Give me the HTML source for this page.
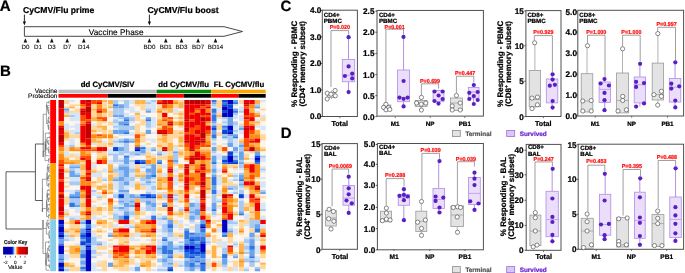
<!DOCTYPE html>
<html><head><meta charset="utf-8"><title>Figure</title>
<style>
html,body{margin:0;padding:0;background:#fff;}
svg{display:block;font-family:"Liberation Sans", sans-serif;text-rendering:geometricPrecision;will-change:transform;}
</style></head>
<body>
<svg width="685" height="273" viewBox="0 0 685 273">
<rect x="0" y="0" width="685" height="273" fill="#fff"/>
<text x="-0.3" y="11.0" font-size="15.1" font-weight="bold" text-anchor="start" fill="#000" stroke="#000" stroke-width="0.22" >A</text>
<text x="23.1" y="13.2" font-size="8.6" font-weight="bold" text-anchor="start" fill="#000" stroke="#000" stroke-width="0.22" >CyCMV/Flu prime</text>
<text x="147.4" y="13.2" font-size="8.6" font-weight="bold" text-anchor="start" fill="#000" stroke="#000" stroke-width="0.22" >CyCMV/Flu boost</text>
<line x1="24.4" y1="14.6" x2="24.4" y2="22.5" stroke="#111" stroke-width="0.9"/>
<polygon points="22.799999999999997,21.6 26.0,21.6 24.4,25.6" fill="#111"/>
<line x1="149.4" y1="14.6" x2="149.4" y2="22.5" stroke="#111" stroke-width="0.9"/>
<polygon points="147.8,21.6 151.0,21.6 149.4,25.6" fill="#111"/>
<polygon points="24.4,26.7 224,26.7 242.5,31.5 224,36.3 24.4,36.3" fill="#fff" stroke="#333" stroke-width="0.9"/>
<text x="88.8" y="34.5" font-size="8.3" font-weight="normal" text-anchor="start" fill="#000" stroke="#000" stroke-width="0.12" >Vaccine Phase</text>
<polygon points="23.599999999999998,42.4 27.2,42.4 25.4,38.2" fill="#111"/>
<text x="25.4" y="48.8" font-size="6.2" font-weight="normal" text-anchor="middle" fill="#111" stroke="#111" stroke-width="0.12" >D0</text>
<polygon points="36.1,42.4 39.699999999999996,42.4 37.9,38.2" fill="#111"/>
<text x="37.9" y="48.8" font-size="6.2" font-weight="normal" text-anchor="middle" fill="#111" stroke="#111" stroke-width="0.12" >D1</text>
<polygon points="50.0,42.4 53.599999999999994,42.4 51.8,38.2" fill="#111"/>
<text x="51.8" y="48.8" font-size="6.2" font-weight="normal" text-anchor="middle" fill="#111" stroke="#111" stroke-width="0.12" >D3</text>
<polygon points="65.4,42.4 69.0,42.4 67.2,38.2" fill="#111"/>
<text x="67.2" y="48.8" font-size="6.2" font-weight="normal" text-anchor="middle" fill="#111" stroke="#111" stroke-width="0.12" >D7</text>
<polygon points="82.0,42.4 85.6,42.4 83.8,38.2" fill="#111"/>
<text x="83.8" y="48.8" font-size="6.2" font-weight="normal" text-anchor="middle" fill="#111" stroke="#111" stroke-width="0.12" >D14</text>
<polygon points="147.6,42.4 151.20000000000002,42.4 149.4,38.2" fill="#111"/>
<text x="149.4" y="48.8" font-size="6.2" font-weight="normal" text-anchor="middle" fill="#111" stroke="#111" stroke-width="0.12" >BD0</text>
<polygon points="164.0,42.4 167.60000000000002,42.4 165.8,38.2" fill="#111"/>
<text x="165.8" y="48.8" font-size="6.2" font-weight="normal" text-anchor="middle" fill="#111" stroke="#111" stroke-width="0.12" >BD1</text>
<polygon points="179.7,42.4 183.3,42.4 181.5,38.2" fill="#111"/>
<text x="181.5" y="48.8" font-size="6.2" font-weight="normal" text-anchor="middle" fill="#111" stroke="#111" stroke-width="0.12" >BD3</text>
<polygon points="196.29999999999998,42.4 199.9,42.4 198.1,38.2" fill="#111"/>
<text x="198.1" y="48.8" font-size="6.2" font-weight="normal" text-anchor="middle" fill="#111" stroke="#111" stroke-width="0.12" >BD7</text>
<polygon points="213.7,42.4 217.3,42.4 215.5,38.2" fill="#111"/>
<text x="215.5" y="48.8" font-size="6.2" font-weight="normal" text-anchor="middle" fill="#111" stroke="#111" stroke-width="0.12" >BD14</text>
<text x="0.1" y="75.7" font-size="15.0" font-weight="bold" text-anchor="start" fill="#000" stroke="#000" stroke-width="0.22" >B</text>
<text x="107.6" y="87" font-size="7.8" font-weight="bold" text-anchor="middle" fill="#000" stroke="#000" stroke-width="0.22" >dd CyCMV/SIV</text>
<text x="183.6" y="87" font-size="7.8" font-weight="bold" text-anchor="middle" fill="#000" stroke="#000" stroke-width="0.22" >dd CyCMV/flu</text>
<text x="239.0" y="87" font-size="7.8" font-weight="bold" text-anchor="middle" fill="#000" stroke="#000" stroke-width="0.22" >FL CyCMV/flu</text>
<text x="57.4" y="93.3" font-size="6.5" font-weight="normal" text-anchor="end" fill="#000" stroke="#000" stroke-width="0.12" >Vaccine</text>
<text x="57.4" y="98.4" font-size="6.5" font-weight="normal" text-anchor="end" fill="#000" stroke="#000" stroke-width="0.12" >Protection</text>
<rect x="58.5" y="89.7" width="98.14736842105265" height="3.6" fill="#bebebe" stroke="none" stroke-width="1" />
<rect x="156.64736842105265" y="89.7" width="54.52631578947367" height="3.6" fill="#0a8a0a" stroke="none" stroke-width="1" />
<rect x="211.17368421052632" y="89.7" width="54.52631578947367" height="3.6" fill="#ffa500" stroke="none" stroke-width="1" />
<rect x="58.5" y="94.0" width="49.073684210526324" height="3.7" fill="#ff0000" stroke="none" stroke-width="1" />
<rect x="107.57368421052632" y="94.0" width="49.073684210526324" height="3.7" fill="#000" stroke="none" stroke-width="1" />
<rect x="156.64736842105265" y="94.0" width="27.26315789473682" height="3.7" fill="#ff0000" stroke="none" stroke-width="1" />
<rect x="183.91052631578947" y="94.0" width="27.26315789473685" height="3.7" fill="#000" stroke="none" stroke-width="1" />
<rect x="211.17368421052632" y="94.0" width="27.26315789473685" height="3.7" fill="#ff0000" stroke="none" stroke-width="1" />
<rect x="238.43684210526317" y="94.0" width="27.26315789473682" height="3.7" fill="#000" stroke="none" stroke-width="1" />
<rect x="58.50" y="100.00" width="5.50" height="8.61" fill="#c20000"/>
<rect x="58.50" y="108.56" width="5.50" height="12.89" fill="#ee0000"/>
<rect x="58.50" y="121.40" width="5.50" height="4.33" fill="#ff8b12"/>
<rect x="58.50" y="125.68" width="5.50" height="2.19" fill="#ee0000"/>
<rect x="58.50" y="127.82" width="5.50" height="2.19" fill="#c20000"/>
<rect x="58.50" y="129.96" width="5.50" height="4.33" fill="#ee0000"/>
<rect x="58.50" y="134.24" width="5.50" height="8.61" fill="#c20000"/>
<rect x="58.50" y="142.80" width="5.50" height="2.19" fill="#ee0000"/>
<rect x="58.50" y="144.94" width="5.50" height="2.19" fill="#ff4c00"/>
<rect x="58.50" y="147.08" width="5.50" height="4.33" fill="#ff8b12"/>
<rect x="58.50" y="151.36" width="5.50" height="2.19" fill="#ffb449"/>
<rect x="58.50" y="153.50" width="5.50" height="6.47" fill="#ff8b12"/>
<rect x="58.50" y="159.92" width="5.50" height="4.33" fill="#ff4c00"/>
<rect x="58.50" y="164.20" width="5.50" height="2.19" fill="#ee0000"/>
<rect x="58.50" y="166.34" width="5.50" height="2.19" fill="#ff4c00"/>
<rect x="58.50" y="168.48" width="5.50" height="4.33" fill="#ee0000"/>
<rect x="58.50" y="172.76" width="5.50" height="2.19" fill="#c20000"/>
<rect x="58.50" y="174.90" width="5.50" height="4.33" fill="#ee0000"/>
<rect x="58.50" y="179.18" width="5.50" height="2.19" fill="#ff4c00"/>
<rect x="58.50" y="181.32" width="5.50" height="10.75" fill="#ee0000"/>
<rect x="58.50" y="192.02" width="5.50" height="2.19" fill="#ff4c00"/>
<rect x="58.50" y="194.16" width="5.50" height="4.33" fill="#c20000"/>
<rect x="58.50" y="198.44" width="5.50" height="8.61" fill="#ee0000"/>
<rect x="58.50" y="207.00" width="5.50" height="4.33" fill="#c20000"/>
<rect x="58.50" y="211.28" width="5.50" height="4.33" fill="#ee0000"/>
<rect x="58.50" y="215.56" width="5.50" height="2.19" fill="#ff4c00"/>
<rect x="58.50" y="217.70" width="5.50" height="2.19" fill="#ff8b12"/>
<rect x="58.50" y="219.84" width="5.50" height="4.33" fill="#0000c0"/>
<rect x="58.50" y="224.12" width="5.50" height="2.19" fill="#0a44da"/>
<rect x="58.50" y="226.26" width="5.50" height="6.47" fill="#0000c0"/>
<rect x="58.50" y="232.68" width="5.50" height="2.19" fill="#0a44da"/>
<rect x="58.50" y="234.82" width="5.50" height="2.19" fill="#0000c0"/>
<rect x="58.50" y="236.96" width="5.50" height="2.19" fill="#3276e4"/>
<rect x="58.50" y="239.10" width="5.50" height="4.33" fill="#6ca4ec"/>
<rect x="58.50" y="243.38" width="5.50" height="2.19" fill="#3276e4"/>
<rect x="58.50" y="245.52" width="5.50" height="8.61" fill="#0000c0"/>
<rect x="58.50" y="254.08" width="5.50" height="4.33" fill="#6ca4ec"/>
<rect x="58.50" y="258.36" width="5.50" height="2.19" fill="#3276e4"/>
<rect x="58.50" y="260.50" width="5.50" height="2.19" fill="#6ca4ec"/>
<rect x="58.50" y="262.64" width="5.50" height="4.33" fill="#0000c0"/>
<rect x="58.50" y="266.92" width="5.50" height="2.19" fill="#0a44da"/>
<rect x="58.50" y="269.06" width="5.50" height="2.19" fill="#0000c0"/>
<rect x="63.95" y="100.00" width="5.50" height="4.33" fill="#ffd79c"/>
<rect x="63.95" y="104.28" width="5.50" height="2.19" fill="#fef4ea"/>
<rect x="63.95" y="106.42" width="5.50" height="2.19" fill="#ffd79c"/>
<rect x="63.95" y="108.56" width="5.50" height="2.19" fill="#6ca4ec"/>
<rect x="63.95" y="110.70" width="5.50" height="2.19" fill="#a8caf2"/>
<rect x="63.95" y="112.84" width="5.50" height="2.19" fill="#ffd79c"/>
<rect x="63.95" y="114.98" width="5.50" height="2.19" fill="#ffb449"/>
<rect x="63.95" y="117.12" width="5.50" height="6.47" fill="#fef4ea"/>
<rect x="63.95" y="123.54" width="5.50" height="6.47" fill="#d6e6f8"/>
<rect x="63.95" y="129.96" width="5.50" height="2.19" fill="#ffd79c"/>
<rect x="63.95" y="132.10" width="5.50" height="6.47" fill="#ffb449"/>
<rect x="63.95" y="138.52" width="5.50" height="2.19" fill="#ffd79c"/>
<rect x="63.95" y="140.66" width="5.50" height="4.33" fill="#fef4ea"/>
<rect x="63.95" y="144.94" width="5.50" height="2.19" fill="#d6e6f8"/>
<rect x="63.95" y="147.08" width="5.50" height="4.33" fill="#ffd79c"/>
<rect x="63.95" y="151.36" width="5.50" height="4.33" fill="#d6e6f8"/>
<rect x="63.95" y="155.64" width="5.50" height="2.19" fill="#ffd79c"/>
<rect x="63.95" y="157.78" width="5.50" height="4.33" fill="#ffb449"/>
<rect x="63.95" y="162.06" width="5.50" height="2.19" fill="#ff8b12"/>
<rect x="63.95" y="164.20" width="5.50" height="4.33" fill="#fef4ea"/>
<rect x="63.95" y="168.48" width="5.50" height="2.19" fill="#ffd79c"/>
<rect x="63.95" y="170.62" width="5.50" height="2.19" fill="#ffb449"/>
<rect x="63.95" y="172.76" width="5.50" height="4.33" fill="#fef4ea"/>
<rect x="63.95" y="177.04" width="5.50" height="2.19" fill="#ffd79c"/>
<rect x="63.95" y="179.18" width="5.50" height="2.19" fill="#fef4ea"/>
<rect x="63.95" y="181.32" width="5.50" height="2.19" fill="#ffd79c"/>
<rect x="63.95" y="183.46" width="5.50" height="2.19" fill="#fef4ea"/>
<rect x="63.95" y="185.60" width="5.50" height="2.19" fill="#ffd79c"/>
<rect x="63.95" y="187.74" width="5.50" height="2.19" fill="#fef4ea"/>
<rect x="63.95" y="189.88" width="5.50" height="2.19" fill="#d6e6f8"/>
<rect x="63.95" y="192.02" width="5.50" height="4.33" fill="#fef4ea"/>
<rect x="63.95" y="196.30" width="5.50" height="8.61" fill="#ffd79c"/>
<rect x="63.95" y="204.86" width="5.50" height="4.33" fill="#fef4ea"/>
<rect x="63.95" y="209.14" width="5.50" height="2.19" fill="#d6e6f8"/>
<rect x="63.95" y="211.28" width="5.50" height="2.19" fill="#ffd79c"/>
<rect x="63.95" y="213.42" width="5.50" height="2.19" fill="#ffb449"/>
<rect x="63.95" y="215.56" width="5.50" height="2.19" fill="#d6e6f8"/>
<rect x="63.95" y="217.70" width="5.50" height="4.33" fill="#fef4ea"/>
<rect x="63.95" y="221.98" width="5.50" height="2.19" fill="#ffd79c"/>
<rect x="63.95" y="224.12" width="5.50" height="4.33" fill="#fef4ea"/>
<rect x="63.95" y="228.40" width="5.50" height="2.19" fill="#ffd79c"/>
<rect x="63.95" y="230.54" width="5.50" height="2.19" fill="#ffb449"/>
<rect x="63.95" y="232.68" width="5.50" height="2.19" fill="#d6e6f8"/>
<rect x="63.95" y="234.82" width="5.50" height="2.19" fill="#a8caf2"/>
<rect x="63.95" y="236.96" width="5.50" height="2.19" fill="#d6e6f8"/>
<rect x="63.95" y="239.10" width="5.50" height="2.19" fill="#a8caf2"/>
<rect x="63.95" y="241.24" width="5.50" height="4.33" fill="#fef4ea"/>
<rect x="63.95" y="245.52" width="5.50" height="2.19" fill="#ffd79c"/>
<rect x="63.95" y="247.66" width="5.50" height="2.19" fill="#fef4ea"/>
<rect x="63.95" y="249.80" width="5.50" height="2.19" fill="#ffd79c"/>
<rect x="63.95" y="251.94" width="5.50" height="2.19" fill="#fef4ea"/>
<rect x="63.95" y="254.08" width="5.50" height="6.47" fill="#d6e6f8"/>
<rect x="63.95" y="260.50" width="5.50" height="2.19" fill="#fef4ea"/>
<rect x="63.95" y="262.64" width="5.50" height="4.33" fill="#ffb449"/>
<rect x="63.95" y="266.92" width="5.50" height="2.19" fill="#d6e6f8"/>
<rect x="63.95" y="269.06" width="5.50" height="2.19" fill="#a8caf2"/>
<rect x="69.41" y="100.00" width="5.50" height="2.19" fill="#d6e6f8"/>
<rect x="69.41" y="102.14" width="5.50" height="2.19" fill="#fef4ea"/>
<rect x="69.41" y="104.28" width="5.50" height="2.19" fill="#ffd79c"/>
<rect x="69.41" y="106.42" width="5.50" height="2.19" fill="#ffb449"/>
<rect x="69.41" y="108.56" width="5.50" height="2.19" fill="#fef4ea"/>
<rect x="69.41" y="110.70" width="5.50" height="2.19" fill="#ffd79c"/>
<rect x="69.41" y="112.84" width="5.50" height="2.19" fill="#d6e6f8"/>
<rect x="69.41" y="114.98" width="5.50" height="2.19" fill="#a8caf2"/>
<rect x="69.41" y="117.12" width="5.50" height="4.33" fill="#d6e6f8"/>
<rect x="69.41" y="121.40" width="5.50" height="4.33" fill="#fef4ea"/>
<rect x="69.41" y="125.68" width="5.50" height="2.19" fill="#d6e6f8"/>
<rect x="69.41" y="127.82" width="5.50" height="2.19" fill="#fef4ea"/>
<rect x="69.41" y="129.96" width="5.50" height="4.33" fill="#d6e6f8"/>
<rect x="69.41" y="134.24" width="5.50" height="4.33" fill="#ffd79c"/>
<rect x="69.41" y="138.52" width="5.50" height="6.47" fill="#d6e6f8"/>
<rect x="69.41" y="144.94" width="5.50" height="2.19" fill="#a8caf2"/>
<rect x="69.41" y="147.08" width="5.50" height="4.33" fill="#ff8b12"/>
<rect x="69.41" y="151.36" width="5.50" height="2.19" fill="#fef4ea"/>
<rect x="69.41" y="153.50" width="5.50" height="4.33" fill="#ffd79c"/>
<rect x="69.41" y="157.78" width="5.50" height="2.19" fill="#fef4ea"/>
<rect x="69.41" y="159.92" width="5.50" height="2.19" fill="#ffb449"/>
<rect x="69.41" y="162.06" width="5.50" height="2.19" fill="#ff8b12"/>
<rect x="69.41" y="164.20" width="5.50" height="2.19" fill="#a8caf2"/>
<rect x="69.41" y="166.34" width="5.50" height="2.19" fill="#6ca4ec"/>
<rect x="69.41" y="168.48" width="5.50" height="2.19" fill="#a8caf2"/>
<rect x="69.41" y="170.62" width="5.50" height="6.47" fill="#6ca4ec"/>
<rect x="69.41" y="177.04" width="5.50" height="4.33" fill="#d6e6f8"/>
<rect x="69.41" y="181.32" width="5.50" height="4.33" fill="#a8caf2"/>
<rect x="69.41" y="185.60" width="5.50" height="4.33" fill="#fef4ea"/>
<rect x="69.41" y="189.88" width="5.50" height="4.33" fill="#d6e6f8"/>
<rect x="69.41" y="194.16" width="5.50" height="2.19" fill="#6ca4ec"/>
<rect x="69.41" y="196.30" width="5.50" height="2.19" fill="#3276e4"/>
<rect x="69.41" y="198.44" width="5.50" height="4.33" fill="#a8caf2"/>
<rect x="69.41" y="202.72" width="5.50" height="4.33" fill="#3276e4"/>
<rect x="69.41" y="207.00" width="5.50" height="2.19" fill="#d6e6f8"/>
<rect x="69.41" y="209.14" width="5.50" height="6.47" fill="#fef4ea"/>
<rect x="69.41" y="215.56" width="5.50" height="2.19" fill="#d6e6f8"/>
<rect x="69.41" y="217.70" width="5.50" height="2.19" fill="#a8caf2"/>
<rect x="69.41" y="219.84" width="5.50" height="4.33" fill="#ffb449"/>
<rect x="69.41" y="224.12" width="5.50" height="4.33" fill="#ffd79c"/>
<rect x="69.41" y="228.40" width="5.50" height="2.19" fill="#ffb449"/>
<rect x="69.41" y="230.54" width="5.50" height="4.33" fill="#ffd79c"/>
<rect x="69.41" y="234.82" width="5.50" height="2.19" fill="#ffb449"/>
<rect x="69.41" y="236.96" width="5.50" height="4.33" fill="#d6e6f8"/>
<rect x="69.41" y="241.24" width="5.50" height="4.33" fill="#fef4ea"/>
<rect x="69.41" y="245.52" width="5.50" height="8.61" fill="#ffb449"/>
<rect x="69.41" y="254.08" width="5.50" height="4.33" fill="#ffd79c"/>
<rect x="69.41" y="258.36" width="5.50" height="4.33" fill="#fef4ea"/>
<rect x="69.41" y="262.64" width="5.50" height="2.19" fill="#ffd79c"/>
<rect x="69.41" y="264.78" width="5.50" height="2.19" fill="#ffb449"/>
<rect x="69.41" y="266.92" width="5.50" height="4.33" fill="#ffd79c"/>
<rect x="74.86" y="100.00" width="5.50" height="4.33" fill="#fef4ea"/>
<rect x="74.86" y="104.28" width="5.50" height="2.19" fill="#ffd79c"/>
<rect x="74.86" y="106.42" width="5.50" height="2.19" fill="#fef4ea"/>
<rect x="74.86" y="108.56" width="5.50" height="4.33" fill="#ffd79c"/>
<rect x="74.86" y="112.84" width="5.50" height="8.61" fill="#d6e6f8"/>
<rect x="74.86" y="121.40" width="5.50" height="2.19" fill="#fef4ea"/>
<rect x="74.86" y="123.54" width="5.50" height="8.61" fill="#d6e6f8"/>
<rect x="74.86" y="132.10" width="5.50" height="2.19" fill="#a8caf2"/>
<rect x="74.86" y="134.24" width="5.50" height="4.33" fill="#ffd79c"/>
<rect x="74.86" y="138.52" width="5.50" height="8.61" fill="#fef4ea"/>
<rect x="74.86" y="147.08" width="5.50" height="2.19" fill="#ffb449"/>
<rect x="74.86" y="149.22" width="5.50" height="2.19" fill="#ff8b12"/>
<rect x="74.86" y="151.36" width="5.50" height="2.19" fill="#fef4ea"/>
<rect x="74.86" y="153.50" width="5.50" height="2.19" fill="#d6e6f8"/>
<rect x="74.86" y="155.64" width="5.50" height="4.33" fill="#ffd79c"/>
<rect x="74.86" y="159.92" width="5.50" height="4.33" fill="#ffb449"/>
<rect x="74.86" y="164.20" width="5.50" height="2.19" fill="#a8caf2"/>
<rect x="74.86" y="166.34" width="5.50" height="2.19" fill="#6ca4ec"/>
<rect x="74.86" y="168.48" width="5.50" height="4.33" fill="#d6e6f8"/>
<rect x="74.86" y="172.76" width="5.50" height="2.19" fill="#a8caf2"/>
<rect x="74.86" y="174.90" width="5.50" height="2.19" fill="#6ca4ec"/>
<rect x="74.86" y="177.04" width="5.50" height="4.33" fill="#d6e6f8"/>
<rect x="74.86" y="181.32" width="5.50" height="4.33" fill="#a8caf2"/>
<rect x="74.86" y="185.60" width="5.50" height="4.33" fill="#fef4ea"/>
<rect x="74.86" y="189.88" width="5.50" height="2.19" fill="#a8caf2"/>
<rect x="74.86" y="192.02" width="5.50" height="4.33" fill="#6ca4ec"/>
<rect x="74.86" y="196.30" width="5.50" height="2.19" fill="#3276e4"/>
<rect x="74.86" y="198.44" width="5.50" height="6.47" fill="#a8caf2"/>
<rect x="74.86" y="204.86" width="5.50" height="2.19" fill="#6ca4ec"/>
<rect x="74.86" y="207.00" width="5.50" height="6.47" fill="#d6e6f8"/>
<rect x="74.86" y="213.42" width="5.50" height="2.19" fill="#fef4ea"/>
<rect x="74.86" y="215.56" width="5.50" height="4.33" fill="#d6e6f8"/>
<rect x="74.86" y="219.84" width="5.50" height="2.19" fill="#ff4c00"/>
<rect x="74.86" y="221.98" width="5.50" height="2.19" fill="#ee0000"/>
<rect x="74.86" y="224.12" width="5.50" height="4.33" fill="#ffd79c"/>
<rect x="74.86" y="228.40" width="5.50" height="2.19" fill="#ffb449"/>
<rect x="74.86" y="230.54" width="5.50" height="2.19" fill="#ff8b12"/>
<rect x="74.86" y="232.68" width="5.50" height="4.33" fill="#ffd79c"/>
<rect x="74.86" y="236.96" width="5.50" height="6.47" fill="#fef4ea"/>
<rect x="74.86" y="243.38" width="5.50" height="2.19" fill="#d6e6f8"/>
<rect x="74.86" y="245.52" width="5.50" height="2.19" fill="#ffb449"/>
<rect x="74.86" y="247.66" width="5.50" height="4.33" fill="#ff8b12"/>
<rect x="74.86" y="251.94" width="5.50" height="2.19" fill="#ffb449"/>
<rect x="74.86" y="254.08" width="5.50" height="4.33" fill="#ffd79c"/>
<rect x="74.86" y="258.36" width="5.50" height="8.61" fill="#fef4ea"/>
<rect x="74.86" y="266.92" width="5.50" height="4.33" fill="#ffd79c"/>
<rect x="80.31" y="100.00" width="5.50" height="4.33" fill="#ee0000"/>
<rect x="80.31" y="104.28" width="5.50" height="2.19" fill="#ff4c00"/>
<rect x="80.31" y="106.42" width="5.50" height="2.19" fill="#ff8b12"/>
<rect x="80.31" y="108.56" width="5.50" height="2.19" fill="#ee0000"/>
<rect x="80.31" y="110.70" width="5.50" height="2.19" fill="#c20000"/>
<rect x="80.31" y="112.84" width="5.50" height="2.19" fill="#ee0000"/>
<rect x="80.31" y="114.98" width="5.50" height="6.47" fill="#ff4c00"/>
<rect x="80.31" y="121.40" width="5.50" height="2.19" fill="#ff8b12"/>
<rect x="80.31" y="123.54" width="5.50" height="2.19" fill="#ff4c00"/>
<rect x="80.31" y="125.68" width="5.50" height="17.17" fill="#ee0000"/>
<rect x="80.31" y="142.80" width="5.50" height="2.19" fill="#ff8b12"/>
<rect x="80.31" y="144.94" width="5.50" height="2.19" fill="#ffb449"/>
<rect x="80.31" y="147.08" width="5.50" height="2.19" fill="#ee0000"/>
<rect x="80.31" y="149.22" width="5.50" height="2.19" fill="#ff4c00"/>
<rect x="80.31" y="151.36" width="5.50" height="4.33" fill="#ff8b12"/>
<rect x="80.31" y="155.64" width="5.50" height="2.19" fill="#ff4c00"/>
<rect x="80.31" y="157.78" width="5.50" height="2.19" fill="#ee0000"/>
<rect x="80.31" y="159.92" width="5.50" height="2.19" fill="#ffb449"/>
<rect x="80.31" y="162.06" width="5.50" height="2.19" fill="#ffd79c"/>
<rect x="80.31" y="164.20" width="5.50" height="6.47" fill="#ffb449"/>
<rect x="80.31" y="170.62" width="5.50" height="4.33" fill="#ffd79c"/>
<rect x="80.31" y="174.90" width="5.50" height="2.19" fill="#ffb449"/>
<rect x="80.31" y="177.04" width="5.50" height="2.19" fill="#ff4c00"/>
<rect x="80.31" y="179.18" width="5.50" height="6.47" fill="#ff8b12"/>
<rect x="80.31" y="185.60" width="5.50" height="4.33" fill="#ee0000"/>
<rect x="80.31" y="189.88" width="5.50" height="2.19" fill="#ff8b12"/>
<rect x="80.31" y="192.02" width="5.50" height="2.19" fill="#ffb449"/>
<rect x="80.31" y="194.16" width="5.50" height="4.33" fill="#ff8b12"/>
<rect x="80.31" y="198.44" width="5.50" height="4.33" fill="#ffd79c"/>
<rect x="80.31" y="202.72" width="5.50" height="4.33" fill="#ffb449"/>
<rect x="80.31" y="207.00" width="5.50" height="4.33" fill="#ffd79c"/>
<rect x="80.31" y="211.28" width="5.50" height="4.33" fill="#ff8b12"/>
<rect x="80.31" y="215.56" width="5.50" height="2.19" fill="#ffd79c"/>
<rect x="80.31" y="217.70" width="5.50" height="2.19" fill="#ffb449"/>
<rect x="80.31" y="219.84" width="5.50" height="2.19" fill="#a8caf2"/>
<rect x="80.31" y="221.98" width="5.50" height="2.19" fill="#6ca4ec"/>
<rect x="80.31" y="224.12" width="5.50" height="4.33" fill="#d6e6f8"/>
<rect x="80.31" y="228.40" width="5.50" height="4.33" fill="#6ca4ec"/>
<rect x="80.31" y="232.68" width="5.50" height="2.19" fill="#3276e4"/>
<rect x="80.31" y="234.82" width="5.50" height="2.19" fill="#0a44da"/>
<rect x="80.31" y="236.96" width="5.50" height="2.19" fill="#3276e4"/>
<rect x="80.31" y="239.10" width="5.50" height="2.19" fill="#6ca4ec"/>
<rect x="80.31" y="241.24" width="5.50" height="4.33" fill="#0a44da"/>
<rect x="80.31" y="245.52" width="5.50" height="4.33" fill="#a8caf2"/>
<rect x="80.31" y="249.80" width="5.50" height="4.33" fill="#6ca4ec"/>
<rect x="80.31" y="254.08" width="5.50" height="4.33" fill="#3276e4"/>
<rect x="80.31" y="258.36" width="5.50" height="2.19" fill="#a8caf2"/>
<rect x="80.31" y="260.50" width="5.50" height="4.33" fill="#6ca4ec"/>
<rect x="80.31" y="264.78" width="5.50" height="2.19" fill="#a8caf2"/>
<rect x="80.31" y="266.92" width="5.50" height="2.19" fill="#3276e4"/>
<rect x="80.31" y="269.06" width="5.50" height="2.19" fill="#6ca4ec"/>
<rect x="85.76" y="100.00" width="5.50" height="2.19" fill="#c20000"/>
<rect x="85.76" y="102.14" width="5.50" height="4.33" fill="#ee0000"/>
<rect x="85.76" y="106.42" width="5.50" height="6.47" fill="#c20000"/>
<rect x="85.76" y="112.84" width="5.50" height="6.47" fill="#ee0000"/>
<rect x="85.76" y="119.26" width="5.50" height="2.19" fill="#ff4c00"/>
<rect x="85.76" y="121.40" width="5.50" height="2.19" fill="#ee0000"/>
<rect x="85.76" y="123.54" width="5.50" height="15.03" fill="#c20000"/>
<rect x="85.76" y="138.52" width="5.50" height="6.47" fill="#ee0000"/>
<rect x="85.76" y="144.94" width="5.50" height="2.19" fill="#ff4c00"/>
<rect x="85.76" y="147.08" width="5.50" height="2.19" fill="#ee0000"/>
<rect x="85.76" y="149.22" width="5.50" height="2.19" fill="#ff4c00"/>
<rect x="85.76" y="151.36" width="5.50" height="2.19" fill="#ffb449"/>
<rect x="85.76" y="153.50" width="5.50" height="2.19" fill="#ff8b12"/>
<rect x="85.76" y="155.64" width="5.50" height="4.33" fill="#ff4c00"/>
<rect x="85.76" y="159.92" width="5.50" height="10.75" fill="#ee0000"/>
<rect x="85.76" y="170.62" width="5.50" height="2.19" fill="#ff4c00"/>
<rect x="85.76" y="172.76" width="5.50" height="2.19" fill="#ee0000"/>
<rect x="85.76" y="174.90" width="5.50" height="2.19" fill="#ff4c00"/>
<rect x="85.76" y="177.04" width="5.50" height="2.19" fill="#ee0000"/>
<rect x="85.76" y="179.18" width="5.50" height="2.19" fill="#c20000"/>
<rect x="85.76" y="181.32" width="5.50" height="4.33" fill="#ff8b12"/>
<rect x="85.76" y="185.60" width="5.50" height="8.61" fill="#ee0000"/>
<rect x="85.76" y="194.16" width="5.50" height="4.33" fill="#c20000"/>
<rect x="85.76" y="198.44" width="5.50" height="8.61" fill="#ee0000"/>
<rect x="85.76" y="207.00" width="5.50" height="4.33" fill="#ff8b12"/>
<rect x="85.76" y="211.28" width="5.50" height="2.19" fill="#ee0000"/>
<rect x="85.76" y="213.42" width="5.50" height="2.19" fill="#c20000"/>
<rect x="85.76" y="215.56" width="5.50" height="4.33" fill="#ff8b12"/>
<rect x="85.76" y="219.84" width="5.50" height="4.33" fill="#0000c0"/>
<rect x="85.76" y="224.12" width="5.50" height="4.33" fill="#3276e4"/>
<rect x="85.76" y="228.40" width="5.50" height="2.19" fill="#0000c0"/>
<rect x="85.76" y="230.54" width="5.50" height="2.19" fill="#0a44da"/>
<rect x="85.76" y="232.68" width="5.50" height="4.33" fill="#0000c0"/>
<rect x="85.76" y="236.96" width="5.50" height="6.47" fill="#0a44da"/>
<rect x="85.76" y="243.38" width="5.50" height="2.19" fill="#3276e4"/>
<rect x="85.76" y="245.52" width="5.50" height="2.19" fill="#0000c0"/>
<rect x="85.76" y="247.66" width="5.50" height="2.19" fill="#0a44da"/>
<rect x="85.76" y="249.80" width="5.50" height="21.45" fill="#0000c0"/>
<rect x="91.22" y="100.00" width="5.50" height="4.33" fill="#ff4c00"/>
<rect x="91.22" y="104.28" width="5.50" height="4.33" fill="#ffd79c"/>
<rect x="91.22" y="108.56" width="5.50" height="2.19" fill="#ffb449"/>
<rect x="91.22" y="110.70" width="5.50" height="6.47" fill="#ffd79c"/>
<rect x="91.22" y="117.12" width="5.50" height="4.33" fill="#ffb449"/>
<rect x="91.22" y="121.40" width="5.50" height="2.19" fill="#fef4ea"/>
<rect x="91.22" y="123.54" width="5.50" height="2.19" fill="#d6e6f8"/>
<rect x="91.22" y="125.68" width="5.50" height="4.33" fill="#ffd79c"/>
<rect x="91.22" y="129.96" width="5.50" height="2.19" fill="#ffb449"/>
<rect x="91.22" y="132.10" width="5.50" height="2.19" fill="#ffd79c"/>
<rect x="91.22" y="134.24" width="5.50" height="4.33" fill="#ff8b12"/>
<rect x="91.22" y="138.52" width="5.50" height="4.33" fill="#ffb449"/>
<rect x="91.22" y="142.80" width="5.50" height="2.19" fill="#d6e6f8"/>
<rect x="91.22" y="144.94" width="5.50" height="2.19" fill="#fef4ea"/>
<rect x="91.22" y="147.08" width="5.50" height="2.19" fill="#ff8b12"/>
<rect x="91.22" y="149.22" width="5.50" height="2.19" fill="#ff4c00"/>
<rect x="91.22" y="151.36" width="5.50" height="2.19" fill="#d6e6f8"/>
<rect x="91.22" y="153.50" width="5.50" height="8.61" fill="#fef4ea"/>
<rect x="91.22" y="162.06" width="5.50" height="2.19" fill="#ffd79c"/>
<rect x="91.22" y="164.20" width="5.50" height="4.33" fill="#d6e6f8"/>
<rect x="91.22" y="168.48" width="5.50" height="2.19" fill="#ffd79c"/>
<rect x="91.22" y="170.62" width="5.50" height="2.19" fill="#ffb449"/>
<rect x="91.22" y="172.76" width="5.50" height="4.33" fill="#d6e6f8"/>
<rect x="91.22" y="177.04" width="5.50" height="4.33" fill="#fef4ea"/>
<rect x="91.22" y="181.32" width="5.50" height="2.19" fill="#ffb449"/>
<rect x="91.22" y="183.46" width="5.50" height="4.33" fill="#ffd79c"/>
<rect x="91.22" y="187.74" width="5.50" height="2.19" fill="#fef4ea"/>
<rect x="91.22" y="189.88" width="5.50" height="2.19" fill="#a8caf2"/>
<rect x="91.22" y="192.02" width="5.50" height="4.33" fill="#d6e6f8"/>
<rect x="91.22" y="196.30" width="5.50" height="4.33" fill="#fef4ea"/>
<rect x="91.22" y="200.58" width="5.50" height="2.19" fill="#ffd79c"/>
<rect x="91.22" y="202.72" width="5.50" height="2.19" fill="#fef4ea"/>
<rect x="91.22" y="204.86" width="5.50" height="2.19" fill="#d6e6f8"/>
<rect x="91.22" y="207.00" width="5.50" height="8.61" fill="#ffd79c"/>
<rect x="91.22" y="215.56" width="5.50" height="4.33" fill="#d6e6f8"/>
<rect x="91.22" y="219.84" width="5.50" height="4.33" fill="#fef4ea"/>
<rect x="91.22" y="224.12" width="5.50" height="4.33" fill="#d6e6f8"/>
<rect x="91.22" y="228.40" width="5.50" height="2.19" fill="#fef4ea"/>
<rect x="91.22" y="230.54" width="5.50" height="2.19" fill="#ffd79c"/>
<rect x="91.22" y="232.68" width="5.50" height="4.33" fill="#d6e6f8"/>
<rect x="91.22" y="236.96" width="5.50" height="8.61" fill="#a8caf2"/>
<rect x="91.22" y="245.52" width="5.50" height="4.33" fill="#d6e6f8"/>
<rect x="91.22" y="249.80" width="5.50" height="4.33" fill="#a8caf2"/>
<rect x="91.22" y="254.08" width="5.50" height="2.19" fill="#d6e6f8"/>
<rect x="91.22" y="256.22" width="5.50" height="2.19" fill="#a8caf2"/>
<rect x="91.22" y="258.36" width="5.50" height="4.33" fill="#fef4ea"/>
<rect x="91.22" y="262.64" width="5.50" height="8.61" fill="#d6e6f8"/>
<rect x="96.67" y="100.00" width="5.50" height="2.19" fill="#ff4c00"/>
<rect x="96.67" y="102.14" width="5.50" height="2.19" fill="#ee0000"/>
<rect x="96.67" y="104.28" width="5.50" height="4.33" fill="#ff8b12"/>
<rect x="96.67" y="108.56" width="5.50" height="2.19" fill="#ff4c00"/>
<rect x="96.67" y="110.70" width="5.50" height="2.19" fill="#ee0000"/>
<rect x="96.67" y="112.84" width="5.50" height="4.33" fill="#ffb449"/>
<rect x="96.67" y="117.12" width="5.50" height="2.19" fill="#ff4c00"/>
<rect x="96.67" y="119.26" width="5.50" height="2.19" fill="#ff8b12"/>
<rect x="96.67" y="121.40" width="5.50" height="4.33" fill="#ffd79c"/>
<rect x="96.67" y="125.68" width="5.50" height="2.19" fill="#ffb449"/>
<rect x="96.67" y="127.82" width="5.50" height="4.33" fill="#ffd79c"/>
<rect x="96.67" y="132.10" width="5.50" height="2.19" fill="#fef4ea"/>
<rect x="96.67" y="134.24" width="5.50" height="2.19" fill="#ff4c00"/>
<rect x="96.67" y="136.38" width="5.50" height="2.19" fill="#ff8b12"/>
<rect x="96.67" y="138.52" width="5.50" height="2.19" fill="#ffd79c"/>
<rect x="96.67" y="140.66" width="5.50" height="2.19" fill="#ffb449"/>
<rect x="96.67" y="142.80" width="5.50" height="4.33" fill="#ffd79c"/>
<rect x="96.67" y="147.08" width="5.50" height="4.33" fill="#ee0000"/>
<rect x="96.67" y="151.36" width="5.50" height="2.19" fill="#ffb449"/>
<rect x="96.67" y="153.50" width="5.50" height="4.33" fill="#ffd79c"/>
<rect x="96.67" y="157.78" width="5.50" height="2.19" fill="#ffb449"/>
<rect x="96.67" y="159.92" width="5.50" height="4.33" fill="#ee0000"/>
<rect x="96.67" y="164.20" width="5.50" height="6.47" fill="#fef4ea"/>
<rect x="96.67" y="170.62" width="5.50" height="2.19" fill="#ffd79c"/>
<rect x="96.67" y="172.76" width="5.50" height="4.33" fill="#d6e6f8"/>
<rect x="96.67" y="177.04" width="5.50" height="6.47" fill="#ffd79c"/>
<rect x="96.67" y="183.46" width="5.50" height="2.19" fill="#fef4ea"/>
<rect x="96.67" y="185.60" width="5.50" height="4.33" fill="#ffb449"/>
<rect x="96.67" y="189.88" width="5.50" height="2.19" fill="#fef4ea"/>
<rect x="96.67" y="192.02" width="5.50" height="2.19" fill="#ffd79c"/>
<rect x="96.67" y="194.16" width="5.50" height="2.19" fill="#d6e6f8"/>
<rect x="96.67" y="196.30" width="5.50" height="2.19" fill="#a8caf2"/>
<rect x="96.67" y="198.44" width="5.50" height="2.19" fill="#ffd79c"/>
<rect x="96.67" y="200.58" width="5.50" height="6.47" fill="#fef4ea"/>
<rect x="96.67" y="207.00" width="5.50" height="4.33" fill="#ffb449"/>
<rect x="96.67" y="211.28" width="5.50" height="4.33" fill="#ffd79c"/>
<rect x="96.67" y="215.56" width="5.50" height="2.19" fill="#fef4ea"/>
<rect x="96.67" y="217.70" width="5.50" height="2.19" fill="#d6e6f8"/>
<rect x="96.67" y="219.84" width="5.50" height="2.19" fill="#ffb449"/>
<rect x="96.67" y="221.98" width="5.50" height="2.19" fill="#ff8b12"/>
<rect x="96.67" y="224.12" width="5.50" height="2.19" fill="#ffd79c"/>
<rect x="96.67" y="226.26" width="5.50" height="2.19" fill="#fef4ea"/>
<rect x="96.67" y="228.40" width="5.50" height="2.19" fill="#ffd79c"/>
<rect x="96.67" y="230.54" width="5.50" height="2.19" fill="#ffb449"/>
<rect x="96.67" y="232.68" width="5.50" height="2.19" fill="#fef4ea"/>
<rect x="96.67" y="234.82" width="5.50" height="2.19" fill="#ffd79c"/>
<rect x="96.67" y="236.96" width="5.50" height="2.19" fill="#d6e6f8"/>
<rect x="96.67" y="239.10" width="5.50" height="2.19" fill="#fef4ea"/>
<rect x="96.67" y="241.24" width="5.50" height="2.19" fill="#a8caf2"/>
<rect x="96.67" y="243.38" width="5.50" height="2.19" fill="#6ca4ec"/>
<rect x="96.67" y="245.52" width="5.50" height="4.33" fill="#ffd79c"/>
<rect x="96.67" y="249.80" width="5.50" height="2.19" fill="#fef4ea"/>
<rect x="96.67" y="251.94" width="5.50" height="2.19" fill="#ffd79c"/>
<rect x="96.67" y="254.08" width="5.50" height="2.19" fill="#d6e6f8"/>
<rect x="96.67" y="256.22" width="5.50" height="4.33" fill="#fef4ea"/>
<rect x="96.67" y="260.50" width="5.50" height="2.19" fill="#d6e6f8"/>
<rect x="96.67" y="262.64" width="5.50" height="4.33" fill="#ffd79c"/>
<rect x="96.67" y="266.92" width="5.50" height="2.19" fill="#fef4ea"/>
<rect x="96.67" y="269.06" width="5.50" height="2.19" fill="#d6e6f8"/>
<rect x="102.12" y="100.00" width="5.50" height="2.19" fill="#ffb449"/>
<rect x="102.12" y="102.14" width="5.50" height="6.47" fill="#ffd79c"/>
<rect x="102.12" y="108.56" width="5.50" height="4.33" fill="#ff8b12"/>
<rect x="102.12" y="112.84" width="5.50" height="4.33" fill="#ffd79c"/>
<rect x="102.12" y="117.12" width="5.50" height="4.33" fill="#ff4c00"/>
<rect x="102.12" y="121.40" width="5.50" height="2.19" fill="#ffd79c"/>
<rect x="102.12" y="123.54" width="5.50" height="2.19" fill="#fef4ea"/>
<rect x="102.12" y="125.68" width="5.50" height="4.33" fill="#ffb449"/>
<rect x="102.12" y="129.96" width="5.50" height="4.33" fill="#ffd79c"/>
<rect x="102.12" y="134.24" width="5.50" height="4.33" fill="#ff8b12"/>
<rect x="102.12" y="138.52" width="5.50" height="2.19" fill="#fef4ea"/>
<rect x="102.12" y="140.66" width="5.50" height="2.19" fill="#d6e6f8"/>
<rect x="102.12" y="142.80" width="5.50" height="4.33" fill="#ffd79c"/>
<rect x="102.12" y="147.08" width="5.50" height="4.33" fill="#ee0000"/>
<rect x="102.12" y="151.36" width="5.50" height="4.33" fill="#ffd79c"/>
<rect x="102.12" y="155.64" width="5.50" height="2.19" fill="#ffb449"/>
<rect x="102.12" y="157.78" width="5.50" height="2.19" fill="#ff8b12"/>
<rect x="102.12" y="159.92" width="5.50" height="4.33" fill="#ff4c00"/>
<rect x="102.12" y="164.20" width="5.50" height="4.33" fill="#fef4ea"/>
<rect x="102.12" y="168.48" width="5.50" height="4.33" fill="#d6e6f8"/>
<rect x="102.12" y="172.76" width="5.50" height="4.33" fill="#fef4ea"/>
<rect x="102.12" y="177.04" width="5.50" height="2.19" fill="#d6e6f8"/>
<rect x="102.12" y="179.18" width="5.50" height="2.19" fill="#a8caf2"/>
<rect x="102.12" y="181.32" width="5.50" height="2.19" fill="#fef4ea"/>
<rect x="102.12" y="183.46" width="5.50" height="2.19" fill="#ffd79c"/>
<rect x="102.12" y="185.60" width="5.50" height="2.19" fill="#ffb449"/>
<rect x="102.12" y="187.74" width="5.50" height="2.19" fill="#ffd79c"/>
<rect x="102.12" y="189.88" width="5.50" height="2.19" fill="#ff8b12"/>
<rect x="102.12" y="192.02" width="5.50" height="2.19" fill="#ff4c00"/>
<rect x="102.12" y="194.16" width="5.50" height="4.33" fill="#ffd79c"/>
<rect x="102.12" y="198.44" width="5.50" height="4.33" fill="#fef4ea"/>
<rect x="102.12" y="202.72" width="5.50" height="2.19" fill="#d6e6f8"/>
<rect x="102.12" y="204.86" width="5.50" height="2.19" fill="#fef4ea"/>
<rect x="102.12" y="207.00" width="5.50" height="4.33" fill="#ffd79c"/>
<rect x="102.12" y="211.28" width="5.50" height="4.33" fill="#fef4ea"/>
<rect x="102.12" y="215.56" width="5.50" height="2.19" fill="#d6e6f8"/>
<rect x="102.12" y="217.70" width="5.50" height="2.19" fill="#fef4ea"/>
<rect x="102.12" y="219.84" width="5.50" height="4.33" fill="#ffb449"/>
<rect x="102.12" y="224.12" width="5.50" height="4.33" fill="#ffd79c"/>
<rect x="102.12" y="228.40" width="5.50" height="2.19" fill="#fef4ea"/>
<rect x="102.12" y="230.54" width="5.50" height="2.19" fill="#ffd79c"/>
<rect x="102.12" y="232.68" width="5.50" height="8.61" fill="#fef4ea"/>
<rect x="102.12" y="241.24" width="5.50" height="4.33" fill="#d6e6f8"/>
<rect x="102.12" y="245.52" width="5.50" height="4.33" fill="#ffd79c"/>
<rect x="102.12" y="249.80" width="5.50" height="2.19" fill="#fef4ea"/>
<rect x="102.12" y="251.94" width="5.50" height="2.19" fill="#d6e6f8"/>
<rect x="102.12" y="254.08" width="5.50" height="6.47" fill="#fef4ea"/>
<rect x="102.12" y="260.50" width="5.50" height="10.75" fill="#ffd79c"/>
<rect x="107.57" y="100.00" width="5.50" height="4.33" fill="#ffb449"/>
<rect x="107.57" y="104.28" width="5.50" height="2.19" fill="#ffd79c"/>
<rect x="107.57" y="106.42" width="5.50" height="2.19" fill="#ffb449"/>
<rect x="107.57" y="108.56" width="5.50" height="2.19" fill="#fef4ea"/>
<rect x="107.57" y="110.70" width="5.50" height="6.47" fill="#ffd79c"/>
<rect x="107.57" y="117.12" width="5.50" height="4.33" fill="#fef4ea"/>
<rect x="107.57" y="121.40" width="5.50" height="4.33" fill="#ffd79c"/>
<rect x="107.57" y="125.68" width="5.50" height="4.33" fill="#fef4ea"/>
<rect x="107.57" y="129.96" width="5.50" height="4.33" fill="#ffd79c"/>
<rect x="107.57" y="134.24" width="5.50" height="4.33" fill="#ff8b12"/>
<rect x="107.57" y="138.52" width="5.50" height="4.33" fill="#ffd79c"/>
<rect x="107.57" y="142.80" width="5.50" height="2.19" fill="#ffb449"/>
<rect x="107.57" y="144.94" width="5.50" height="2.19" fill="#ffd79c"/>
<rect x="107.57" y="147.08" width="5.50" height="2.19" fill="#fef4ea"/>
<rect x="107.57" y="149.22" width="5.50" height="4.33" fill="#d6e6f8"/>
<rect x="107.57" y="153.50" width="5.50" height="2.19" fill="#a8caf2"/>
<rect x="107.57" y="155.64" width="5.50" height="4.33" fill="#fef4ea"/>
<rect x="107.57" y="159.92" width="5.50" height="4.33" fill="#d6e6f8"/>
<rect x="107.57" y="164.20" width="5.50" height="6.47" fill="#ffb449"/>
<rect x="107.57" y="170.62" width="5.50" height="2.19" fill="#ff8b12"/>
<rect x="107.57" y="172.76" width="5.50" height="2.19" fill="#ffd79c"/>
<rect x="107.57" y="174.90" width="5.50" height="6.47" fill="#ffb449"/>
<rect x="107.57" y="181.32" width="5.50" height="2.19" fill="#ffd79c"/>
<rect x="107.57" y="183.46" width="5.50" height="6.47" fill="#ffb449"/>
<rect x="107.57" y="189.88" width="5.50" height="2.19" fill="#ffd79c"/>
<rect x="107.57" y="192.02" width="5.50" height="2.19" fill="#ffb449"/>
<rect x="107.57" y="194.16" width="5.50" height="4.33" fill="#fef4ea"/>
<rect x="107.57" y="198.44" width="5.50" height="4.33" fill="#ff4c00"/>
<rect x="107.57" y="202.72" width="5.50" height="2.19" fill="#ff8b12"/>
<rect x="107.57" y="204.86" width="5.50" height="6.47" fill="#ffb449"/>
<rect x="107.57" y="211.28" width="5.50" height="4.33" fill="#ffd79c"/>
<rect x="107.57" y="215.56" width="5.50" height="2.19" fill="#fef4ea"/>
<rect x="107.57" y="217.70" width="5.50" height="2.19" fill="#ffd79c"/>
<rect x="107.57" y="219.84" width="5.50" height="2.19" fill="#fef4ea"/>
<rect x="107.57" y="221.98" width="5.50" height="6.47" fill="#ffd79c"/>
<rect x="107.57" y="228.40" width="5.50" height="2.19" fill="#d6e6f8"/>
<rect x="107.57" y="230.54" width="5.50" height="2.19" fill="#fef4ea"/>
<rect x="107.57" y="232.68" width="5.50" height="2.19" fill="#a8caf2"/>
<rect x="107.57" y="234.82" width="5.50" height="2.19" fill="#6ca4ec"/>
<rect x="107.57" y="236.96" width="5.50" height="2.19" fill="#fef4ea"/>
<rect x="107.57" y="239.10" width="5.50" height="2.19" fill="#ffd79c"/>
<rect x="107.57" y="241.24" width="5.50" height="2.19" fill="#fef4ea"/>
<rect x="107.57" y="243.38" width="5.50" height="2.19" fill="#d6e6f8"/>
<rect x="107.57" y="245.52" width="5.50" height="2.19" fill="#ffd79c"/>
<rect x="107.57" y="247.66" width="5.50" height="2.19" fill="#fef4ea"/>
<rect x="107.57" y="249.80" width="5.50" height="4.33" fill="#ffd79c"/>
<rect x="107.57" y="254.08" width="5.50" height="4.33" fill="#d6e6f8"/>
<rect x="107.57" y="258.36" width="5.50" height="4.33" fill="#fef4ea"/>
<rect x="107.57" y="262.64" width="5.50" height="4.33" fill="#6ca4ec"/>
<rect x="107.57" y="266.92" width="5.50" height="4.33" fill="#fef4ea"/>
<rect x="113.03" y="100.00" width="5.50" height="4.33" fill="#a8caf2"/>
<rect x="113.03" y="104.28" width="5.50" height="2.19" fill="#3276e4"/>
<rect x="113.03" y="106.42" width="5.50" height="2.19" fill="#6ca4ec"/>
<rect x="113.03" y="108.56" width="5.50" height="6.47" fill="#a8caf2"/>
<rect x="113.03" y="114.98" width="5.50" height="2.19" fill="#6ca4ec"/>
<rect x="113.03" y="117.12" width="5.50" height="2.19" fill="#d6e6f8"/>
<rect x="113.03" y="119.26" width="5.50" height="4.33" fill="#a8caf2"/>
<rect x="113.03" y="123.54" width="5.50" height="2.19" fill="#d6e6f8"/>
<rect x="113.03" y="125.68" width="5.50" height="2.19" fill="#a8caf2"/>
<rect x="113.03" y="127.82" width="5.50" height="2.19" fill="#d6e6f8"/>
<rect x="113.03" y="129.96" width="5.50" height="4.33" fill="#6ca4ec"/>
<rect x="113.03" y="134.24" width="5.50" height="2.19" fill="#fef4ea"/>
<rect x="113.03" y="136.38" width="5.50" height="2.19" fill="#ffd79c"/>
<rect x="113.03" y="138.52" width="5.50" height="2.19" fill="#d6e6f8"/>
<rect x="113.03" y="140.66" width="5.50" height="2.19" fill="#a8caf2"/>
<rect x="113.03" y="142.80" width="5.50" height="4.33" fill="#d6e6f8"/>
<rect x="113.03" y="147.08" width="5.50" height="4.33" fill="#0a44da"/>
<rect x="113.03" y="151.36" width="5.50" height="2.19" fill="#d6e6f8"/>
<rect x="113.03" y="153.50" width="5.50" height="8.61" fill="#a8caf2"/>
<rect x="113.03" y="162.06" width="5.50" height="2.19" fill="#d6e6f8"/>
<rect x="113.03" y="164.20" width="5.50" height="2.19" fill="#fef4ea"/>
<rect x="113.03" y="166.34" width="5.50" height="2.19" fill="#d6e6f8"/>
<rect x="113.03" y="168.48" width="5.50" height="4.33" fill="#a8caf2"/>
<rect x="113.03" y="172.76" width="5.50" height="4.33" fill="#ffd79c"/>
<rect x="113.03" y="177.04" width="5.50" height="2.19" fill="#a8caf2"/>
<rect x="113.03" y="179.18" width="5.50" height="2.19" fill="#6ca4ec"/>
<rect x="113.03" y="181.32" width="5.50" height="8.61" fill="#d6e6f8"/>
<rect x="113.03" y="189.88" width="5.50" height="2.19" fill="#fef4ea"/>
<rect x="113.03" y="192.02" width="5.50" height="2.19" fill="#d6e6f8"/>
<rect x="113.03" y="194.16" width="5.50" height="4.33" fill="#a8caf2"/>
<rect x="113.03" y="198.44" width="5.50" height="2.19" fill="#fef4ea"/>
<rect x="113.03" y="200.58" width="5.50" height="2.19" fill="#ffd79c"/>
<rect x="113.03" y="202.72" width="5.50" height="2.19" fill="#fef4ea"/>
<rect x="113.03" y="204.86" width="5.50" height="2.19" fill="#d6e6f8"/>
<rect x="113.03" y="207.00" width="5.50" height="2.19" fill="#a8caf2"/>
<rect x="113.03" y="209.14" width="5.50" height="4.33" fill="#d6e6f8"/>
<rect x="113.03" y="213.42" width="5.50" height="6.47" fill="#a8caf2"/>
<rect x="113.03" y="219.84" width="5.50" height="2.19" fill="#ffd79c"/>
<rect x="113.03" y="221.98" width="5.50" height="2.19" fill="#fef4ea"/>
<rect x="113.03" y="224.12" width="5.50" height="4.33" fill="#d6e6f8"/>
<rect x="113.03" y="228.40" width="5.50" height="2.19" fill="#ff8b12"/>
<rect x="113.03" y="230.54" width="5.50" height="2.19" fill="#ff4c00"/>
<rect x="113.03" y="232.68" width="5.50" height="2.19" fill="#ffb449"/>
<rect x="113.03" y="234.82" width="5.50" height="2.19" fill="#ff8b12"/>
<rect x="113.03" y="236.96" width="5.50" height="2.19" fill="#ffd79c"/>
<rect x="113.03" y="239.10" width="5.50" height="6.47" fill="#fef4ea"/>
<rect x="113.03" y="245.52" width="5.50" height="2.19" fill="#ee0000"/>
<rect x="113.03" y="247.66" width="5.50" height="2.19" fill="#ff4c00"/>
<rect x="113.03" y="249.80" width="5.50" height="2.19" fill="#ee0000"/>
<rect x="113.03" y="251.94" width="5.50" height="2.19" fill="#ff4c00"/>
<rect x="113.03" y="254.08" width="5.50" height="2.19" fill="#ff8b12"/>
<rect x="113.03" y="256.22" width="5.50" height="2.19" fill="#ff4c00"/>
<rect x="113.03" y="258.36" width="5.50" height="2.19" fill="#ffb449"/>
<rect x="113.03" y="260.50" width="5.50" height="4.33" fill="#ffd79c"/>
<rect x="113.03" y="264.78" width="5.50" height="2.19" fill="#ffb449"/>
<rect x="113.03" y="266.92" width="5.50" height="2.19" fill="#ffd79c"/>
<rect x="113.03" y="269.06" width="5.50" height="2.19" fill="#fef4ea"/>
<rect x="118.48" y="100.00" width="5.50" height="2.19" fill="#d6e6f8"/>
<rect x="118.48" y="102.14" width="5.50" height="2.19" fill="#fef4ea"/>
<rect x="118.48" y="104.28" width="5.50" height="4.33" fill="#6ca4ec"/>
<rect x="118.48" y="108.56" width="5.50" height="6.47" fill="#a8caf2"/>
<rect x="118.48" y="114.98" width="5.50" height="2.19" fill="#6ca4ec"/>
<rect x="118.48" y="117.12" width="5.50" height="2.19" fill="#a8caf2"/>
<rect x="118.48" y="119.26" width="5.50" height="2.19" fill="#d6e6f8"/>
<rect x="118.48" y="121.40" width="5.50" height="4.33" fill="#6ca4ec"/>
<rect x="118.48" y="125.68" width="5.50" height="4.33" fill="#a8caf2"/>
<rect x="118.48" y="129.96" width="5.50" height="4.33" fill="#6ca4ec"/>
<rect x="118.48" y="134.24" width="5.50" height="2.19" fill="#d6e6f8"/>
<rect x="118.48" y="136.38" width="5.50" height="2.19" fill="#fef4ea"/>
<rect x="118.48" y="138.52" width="5.50" height="2.19" fill="#a8caf2"/>
<rect x="118.48" y="140.66" width="5.50" height="2.19" fill="#6ca4ec"/>
<rect x="118.48" y="142.80" width="5.50" height="4.33" fill="#d6e6f8"/>
<rect x="118.48" y="147.08" width="5.50" height="4.33" fill="#6ca4ec"/>
<rect x="118.48" y="151.36" width="5.50" height="4.33" fill="#a8caf2"/>
<rect x="118.48" y="155.64" width="5.50" height="2.19" fill="#fef4ea"/>
<rect x="118.48" y="157.78" width="5.50" height="2.19" fill="#d6e6f8"/>
<rect x="118.48" y="159.92" width="5.50" height="2.19" fill="#a8caf2"/>
<rect x="118.48" y="162.06" width="5.50" height="2.19" fill="#d6e6f8"/>
<rect x="118.48" y="164.20" width="5.50" height="2.19" fill="#a8caf2"/>
<rect x="118.48" y="166.34" width="5.50" height="4.33" fill="#6ca4ec"/>
<rect x="118.48" y="170.62" width="5.50" height="6.47" fill="#a8caf2"/>
<rect x="118.48" y="177.04" width="5.50" height="4.33" fill="#6ca4ec"/>
<rect x="118.48" y="181.32" width="5.50" height="8.61" fill="#a8caf2"/>
<rect x="118.48" y="189.88" width="5.50" height="2.19" fill="#6ca4ec"/>
<rect x="118.48" y="192.02" width="5.50" height="2.19" fill="#a8caf2"/>
<rect x="118.48" y="194.16" width="5.50" height="4.33" fill="#0a44da"/>
<rect x="118.48" y="198.44" width="5.50" height="2.19" fill="#a8caf2"/>
<rect x="118.48" y="200.58" width="5.50" height="2.19" fill="#6ca4ec"/>
<rect x="118.48" y="202.72" width="5.50" height="2.19" fill="#a8caf2"/>
<rect x="118.48" y="204.86" width="5.50" height="2.19" fill="#d6e6f8"/>
<rect x="118.48" y="207.00" width="5.50" height="2.19" fill="#6ca4ec"/>
<rect x="118.48" y="209.14" width="5.50" height="2.19" fill="#a8caf2"/>
<rect x="118.48" y="211.28" width="5.50" height="4.33" fill="#d6e6f8"/>
<rect x="118.48" y="215.56" width="5.50" height="4.33" fill="#6ca4ec"/>
<rect x="118.48" y="219.84" width="5.50" height="4.33" fill="#ee0000"/>
<rect x="118.48" y="224.12" width="5.50" height="2.19" fill="#fef4ea"/>
<rect x="118.48" y="226.26" width="5.50" height="2.19" fill="#ffd79c"/>
<rect x="118.48" y="228.40" width="5.50" height="4.33" fill="#ee0000"/>
<rect x="118.48" y="232.68" width="5.50" height="4.33" fill="#ff8b12"/>
<rect x="118.48" y="236.96" width="5.50" height="6.47" fill="#ffd79c"/>
<rect x="118.48" y="243.38" width="5.50" height="2.19" fill="#ffb449"/>
<rect x="118.48" y="245.52" width="5.50" height="6.47" fill="#ee0000"/>
<rect x="118.48" y="251.94" width="5.50" height="4.33" fill="#ff4c00"/>
<rect x="118.48" y="256.22" width="5.50" height="2.19" fill="#ff8b12"/>
<rect x="118.48" y="258.36" width="5.50" height="8.61" fill="#ffb449"/>
<rect x="118.48" y="266.92" width="5.50" height="4.33" fill="#ffd79c"/>
<rect x="123.93" y="100.00" width="5.50" height="8.61" fill="#a8caf2"/>
<rect x="123.93" y="108.56" width="5.50" height="2.19" fill="#d6e6f8"/>
<rect x="123.93" y="110.70" width="5.50" height="2.19" fill="#fef4ea"/>
<rect x="123.93" y="112.84" width="5.50" height="4.33" fill="#d6e6f8"/>
<rect x="123.93" y="117.12" width="5.50" height="2.19" fill="#6ca4ec"/>
<rect x="123.93" y="119.26" width="5.50" height="2.19" fill="#3276e4"/>
<rect x="123.93" y="121.40" width="5.50" height="2.19" fill="#6ca4ec"/>
<rect x="123.93" y="123.54" width="5.50" height="2.19" fill="#3276e4"/>
<rect x="123.93" y="125.68" width="5.50" height="4.33" fill="#a8caf2"/>
<rect x="123.93" y="129.96" width="5.50" height="2.19" fill="#6ca4ec"/>
<rect x="123.93" y="132.10" width="5.50" height="2.19" fill="#3276e4"/>
<rect x="123.93" y="134.24" width="5.50" height="2.19" fill="#d6e6f8"/>
<rect x="123.93" y="136.38" width="5.50" height="2.19" fill="#fef4ea"/>
<rect x="123.93" y="138.52" width="5.50" height="2.19" fill="#6ca4ec"/>
<rect x="123.93" y="140.66" width="5.50" height="2.19" fill="#3276e4"/>
<rect x="123.93" y="142.80" width="5.50" height="10.75" fill="#a8caf2"/>
<rect x="123.93" y="153.50" width="5.50" height="2.19" fill="#d6e6f8"/>
<rect x="123.93" y="155.64" width="5.50" height="2.19" fill="#3276e4"/>
<rect x="123.93" y="157.78" width="5.50" height="6.47" fill="#6ca4ec"/>
<rect x="123.93" y="164.20" width="5.50" height="2.19" fill="#a8caf2"/>
<rect x="123.93" y="166.34" width="5.50" height="10.75" fill="#6ca4ec"/>
<rect x="123.93" y="177.04" width="5.50" height="4.33" fill="#a8caf2"/>
<rect x="123.93" y="181.32" width="5.50" height="4.33" fill="#6ca4ec"/>
<rect x="123.93" y="185.60" width="5.50" height="4.33" fill="#d6e6f8"/>
<rect x="123.93" y="189.88" width="5.50" height="2.19" fill="#6ca4ec"/>
<rect x="123.93" y="192.02" width="5.50" height="10.75" fill="#a8caf2"/>
<rect x="123.93" y="202.72" width="5.50" height="4.33" fill="#6ca4ec"/>
<rect x="123.93" y="207.00" width="5.50" height="4.33" fill="#a8caf2"/>
<rect x="123.93" y="211.28" width="5.50" height="4.33" fill="#6ca4ec"/>
<rect x="123.93" y="215.56" width="5.50" height="4.33" fill="#0a44da"/>
<rect x="123.93" y="219.84" width="5.50" height="4.33" fill="#ee0000"/>
<rect x="123.93" y="224.12" width="5.50" height="4.33" fill="#d6e6f8"/>
<rect x="123.93" y="228.40" width="5.50" height="4.33" fill="#ee0000"/>
<rect x="123.93" y="232.68" width="5.50" height="2.19" fill="#ff8b12"/>
<rect x="123.93" y="234.82" width="5.50" height="2.19" fill="#ff4c00"/>
<rect x="123.93" y="236.96" width="5.50" height="4.33" fill="#ffd79c"/>
<rect x="123.93" y="241.24" width="5.50" height="2.19" fill="#ffb449"/>
<rect x="123.93" y="243.38" width="5.50" height="2.19" fill="#ffd79c"/>
<rect x="123.93" y="245.52" width="5.50" height="6.47" fill="#ee0000"/>
<rect x="123.93" y="251.94" width="5.50" height="2.19" fill="#ff4c00"/>
<rect x="123.93" y="254.08" width="5.50" height="2.19" fill="#ff8b12"/>
<rect x="123.93" y="256.22" width="5.50" height="2.19" fill="#ff4c00"/>
<rect x="123.93" y="258.36" width="5.50" height="2.19" fill="#ffb449"/>
<rect x="123.93" y="260.50" width="5.50" height="2.19" fill="#ff8b12"/>
<rect x="123.93" y="262.64" width="5.50" height="2.19" fill="#ffb449"/>
<rect x="123.93" y="264.78" width="5.50" height="6.47" fill="#ffd79c"/>
<rect x="129.38" y="100.00" width="5.50" height="4.33" fill="#d6e6f8"/>
<rect x="129.38" y="104.28" width="5.50" height="2.19" fill="#fef4ea"/>
<rect x="129.38" y="106.42" width="5.50" height="6.47" fill="#d6e6f8"/>
<rect x="129.38" y="112.84" width="5.50" height="2.19" fill="#fef4ea"/>
<rect x="129.38" y="114.98" width="5.50" height="2.19" fill="#d6e6f8"/>
<rect x="129.38" y="117.12" width="5.50" height="4.33" fill="#a8caf2"/>
<rect x="129.38" y="121.40" width="5.50" height="2.19" fill="#d6e6f8"/>
<rect x="129.38" y="123.54" width="5.50" height="2.19" fill="#fef4ea"/>
<rect x="129.38" y="125.68" width="5.50" height="4.33" fill="#a8caf2"/>
<rect x="129.38" y="129.96" width="5.50" height="2.19" fill="#fef4ea"/>
<rect x="129.38" y="132.10" width="5.50" height="4.33" fill="#d6e6f8"/>
<rect x="129.38" y="136.38" width="5.50" height="2.19" fill="#fef4ea"/>
<rect x="129.38" y="138.52" width="5.50" height="2.19" fill="#a8caf2"/>
<rect x="129.38" y="140.66" width="5.50" height="2.19" fill="#6ca4ec"/>
<rect x="129.38" y="142.80" width="5.50" height="8.61" fill="#fef4ea"/>
<rect x="129.38" y="151.36" width="5.50" height="4.33" fill="#a8caf2"/>
<rect x="129.38" y="155.64" width="5.50" height="2.19" fill="#d6e6f8"/>
<rect x="129.38" y="157.78" width="5.50" height="2.19" fill="#fef4ea"/>
<rect x="129.38" y="159.92" width="5.50" height="2.19" fill="#a8caf2"/>
<rect x="129.38" y="162.06" width="5.50" height="6.47" fill="#d6e6f8"/>
<rect x="129.38" y="168.48" width="5.50" height="4.33" fill="#a8caf2"/>
<rect x="129.38" y="172.76" width="5.50" height="4.33" fill="#d6e6f8"/>
<rect x="129.38" y="177.04" width="5.50" height="4.33" fill="#a8caf2"/>
<rect x="129.38" y="181.32" width="5.50" height="6.47" fill="#d6e6f8"/>
<rect x="129.38" y="187.74" width="5.50" height="6.47" fill="#fef4ea"/>
<rect x="129.38" y="194.16" width="5.50" height="4.33" fill="#6ca4ec"/>
<rect x="129.38" y="198.44" width="5.50" height="2.19" fill="#a8caf2"/>
<rect x="129.38" y="200.58" width="5.50" height="2.19" fill="#6ca4ec"/>
<rect x="129.38" y="202.72" width="5.50" height="2.19" fill="#a8caf2"/>
<rect x="129.38" y="204.86" width="5.50" height="2.19" fill="#6ca4ec"/>
<rect x="129.38" y="207.00" width="5.50" height="4.33" fill="#d6e6f8"/>
<rect x="129.38" y="211.28" width="5.50" height="4.33" fill="#a8caf2"/>
<rect x="129.38" y="215.56" width="5.50" height="2.19" fill="#d6e6f8"/>
<rect x="129.38" y="217.70" width="5.50" height="2.19" fill="#fef4ea"/>
<rect x="129.38" y="219.84" width="5.50" height="4.33" fill="#ffd79c"/>
<rect x="129.38" y="224.12" width="5.50" height="2.19" fill="#d6e6f8"/>
<rect x="129.38" y="226.26" width="5.50" height="2.19" fill="#a8caf2"/>
<rect x="129.38" y="228.40" width="5.50" height="4.33" fill="#fef4ea"/>
<rect x="129.38" y="232.68" width="5.50" height="4.33" fill="#ffd79c"/>
<rect x="129.38" y="236.96" width="5.50" height="4.33" fill="#d6e6f8"/>
<rect x="129.38" y="241.24" width="5.50" height="4.33" fill="#fef4ea"/>
<rect x="129.38" y="245.52" width="5.50" height="2.19" fill="#ffb449"/>
<rect x="129.38" y="247.66" width="5.50" height="2.19" fill="#ff8b12"/>
<rect x="129.38" y="249.80" width="5.50" height="4.33" fill="#ffd79c"/>
<rect x="129.38" y="254.08" width="5.50" height="2.19" fill="#fef4ea"/>
<rect x="129.38" y="256.22" width="5.50" height="2.19" fill="#d6e6f8"/>
<rect x="129.38" y="258.36" width="5.50" height="6.47" fill="#ffd79c"/>
<rect x="129.38" y="264.78" width="5.50" height="2.19" fill="#fef4ea"/>
<rect x="129.38" y="266.92" width="5.50" height="4.33" fill="#d6e6f8"/>
<rect x="134.84" y="100.00" width="5.50" height="4.33" fill="#ffb449"/>
<rect x="134.84" y="104.28" width="5.50" height="2.19" fill="#ffd79c"/>
<rect x="134.84" y="106.42" width="5.50" height="4.33" fill="#fef4ea"/>
<rect x="134.84" y="110.70" width="5.50" height="2.19" fill="#d6e6f8"/>
<rect x="134.84" y="112.84" width="5.50" height="2.19" fill="#ffb449"/>
<rect x="134.84" y="114.98" width="5.50" height="6.47" fill="#ffd79c"/>
<rect x="134.84" y="121.40" width="5.50" height="2.19" fill="#fef4ea"/>
<rect x="134.84" y="123.54" width="5.50" height="10.75" fill="#ffd79c"/>
<rect x="134.84" y="134.24" width="5.50" height="4.33" fill="#ff4c00"/>
<rect x="134.84" y="138.52" width="5.50" height="4.33" fill="#ff8b12"/>
<rect x="134.84" y="142.80" width="5.50" height="2.19" fill="#ffb449"/>
<rect x="134.84" y="144.94" width="5.50" height="2.19" fill="#ff8b12"/>
<rect x="134.84" y="147.08" width="5.50" height="2.19" fill="#0a44da"/>
<rect x="134.84" y="149.22" width="5.50" height="2.19" fill="#0000c0"/>
<rect x="134.84" y="151.36" width="5.50" height="2.19" fill="#a8caf2"/>
<rect x="134.84" y="153.50" width="5.50" height="2.19" fill="#6ca4ec"/>
<rect x="134.84" y="155.64" width="5.50" height="4.33" fill="#fef4ea"/>
<rect x="134.84" y="159.92" width="5.50" height="2.19" fill="#0a44da"/>
<rect x="134.84" y="162.06" width="5.50" height="2.19" fill="#0000c0"/>
<rect x="134.84" y="164.20" width="5.50" height="4.33" fill="#ffd79c"/>
<rect x="134.84" y="168.48" width="5.50" height="4.33" fill="#ffb449"/>
<rect x="134.84" y="172.76" width="5.50" height="2.19" fill="#ffd79c"/>
<rect x="134.84" y="174.90" width="5.50" height="2.19" fill="#ffb449"/>
<rect x="134.84" y="177.04" width="5.50" height="2.19" fill="#d6e6f8"/>
<rect x="134.84" y="179.18" width="5.50" height="2.19" fill="#fef4ea"/>
<rect x="134.84" y="181.32" width="5.50" height="2.19" fill="#ffd79c"/>
<rect x="134.84" y="183.46" width="5.50" height="6.47" fill="#ffb449"/>
<rect x="134.84" y="189.88" width="5.50" height="4.33" fill="#fef4ea"/>
<rect x="134.84" y="194.16" width="5.50" height="2.19" fill="#a8caf2"/>
<rect x="134.84" y="196.30" width="5.50" height="2.19" fill="#6ca4ec"/>
<rect x="134.84" y="198.44" width="5.50" height="4.33" fill="#ffb449"/>
<rect x="134.84" y="202.72" width="5.50" height="2.19" fill="#ee0000"/>
<rect x="134.84" y="204.86" width="5.50" height="2.19" fill="#c20000"/>
<rect x="134.84" y="207.00" width="5.50" height="4.33" fill="#ff4c00"/>
<rect x="134.84" y="211.28" width="5.50" height="4.33" fill="#ffb449"/>
<rect x="134.84" y="215.56" width="5.50" height="4.33" fill="#ffd79c"/>
<rect x="134.84" y="219.84" width="5.50" height="2.19" fill="#fef4ea"/>
<rect x="134.84" y="221.98" width="5.50" height="2.19" fill="#ffd79c"/>
<rect x="134.84" y="224.12" width="5.50" height="2.19" fill="#ffb449"/>
<rect x="134.84" y="226.26" width="5.50" height="2.19" fill="#ff8b12"/>
<rect x="134.84" y="228.40" width="5.50" height="4.33" fill="#ffb449"/>
<rect x="134.84" y="232.68" width="5.50" height="4.33" fill="#d6e6f8"/>
<rect x="134.84" y="236.96" width="5.50" height="2.19" fill="#fef4ea"/>
<rect x="134.84" y="239.10" width="5.50" height="2.19" fill="#d6e6f8"/>
<rect x="134.84" y="241.24" width="5.50" height="4.33" fill="#fef4ea"/>
<rect x="134.84" y="245.52" width="5.50" height="2.19" fill="#ffb449"/>
<rect x="134.84" y="247.66" width="5.50" height="2.19" fill="#ffd79c"/>
<rect x="134.84" y="249.80" width="5.50" height="4.33" fill="#ff8b12"/>
<rect x="134.84" y="254.08" width="5.50" height="2.19" fill="#ffd79c"/>
<rect x="134.84" y="256.22" width="5.50" height="2.19" fill="#ffb449"/>
<rect x="134.84" y="258.36" width="5.50" height="4.33" fill="#fef4ea"/>
<rect x="134.84" y="262.64" width="5.50" height="4.33" fill="#d6e6f8"/>
<rect x="134.84" y="266.92" width="5.50" height="4.33" fill="#6ca4ec"/>
<rect x="140.29" y="100.00" width="5.50" height="4.33" fill="#ffb449"/>
<rect x="140.29" y="104.28" width="5.50" height="6.47" fill="#ffd79c"/>
<rect x="140.29" y="110.70" width="5.50" height="4.33" fill="#fef4ea"/>
<rect x="140.29" y="114.98" width="5.50" height="2.19" fill="#d6e6f8"/>
<rect x="140.29" y="117.12" width="5.50" height="2.19" fill="#fef4ea"/>
<rect x="140.29" y="119.26" width="5.50" height="6.47" fill="#ffd79c"/>
<rect x="140.29" y="125.68" width="5.50" height="6.47" fill="#fef4ea"/>
<rect x="140.29" y="132.10" width="5.50" height="2.19" fill="#ffd79c"/>
<rect x="140.29" y="134.24" width="5.50" height="2.19" fill="#ffb449"/>
<rect x="140.29" y="136.38" width="5.50" height="6.47" fill="#ffd79c"/>
<rect x="140.29" y="142.80" width="5.50" height="2.19" fill="#fef4ea"/>
<rect x="140.29" y="144.94" width="5.50" height="2.19" fill="#d6e6f8"/>
<rect x="140.29" y="147.08" width="5.50" height="2.19" fill="#3276e4"/>
<rect x="140.29" y="149.22" width="5.50" height="4.33" fill="#6ca4ec"/>
<rect x="140.29" y="153.50" width="5.50" height="2.19" fill="#a8caf2"/>
<rect x="140.29" y="155.64" width="5.50" height="4.33" fill="#fef4ea"/>
<rect x="140.29" y="159.92" width="5.50" height="2.19" fill="#3276e4"/>
<rect x="140.29" y="162.06" width="5.50" height="2.19" fill="#0a44da"/>
<rect x="140.29" y="164.20" width="5.50" height="2.19" fill="#d6e6f8"/>
<rect x="140.29" y="166.34" width="5.50" height="2.19" fill="#a8caf2"/>
<rect x="140.29" y="168.48" width="5.50" height="2.19" fill="#fef4ea"/>
<rect x="140.29" y="170.62" width="5.50" height="2.19" fill="#d6e6f8"/>
<rect x="140.29" y="172.76" width="5.50" height="2.19" fill="#ffd79c"/>
<rect x="140.29" y="174.90" width="5.50" height="2.19" fill="#ffb449"/>
<rect x="140.29" y="177.04" width="5.50" height="4.33" fill="#a8caf2"/>
<rect x="140.29" y="181.32" width="5.50" height="2.19" fill="#d6e6f8"/>
<rect x="140.29" y="183.46" width="5.50" height="2.19" fill="#a8caf2"/>
<rect x="140.29" y="185.60" width="5.50" height="4.33" fill="#ffd79c"/>
<rect x="140.29" y="189.88" width="5.50" height="4.33" fill="#fef4ea"/>
<rect x="140.29" y="194.16" width="5.50" height="2.19" fill="#0a44da"/>
<rect x="140.29" y="196.30" width="5.50" height="2.19" fill="#3276e4"/>
<rect x="140.29" y="198.44" width="5.50" height="4.33" fill="#a8caf2"/>
<rect x="140.29" y="202.72" width="5.50" height="4.33" fill="#fef4ea"/>
<rect x="140.29" y="207.00" width="5.50" height="4.33" fill="#d6e6f8"/>
<rect x="140.29" y="211.28" width="5.50" height="4.33" fill="#ffd79c"/>
<rect x="140.29" y="215.56" width="5.50" height="2.19" fill="#fef4ea"/>
<rect x="140.29" y="217.70" width="5.50" height="2.19" fill="#d6e6f8"/>
<rect x="140.29" y="219.84" width="5.50" height="4.33" fill="#ff8b12"/>
<rect x="140.29" y="224.12" width="5.50" height="4.33" fill="#ffb449"/>
<rect x="140.29" y="228.40" width="5.50" height="2.19" fill="#ff8b12"/>
<rect x="140.29" y="230.54" width="5.50" height="2.19" fill="#ff4c00"/>
<rect x="140.29" y="232.68" width="5.50" height="2.19" fill="#ffd79c"/>
<rect x="140.29" y="234.82" width="5.50" height="2.19" fill="#ffb449"/>
<rect x="140.29" y="236.96" width="5.50" height="6.47" fill="#fef4ea"/>
<rect x="140.29" y="243.38" width="5.50" height="2.19" fill="#ffd79c"/>
<rect x="140.29" y="245.52" width="5.50" height="2.19" fill="#ff8b12"/>
<rect x="140.29" y="247.66" width="5.50" height="2.19" fill="#ff4c00"/>
<rect x="140.29" y="249.80" width="5.50" height="4.33" fill="#ffb449"/>
<rect x="140.29" y="254.08" width="5.50" height="8.61" fill="#ffd79c"/>
<rect x="140.29" y="262.64" width="5.50" height="2.19" fill="#ffb449"/>
<rect x="140.29" y="264.78" width="5.50" height="2.19" fill="#ff8b12"/>
<rect x="140.29" y="266.92" width="5.50" height="4.33" fill="#fef4ea"/>
<rect x="145.74" y="100.00" width="5.50" height="2.19" fill="#d6e6f8"/>
<rect x="145.74" y="102.14" width="5.50" height="2.19" fill="#a8caf2"/>
<rect x="145.74" y="104.28" width="5.50" height="4.33" fill="#d6e6f8"/>
<rect x="145.74" y="108.56" width="5.50" height="2.19" fill="#a8caf2"/>
<rect x="145.74" y="110.70" width="5.50" height="2.19" fill="#6ca4ec"/>
<rect x="145.74" y="112.84" width="5.50" height="4.33" fill="#fef4ea"/>
<rect x="145.74" y="117.12" width="5.50" height="2.19" fill="#6ca4ec"/>
<rect x="145.74" y="119.26" width="5.50" height="2.19" fill="#3276e4"/>
<rect x="145.74" y="121.40" width="5.50" height="6.47" fill="#a8caf2"/>
<rect x="145.74" y="127.82" width="5.50" height="2.19" fill="#d6e6f8"/>
<rect x="145.74" y="129.96" width="5.50" height="4.33" fill="#6ca4ec"/>
<rect x="145.74" y="134.24" width="5.50" height="4.33" fill="#fef4ea"/>
<rect x="145.74" y="138.52" width="5.50" height="2.19" fill="#d6e6f8"/>
<rect x="145.74" y="140.66" width="5.50" height="2.19" fill="#fef4ea"/>
<rect x="145.74" y="142.80" width="5.50" height="2.19" fill="#ffd79c"/>
<rect x="145.74" y="144.94" width="5.50" height="2.19" fill="#fef4ea"/>
<rect x="145.74" y="147.08" width="5.50" height="4.33" fill="#d6e6f8"/>
<rect x="145.74" y="151.36" width="5.50" height="4.33" fill="#ffd79c"/>
<rect x="145.74" y="155.64" width="5.50" height="2.19" fill="#ffb449"/>
<rect x="145.74" y="157.78" width="5.50" height="2.19" fill="#ffd79c"/>
<rect x="145.74" y="159.92" width="5.50" height="4.33" fill="#ff8b12"/>
<rect x="145.74" y="164.20" width="5.50" height="2.19" fill="#a8caf2"/>
<rect x="145.74" y="166.34" width="5.50" height="2.19" fill="#d6e6f8"/>
<rect x="145.74" y="168.48" width="5.50" height="4.33" fill="#6ca4ec"/>
<rect x="145.74" y="172.76" width="5.50" height="2.19" fill="#a8caf2"/>
<rect x="145.74" y="174.90" width="5.50" height="4.33" fill="#6ca4ec"/>
<rect x="145.74" y="179.18" width="5.50" height="2.19" fill="#a8caf2"/>
<rect x="145.74" y="181.32" width="5.50" height="2.19" fill="#6ca4ec"/>
<rect x="145.74" y="183.46" width="5.50" height="2.19" fill="#a8caf2"/>
<rect x="145.74" y="185.60" width="5.50" height="6.47" fill="#d6e6f8"/>
<rect x="145.74" y="192.02" width="5.50" height="2.19" fill="#a8caf2"/>
<rect x="145.74" y="194.16" width="5.50" height="4.33" fill="#0a44da"/>
<rect x="145.74" y="198.44" width="5.50" height="2.19" fill="#a8caf2"/>
<rect x="145.74" y="200.58" width="5.50" height="4.33" fill="#6ca4ec"/>
<rect x="145.74" y="204.86" width="5.50" height="6.47" fill="#a8caf2"/>
<rect x="145.74" y="211.28" width="5.50" height="4.33" fill="#fef4ea"/>
<rect x="145.74" y="215.56" width="5.50" height="4.33" fill="#d6e6f8"/>
<rect x="145.74" y="219.84" width="5.50" height="2.19" fill="#ff4c00"/>
<rect x="145.74" y="221.98" width="5.50" height="2.19" fill="#ee0000"/>
<rect x="145.74" y="224.12" width="5.50" height="4.33" fill="#ffb449"/>
<rect x="145.74" y="228.40" width="5.50" height="2.19" fill="#ff8b12"/>
<rect x="145.74" y="230.54" width="5.50" height="2.19" fill="#ff4c00"/>
<rect x="145.74" y="232.68" width="5.50" height="2.19" fill="#ffb449"/>
<rect x="145.74" y="234.82" width="5.50" height="2.19" fill="#ff8b12"/>
<rect x="145.74" y="236.96" width="5.50" height="2.19" fill="#fef4ea"/>
<rect x="145.74" y="239.10" width="5.50" height="2.19" fill="#d6e6f8"/>
<rect x="145.74" y="241.24" width="5.50" height="2.19" fill="#fef4ea"/>
<rect x="145.74" y="243.38" width="5.50" height="2.19" fill="#ffd79c"/>
<rect x="145.74" y="245.52" width="5.50" height="2.19" fill="#ee0000"/>
<rect x="145.74" y="247.66" width="5.50" height="2.19" fill="#ff4c00"/>
<rect x="145.74" y="249.80" width="5.50" height="4.33" fill="#ee0000"/>
<rect x="145.74" y="254.08" width="5.50" height="4.33" fill="#ffb449"/>
<rect x="145.74" y="258.36" width="5.50" height="2.19" fill="#ffd79c"/>
<rect x="145.74" y="260.50" width="5.50" height="6.47" fill="#ffb449"/>
<rect x="145.74" y="266.92" width="5.50" height="4.33" fill="#ffd79c"/>
<rect x="151.19" y="100.00" width="5.50" height="2.19" fill="#a8caf2"/>
<rect x="151.19" y="102.14" width="5.50" height="10.75" fill="#d6e6f8"/>
<rect x="151.19" y="112.84" width="5.50" height="4.33" fill="#fef4ea"/>
<rect x="151.19" y="117.12" width="5.50" height="10.75" fill="#d6e6f8"/>
<rect x="151.19" y="127.82" width="5.50" height="4.33" fill="#fef4ea"/>
<rect x="151.19" y="132.10" width="5.50" height="2.19" fill="#d6e6f8"/>
<rect x="151.19" y="134.24" width="5.50" height="4.33" fill="#fef4ea"/>
<rect x="151.19" y="138.52" width="5.50" height="4.33" fill="#d6e6f8"/>
<rect x="151.19" y="142.80" width="5.50" height="4.33" fill="#fef4ea"/>
<rect x="151.19" y="147.08" width="5.50" height="2.19" fill="#a8caf2"/>
<rect x="151.19" y="149.22" width="5.50" height="2.19" fill="#6ca4ec"/>
<rect x="151.19" y="151.36" width="5.50" height="2.19" fill="#fef4ea"/>
<rect x="151.19" y="153.50" width="5.50" height="2.19" fill="#d6e6f8"/>
<rect x="151.19" y="155.64" width="5.50" height="2.19" fill="#ffd79c"/>
<rect x="151.19" y="157.78" width="5.50" height="6.47" fill="#ffb449"/>
<rect x="151.19" y="164.20" width="5.50" height="10.75" fill="#6ca4ec"/>
<rect x="151.19" y="174.90" width="5.50" height="2.19" fill="#3276e4"/>
<rect x="151.19" y="177.04" width="5.50" height="2.19" fill="#a8caf2"/>
<rect x="151.19" y="179.18" width="5.50" height="2.19" fill="#d6e6f8"/>
<rect x="151.19" y="181.32" width="5.50" height="2.19" fill="#a8caf2"/>
<rect x="151.19" y="183.46" width="5.50" height="2.19" fill="#d6e6f8"/>
<rect x="151.19" y="185.60" width="5.50" height="4.33" fill="#a8caf2"/>
<rect x="151.19" y="189.88" width="5.50" height="4.33" fill="#d6e6f8"/>
<rect x="151.19" y="194.16" width="5.50" height="2.19" fill="#3276e4"/>
<rect x="151.19" y="196.30" width="5.50" height="2.19" fill="#0a44da"/>
<rect x="151.19" y="198.44" width="5.50" height="4.33" fill="#a8caf2"/>
<rect x="151.19" y="202.72" width="5.50" height="4.33" fill="#6ca4ec"/>
<rect x="151.19" y="207.00" width="5.50" height="4.33" fill="#a8caf2"/>
<rect x="151.19" y="211.28" width="5.50" height="4.33" fill="#d6e6f8"/>
<rect x="151.19" y="215.56" width="5.50" height="4.33" fill="#3276e4"/>
<rect x="151.19" y="219.84" width="5.50" height="4.33" fill="#ee0000"/>
<rect x="151.19" y="224.12" width="5.50" height="4.33" fill="#ff8b12"/>
<rect x="151.19" y="228.40" width="5.50" height="2.19" fill="#ee0000"/>
<rect x="151.19" y="230.54" width="5.50" height="2.19" fill="#c20000"/>
<rect x="151.19" y="232.68" width="5.50" height="4.33" fill="#ffb449"/>
<rect x="151.19" y="236.96" width="5.50" height="2.19" fill="#ffd79c"/>
<rect x="151.19" y="239.10" width="5.50" height="2.19" fill="#ffb449"/>
<rect x="151.19" y="241.24" width="5.50" height="4.33" fill="#ffd79c"/>
<rect x="151.19" y="245.52" width="5.50" height="6.47" fill="#ee0000"/>
<rect x="151.19" y="251.94" width="5.50" height="2.19" fill="#ff4c00"/>
<rect x="151.19" y="254.08" width="5.50" height="2.19" fill="#ffb449"/>
<rect x="151.19" y="256.22" width="5.50" height="2.19" fill="#ff8b12"/>
<rect x="151.19" y="258.36" width="5.50" height="2.19" fill="#ffd79c"/>
<rect x="151.19" y="260.50" width="5.50" height="2.19" fill="#fef4ea"/>
<rect x="151.19" y="262.64" width="5.50" height="4.33" fill="#ffd79c"/>
<rect x="151.19" y="266.92" width="5.50" height="2.19" fill="#fef4ea"/>
<rect x="151.19" y="269.06" width="5.50" height="2.19" fill="#d6e6f8"/>
<rect x="156.65" y="100.00" width="5.50" height="2.19" fill="#ff4c00"/>
<rect x="156.65" y="102.14" width="5.50" height="2.19" fill="#ee0000"/>
<rect x="156.65" y="104.28" width="5.50" height="4.33" fill="#ffd79c"/>
<rect x="156.65" y="108.56" width="5.50" height="2.19" fill="#ffb449"/>
<rect x="156.65" y="110.70" width="5.50" height="2.19" fill="#ff8b12"/>
<rect x="156.65" y="112.84" width="5.50" height="6.47" fill="#ffd79c"/>
<rect x="156.65" y="119.26" width="5.50" height="4.33" fill="#ffb449"/>
<rect x="156.65" y="123.54" width="5.50" height="2.19" fill="#ff8b12"/>
<rect x="156.65" y="125.68" width="5.50" height="2.19" fill="#ffd79c"/>
<rect x="156.65" y="127.82" width="5.50" height="2.19" fill="#ffb449"/>
<rect x="156.65" y="129.96" width="5.50" height="2.19" fill="#ee0000"/>
<rect x="156.65" y="132.10" width="5.50" height="2.19" fill="#c20000"/>
<rect x="156.65" y="134.24" width="5.50" height="4.33" fill="#ffd79c"/>
<rect x="156.65" y="138.52" width="5.50" height="2.19" fill="#ffb449"/>
<rect x="156.65" y="140.66" width="5.50" height="4.33" fill="#ffd79c"/>
<rect x="156.65" y="144.94" width="5.50" height="2.19" fill="#ffb449"/>
<rect x="156.65" y="147.08" width="5.50" height="4.33" fill="#ffd79c"/>
<rect x="156.65" y="151.36" width="5.50" height="2.19" fill="#a8caf2"/>
<rect x="156.65" y="153.50" width="5.50" height="2.19" fill="#6ca4ec"/>
<rect x="156.65" y="155.64" width="5.50" height="4.33" fill="#ffd79c"/>
<rect x="156.65" y="159.92" width="5.50" height="2.19" fill="#6ca4ec"/>
<rect x="156.65" y="162.06" width="5.50" height="2.19" fill="#3276e4"/>
<rect x="156.65" y="164.20" width="5.50" height="4.33" fill="#ffd79c"/>
<rect x="156.65" y="168.48" width="5.50" height="2.19" fill="#ffb449"/>
<rect x="156.65" y="170.62" width="5.50" height="2.19" fill="#ff8b12"/>
<rect x="156.65" y="172.76" width="5.50" height="4.33" fill="#ffd79c"/>
<rect x="156.65" y="177.04" width="5.50" height="2.19" fill="#ffb449"/>
<rect x="156.65" y="179.18" width="5.50" height="2.19" fill="#ff8b12"/>
<rect x="156.65" y="181.32" width="5.50" height="6.47" fill="#ffb449"/>
<rect x="156.65" y="187.74" width="5.50" height="2.19" fill="#ff8b12"/>
<rect x="156.65" y="189.88" width="5.50" height="2.19" fill="#fef4ea"/>
<rect x="156.65" y="192.02" width="5.50" height="2.19" fill="#d6e6f8"/>
<rect x="156.65" y="194.16" width="5.50" height="2.19" fill="#ffb449"/>
<rect x="156.65" y="196.30" width="5.50" height="2.19" fill="#ff8b12"/>
<rect x="156.65" y="198.44" width="5.50" height="2.19" fill="#ffd79c"/>
<rect x="156.65" y="200.58" width="5.50" height="2.19" fill="#fef4ea"/>
<rect x="156.65" y="202.72" width="5.50" height="2.19" fill="#ffd79c"/>
<rect x="156.65" y="204.86" width="5.50" height="2.19" fill="#fef4ea"/>
<rect x="156.65" y="207.00" width="5.50" height="4.33" fill="#ffd79c"/>
<rect x="156.65" y="211.28" width="5.50" height="2.19" fill="#fef4ea"/>
<rect x="156.65" y="213.42" width="5.50" height="2.19" fill="#ffd79c"/>
<rect x="156.65" y="215.56" width="5.50" height="2.19" fill="#d6e6f8"/>
<rect x="156.65" y="217.70" width="5.50" height="2.19" fill="#a8caf2"/>
<rect x="156.65" y="219.84" width="5.50" height="6.47" fill="#d6e6f8"/>
<rect x="156.65" y="226.26" width="5.50" height="2.19" fill="#fef4ea"/>
<rect x="156.65" y="228.40" width="5.50" height="4.33" fill="#d6e6f8"/>
<rect x="156.65" y="232.68" width="5.50" height="2.19" fill="#fef4ea"/>
<rect x="156.65" y="234.82" width="5.50" height="2.19" fill="#d6e6f8"/>
<rect x="156.65" y="236.96" width="5.50" height="2.19" fill="#fef4ea"/>
<rect x="156.65" y="239.10" width="5.50" height="6.47" fill="#d6e6f8"/>
<rect x="156.65" y="245.52" width="5.50" height="2.19" fill="#a8caf2"/>
<rect x="156.65" y="247.66" width="5.50" height="2.19" fill="#6ca4ec"/>
<rect x="156.65" y="249.80" width="5.50" height="4.33" fill="#a8caf2"/>
<rect x="156.65" y="254.08" width="5.50" height="2.19" fill="#d6e6f8"/>
<rect x="156.65" y="256.22" width="5.50" height="2.19" fill="#fef4ea"/>
<rect x="156.65" y="258.36" width="5.50" height="4.33" fill="#a8caf2"/>
<rect x="156.65" y="262.64" width="5.50" height="2.19" fill="#fef4ea"/>
<rect x="156.65" y="264.78" width="5.50" height="4.33" fill="#d6e6f8"/>
<rect x="156.65" y="269.06" width="5.50" height="2.19" fill="#a8caf2"/>
<rect x="162.10" y="100.00" width="5.50" height="2.19" fill="#ee0000"/>
<rect x="162.10" y="102.14" width="5.50" height="2.19" fill="#c20000"/>
<rect x="162.10" y="104.28" width="5.50" height="4.33" fill="#ff4c00"/>
<rect x="162.10" y="108.56" width="5.50" height="2.19" fill="#ffb449"/>
<rect x="162.10" y="110.70" width="5.50" height="2.19" fill="#ffd79c"/>
<rect x="162.10" y="112.84" width="5.50" height="4.33" fill="#ee0000"/>
<rect x="162.10" y="117.12" width="5.50" height="2.19" fill="#ff8b12"/>
<rect x="162.10" y="119.26" width="5.50" height="2.19" fill="#ff4c00"/>
<rect x="162.10" y="121.40" width="5.50" height="4.33" fill="#ffb449"/>
<rect x="162.10" y="125.68" width="5.50" height="4.33" fill="#ff4c00"/>
<rect x="162.10" y="129.96" width="5.50" height="2.19" fill="#ee0000"/>
<rect x="162.10" y="132.10" width="5.50" height="2.19" fill="#c20000"/>
<rect x="162.10" y="134.24" width="5.50" height="2.19" fill="#ff8b12"/>
<rect x="162.10" y="136.38" width="5.50" height="6.47" fill="#ffb449"/>
<rect x="162.10" y="142.80" width="5.50" height="4.33" fill="#ffd79c"/>
<rect x="162.10" y="147.08" width="5.50" height="2.19" fill="#ee0000"/>
<rect x="162.10" y="149.22" width="5.50" height="2.19" fill="#c20000"/>
<rect x="162.10" y="151.36" width="5.50" height="4.33" fill="#d6e6f8"/>
<rect x="162.10" y="155.64" width="5.50" height="4.33" fill="#ffd79c"/>
<rect x="162.10" y="159.92" width="5.50" height="4.33" fill="#fef4ea"/>
<rect x="162.10" y="164.20" width="5.50" height="4.33" fill="#d6e6f8"/>
<rect x="162.10" y="168.48" width="5.50" height="4.33" fill="#fef4ea"/>
<rect x="162.10" y="172.76" width="5.50" height="4.33" fill="#d6e6f8"/>
<rect x="162.10" y="177.04" width="5.50" height="6.47" fill="#ffb449"/>
<rect x="162.10" y="183.46" width="5.50" height="4.33" fill="#ffd79c"/>
<rect x="162.10" y="187.74" width="5.50" height="2.19" fill="#ffb449"/>
<rect x="162.10" y="189.88" width="5.50" height="2.19" fill="#fef4ea"/>
<rect x="162.10" y="192.02" width="5.50" height="2.19" fill="#ffd79c"/>
<rect x="162.10" y="194.16" width="5.50" height="4.33" fill="#a8caf2"/>
<rect x="162.10" y="198.44" width="5.50" height="2.19" fill="#ffd79c"/>
<rect x="162.10" y="200.58" width="5.50" height="2.19" fill="#fef4ea"/>
<rect x="162.10" y="202.72" width="5.50" height="2.19" fill="#6ca4ec"/>
<rect x="162.10" y="204.86" width="5.50" height="2.19" fill="#3276e4"/>
<rect x="162.10" y="207.00" width="5.50" height="4.33" fill="#ffd79c"/>
<rect x="162.10" y="211.28" width="5.50" height="4.33" fill="#fef4ea"/>
<rect x="162.10" y="215.56" width="5.50" height="2.19" fill="#a8caf2"/>
<rect x="162.10" y="217.70" width="5.50" height="2.19" fill="#6ca4ec"/>
<rect x="162.10" y="219.84" width="5.50" height="4.33" fill="#d6e6f8"/>
<rect x="162.10" y="224.12" width="5.50" height="8.61" fill="#a8caf2"/>
<rect x="162.10" y="232.68" width="5.50" height="4.33" fill="#d6e6f8"/>
<rect x="162.10" y="236.96" width="5.50" height="2.19" fill="#6ca4ec"/>
<rect x="162.10" y="239.10" width="5.50" height="2.19" fill="#3276e4"/>
<rect x="162.10" y="241.24" width="5.50" height="4.33" fill="#a8caf2"/>
<rect x="162.10" y="245.52" width="5.50" height="8.61" fill="#3276e4"/>
<rect x="162.10" y="254.08" width="5.50" height="4.33" fill="#a8caf2"/>
<rect x="162.10" y="258.36" width="5.50" height="4.33" fill="#6ca4ec"/>
<rect x="162.10" y="262.64" width="5.50" height="4.33" fill="#a8caf2"/>
<rect x="162.10" y="266.92" width="5.50" height="2.19" fill="#d6e6f8"/>
<rect x="162.10" y="269.06" width="5.50" height="2.19" fill="#a8caf2"/>
<rect x="167.55" y="100.00" width="5.50" height="4.33" fill="#ee0000"/>
<rect x="167.55" y="104.28" width="5.50" height="4.33" fill="#ff8b12"/>
<rect x="167.55" y="108.56" width="5.50" height="4.33" fill="#ffb449"/>
<rect x="167.55" y="112.84" width="5.50" height="4.33" fill="#fef4ea"/>
<rect x="167.55" y="117.12" width="5.50" height="2.19" fill="#ff4c00"/>
<rect x="167.55" y="119.26" width="5.50" height="2.19" fill="#ff8b12"/>
<rect x="167.55" y="121.40" width="5.50" height="2.19" fill="#ee0000"/>
<rect x="167.55" y="123.54" width="5.50" height="2.19" fill="#c20000"/>
<rect x="167.55" y="125.68" width="5.50" height="2.19" fill="#ff8b12"/>
<rect x="167.55" y="127.82" width="5.50" height="6.47" fill="#ff4c00"/>
<rect x="167.55" y="134.24" width="5.50" height="8.61" fill="#ffd79c"/>
<rect x="167.55" y="142.80" width="5.50" height="8.61" fill="#ffb449"/>
<rect x="167.55" y="151.36" width="5.50" height="4.33" fill="#ffd79c"/>
<rect x="167.55" y="155.64" width="5.50" height="4.33" fill="#ffb449"/>
<rect x="167.55" y="159.92" width="5.50" height="2.19" fill="#ff4c00"/>
<rect x="167.55" y="162.06" width="5.50" height="4.33" fill="#ff8b12"/>
<rect x="167.55" y="166.34" width="5.50" height="2.19" fill="#ff4c00"/>
<rect x="167.55" y="168.48" width="5.50" height="2.19" fill="#ee0000"/>
<rect x="167.55" y="170.62" width="5.50" height="2.19" fill="#c20000"/>
<rect x="167.55" y="172.76" width="5.50" height="4.33" fill="#ff8b12"/>
<rect x="167.55" y="177.04" width="5.50" height="4.33" fill="#ee0000"/>
<rect x="167.55" y="181.32" width="5.50" height="8.61" fill="#ff4c00"/>
<rect x="167.55" y="189.88" width="5.50" height="2.19" fill="#ff8b12"/>
<rect x="167.55" y="192.02" width="5.50" height="2.19" fill="#ffb449"/>
<rect x="167.55" y="194.16" width="5.50" height="2.19" fill="#ee0000"/>
<rect x="167.55" y="196.30" width="5.50" height="2.19" fill="#c20000"/>
<rect x="167.55" y="198.44" width="5.50" height="4.33" fill="#ff4c00"/>
<rect x="167.55" y="202.72" width="5.50" height="4.33" fill="#ffb449"/>
<rect x="167.55" y="207.00" width="5.50" height="2.19" fill="#ee0000"/>
<rect x="167.55" y="209.14" width="5.50" height="2.19" fill="#c20000"/>
<rect x="167.55" y="211.28" width="5.50" height="4.33" fill="#ff4c00"/>
<rect x="167.55" y="215.56" width="5.50" height="2.19" fill="#ffd79c"/>
<rect x="167.55" y="217.70" width="5.50" height="2.19" fill="#ffb449"/>
<rect x="167.55" y="219.84" width="5.50" height="4.33" fill="#6ca4ec"/>
<rect x="167.55" y="224.12" width="5.50" height="4.33" fill="#3276e4"/>
<rect x="167.55" y="228.40" width="5.50" height="4.33" fill="#6ca4ec"/>
<rect x="167.55" y="232.68" width="5.50" height="4.33" fill="#a8caf2"/>
<rect x="167.55" y="236.96" width="5.50" height="4.33" fill="#d6e6f8"/>
<rect x="167.55" y="241.24" width="5.50" height="8.61" fill="#6ca4ec"/>
<rect x="167.55" y="249.80" width="5.50" height="4.33" fill="#3276e4"/>
<rect x="167.55" y="254.08" width="5.50" height="2.19" fill="#6ca4ec"/>
<rect x="167.55" y="256.22" width="5.50" height="2.19" fill="#3276e4"/>
<rect x="167.55" y="258.36" width="5.50" height="4.33" fill="#a8caf2"/>
<rect x="167.55" y="262.64" width="5.50" height="2.19" fill="#6ca4ec"/>
<rect x="167.55" y="264.78" width="5.50" height="2.19" fill="#a8caf2"/>
<rect x="167.55" y="266.92" width="5.50" height="2.19" fill="#3276e4"/>
<rect x="167.55" y="269.06" width="5.50" height="2.19" fill="#0a44da"/>
<rect x="173.01" y="100.00" width="5.50" height="2.19" fill="#ffb449"/>
<rect x="173.01" y="102.14" width="5.50" height="2.19" fill="#ff8b12"/>
<rect x="173.01" y="104.28" width="5.50" height="4.33" fill="#ffd79c"/>
<rect x="173.01" y="108.56" width="5.50" height="4.33" fill="#d6e6f8"/>
<rect x="173.01" y="112.84" width="5.50" height="2.19" fill="#ffd79c"/>
<rect x="173.01" y="114.98" width="5.50" height="2.19" fill="#fef4ea"/>
<rect x="173.01" y="117.12" width="5.50" height="2.19" fill="#ffd79c"/>
<rect x="173.01" y="119.26" width="5.50" height="2.19" fill="#fef4ea"/>
<rect x="173.01" y="121.40" width="5.50" height="4.33" fill="#ffb449"/>
<rect x="173.01" y="125.68" width="5.50" height="4.33" fill="#fef4ea"/>
<rect x="173.01" y="129.96" width="5.50" height="8.61" fill="#ffd79c"/>
<rect x="173.01" y="138.52" width="5.50" height="6.47" fill="#fef4ea"/>
<rect x="173.01" y="144.94" width="5.50" height="2.19" fill="#ffd79c"/>
<rect x="173.01" y="147.08" width="5.50" height="4.33" fill="#d6e6f8"/>
<rect x="173.01" y="151.36" width="5.50" height="2.19" fill="#6ca4ec"/>
<rect x="173.01" y="153.50" width="5.50" height="6.47" fill="#a8caf2"/>
<rect x="173.01" y="159.92" width="5.50" height="2.19" fill="#6ca4ec"/>
<rect x="173.01" y="162.06" width="5.50" height="2.19" fill="#a8caf2"/>
<rect x="173.01" y="164.20" width="5.50" height="2.19" fill="#ffd79c"/>
<rect x="173.01" y="166.34" width="5.50" height="2.19" fill="#fef4ea"/>
<rect x="173.01" y="168.48" width="5.50" height="4.33" fill="#d6e6f8"/>
<rect x="173.01" y="172.76" width="5.50" height="2.19" fill="#fef4ea"/>
<rect x="173.01" y="174.90" width="5.50" height="2.19" fill="#ffd79c"/>
<rect x="173.01" y="177.04" width="5.50" height="8.61" fill="#d6e6f8"/>
<rect x="173.01" y="185.60" width="5.50" height="4.33" fill="#fef4ea"/>
<rect x="173.01" y="189.88" width="5.50" height="4.33" fill="#ffd79c"/>
<rect x="173.01" y="194.16" width="5.50" height="2.19" fill="#a8caf2"/>
<rect x="173.01" y="196.30" width="5.50" height="2.19" fill="#d6e6f8"/>
<rect x="173.01" y="198.44" width="5.50" height="2.19" fill="#a8caf2"/>
<rect x="173.01" y="200.58" width="5.50" height="2.19" fill="#d6e6f8"/>
<rect x="173.01" y="202.72" width="5.50" height="2.19" fill="#fef4ea"/>
<rect x="173.01" y="204.86" width="5.50" height="2.19" fill="#d6e6f8"/>
<rect x="173.01" y="207.00" width="5.50" height="4.33" fill="#fef4ea"/>
<rect x="173.01" y="211.28" width="5.50" height="2.19" fill="#ffd79c"/>
<rect x="173.01" y="213.42" width="5.50" height="2.19" fill="#ffb449"/>
<rect x="173.01" y="215.56" width="5.50" height="4.33" fill="#fef4ea"/>
<rect x="173.01" y="219.84" width="5.50" height="4.33" fill="#ffd79c"/>
<rect x="173.01" y="224.12" width="5.50" height="4.33" fill="#d6e6f8"/>
<rect x="173.01" y="228.40" width="5.50" height="4.33" fill="#fef4ea"/>
<rect x="173.01" y="232.68" width="5.50" height="4.33" fill="#ffd79c"/>
<rect x="173.01" y="236.96" width="5.50" height="4.33" fill="#d6e6f8"/>
<rect x="173.01" y="241.24" width="5.50" height="2.19" fill="#fef4ea"/>
<rect x="173.01" y="243.38" width="5.50" height="2.19" fill="#d6e6f8"/>
<rect x="173.01" y="245.52" width="5.50" height="2.19" fill="#a8caf2"/>
<rect x="173.01" y="247.66" width="5.50" height="2.19" fill="#6ca4ec"/>
<rect x="173.01" y="249.80" width="5.50" height="4.33" fill="#d6e6f8"/>
<rect x="173.01" y="254.08" width="5.50" height="4.33" fill="#ffd79c"/>
<rect x="173.01" y="258.36" width="5.50" height="2.19" fill="#fef4ea"/>
<rect x="173.01" y="260.50" width="5.50" height="2.19" fill="#d6e6f8"/>
<rect x="173.01" y="262.64" width="5.50" height="4.33" fill="#ffd79c"/>
<rect x="173.01" y="266.92" width="5.50" height="4.33" fill="#fef4ea"/>
<rect x="178.46" y="100.00" width="5.50" height="2.19" fill="#ffd79c"/>
<rect x="178.46" y="102.14" width="5.50" height="6.47" fill="#ffb449"/>
<rect x="178.46" y="108.56" width="5.50" height="2.19" fill="#fef4ea"/>
<rect x="178.46" y="110.70" width="5.50" height="2.19" fill="#ffd79c"/>
<rect x="178.46" y="112.84" width="5.50" height="2.19" fill="#ffb449"/>
<rect x="178.46" y="114.98" width="5.50" height="2.19" fill="#ffd79c"/>
<rect x="178.46" y="117.12" width="5.50" height="2.19" fill="#ffb449"/>
<rect x="178.46" y="119.26" width="5.50" height="2.19" fill="#ffd79c"/>
<rect x="178.46" y="121.40" width="5.50" height="4.33" fill="#ff8b12"/>
<rect x="178.46" y="125.68" width="5.50" height="2.19" fill="#ffd79c"/>
<rect x="178.46" y="127.82" width="5.50" height="2.19" fill="#fef4ea"/>
<rect x="178.46" y="129.96" width="5.50" height="2.19" fill="#ffd79c"/>
<rect x="178.46" y="132.10" width="5.50" height="2.19" fill="#ffb449"/>
<rect x="178.46" y="134.24" width="5.50" height="2.19" fill="#ffd79c"/>
<rect x="178.46" y="136.38" width="5.50" height="6.47" fill="#ffb449"/>
<rect x="178.46" y="142.80" width="5.50" height="2.19" fill="#ffd79c"/>
<rect x="178.46" y="144.94" width="5.50" height="2.19" fill="#ffb449"/>
<rect x="178.46" y="147.08" width="5.50" height="2.19" fill="#fef4ea"/>
<rect x="178.46" y="149.22" width="5.50" height="2.19" fill="#ffd79c"/>
<rect x="178.46" y="151.36" width="5.50" height="4.33" fill="#ffb449"/>
<rect x="178.46" y="155.64" width="5.50" height="2.19" fill="#ffd79c"/>
<rect x="178.46" y="157.78" width="5.50" height="6.47" fill="#fef4ea"/>
<rect x="178.46" y="164.20" width="5.50" height="4.33" fill="#ffb449"/>
<rect x="178.46" y="168.48" width="5.50" height="2.19" fill="#ffd79c"/>
<rect x="178.46" y="170.62" width="5.50" height="2.19" fill="#fef4ea"/>
<rect x="178.46" y="172.76" width="5.50" height="2.19" fill="#ffb449"/>
<rect x="178.46" y="174.90" width="5.50" height="2.19" fill="#ff8b12"/>
<rect x="178.46" y="177.04" width="5.50" height="2.19" fill="#ffb449"/>
<rect x="178.46" y="179.18" width="5.50" height="2.19" fill="#ff8b12"/>
<rect x="178.46" y="181.32" width="5.50" height="2.19" fill="#ffd79c"/>
<rect x="178.46" y="183.46" width="5.50" height="2.19" fill="#fef4ea"/>
<rect x="178.46" y="185.60" width="5.50" height="2.19" fill="#ffd79c"/>
<rect x="178.46" y="187.74" width="5.50" height="2.19" fill="#fef4ea"/>
<rect x="178.46" y="189.88" width="5.50" height="4.33" fill="#ffb449"/>
<rect x="178.46" y="194.16" width="5.50" height="6.47" fill="#ffd79c"/>
<rect x="178.46" y="200.58" width="5.50" height="2.19" fill="#ffb449"/>
<rect x="178.46" y="202.72" width="5.50" height="4.33" fill="#fef4ea"/>
<rect x="178.46" y="207.00" width="5.50" height="2.19" fill="#d6e6f8"/>
<rect x="178.46" y="209.14" width="5.50" height="2.19" fill="#a8caf2"/>
<rect x="178.46" y="211.28" width="5.50" height="4.33" fill="#ffb449"/>
<rect x="178.46" y="215.56" width="5.50" height="2.19" fill="#ffd79c"/>
<rect x="178.46" y="217.70" width="5.50" height="2.19" fill="#fef4ea"/>
<rect x="178.46" y="219.84" width="5.50" height="4.33" fill="#d6e6f8"/>
<rect x="178.46" y="224.12" width="5.50" height="4.33" fill="#ffd79c"/>
<rect x="178.46" y="228.40" width="5.50" height="2.19" fill="#d6e6f8"/>
<rect x="178.46" y="230.54" width="5.50" height="2.19" fill="#fef4ea"/>
<rect x="178.46" y="232.68" width="5.50" height="2.19" fill="#ffd79c"/>
<rect x="178.46" y="234.82" width="5.50" height="2.19" fill="#ffb449"/>
<rect x="178.46" y="236.96" width="5.50" height="2.19" fill="#d6e6f8"/>
<rect x="178.46" y="239.10" width="5.50" height="2.19" fill="#fef4ea"/>
<rect x="178.46" y="241.24" width="5.50" height="2.19" fill="#a8caf2"/>
<rect x="178.46" y="243.38" width="5.50" height="2.19" fill="#d6e6f8"/>
<rect x="178.46" y="245.52" width="5.50" height="4.33" fill="#6ca4ec"/>
<rect x="178.46" y="249.80" width="5.50" height="2.19" fill="#a8caf2"/>
<rect x="178.46" y="251.94" width="5.50" height="2.19" fill="#d6e6f8"/>
<rect x="178.46" y="254.08" width="5.50" height="2.19" fill="#ffd79c"/>
<rect x="178.46" y="256.22" width="5.50" height="2.19" fill="#ffb449"/>
<rect x="178.46" y="258.36" width="5.50" height="2.19" fill="#fef4ea"/>
<rect x="178.46" y="260.50" width="5.50" height="4.33" fill="#d6e6f8"/>
<rect x="178.46" y="264.78" width="5.50" height="2.19" fill="#a8caf2"/>
<rect x="178.46" y="266.92" width="5.50" height="4.33" fill="#fef4ea"/>
<rect x="183.91" y="100.00" width="5.50" height="4.33" fill="#c20000"/>
<rect x="183.91" y="104.28" width="5.50" height="15.03" fill="#ee0000"/>
<rect x="183.91" y="119.26" width="5.50" height="2.19" fill="#c20000"/>
<rect x="183.91" y="121.40" width="5.50" height="6.47" fill="#ee0000"/>
<rect x="183.91" y="127.82" width="5.50" height="2.19" fill="#c20000"/>
<rect x="183.91" y="129.96" width="5.50" height="2.19" fill="#ee0000"/>
<rect x="183.91" y="132.10" width="5.50" height="2.19" fill="#ff4c00"/>
<rect x="183.91" y="134.24" width="5.50" height="6.47" fill="#ee0000"/>
<rect x="183.91" y="140.66" width="5.50" height="2.19" fill="#c20000"/>
<rect x="183.91" y="142.80" width="5.50" height="4.33" fill="#ff4c00"/>
<rect x="183.91" y="147.08" width="5.50" height="4.33" fill="#ff8b12"/>
<rect x="183.91" y="151.36" width="5.50" height="4.33" fill="#ffb449"/>
<rect x="183.91" y="155.64" width="5.50" height="2.19" fill="#ff8b12"/>
<rect x="183.91" y="157.78" width="5.50" height="2.19" fill="#ff4c00"/>
<rect x="183.91" y="159.92" width="5.50" height="2.19" fill="#ffd79c"/>
<rect x="183.91" y="162.06" width="5.50" height="2.19" fill="#fef4ea"/>
<rect x="183.91" y="164.20" width="5.50" height="2.19" fill="#ee0000"/>
<rect x="183.91" y="166.34" width="5.50" height="2.19" fill="#c20000"/>
<rect x="183.91" y="168.48" width="5.50" height="6.47" fill="#ee0000"/>
<rect x="183.91" y="174.90" width="5.50" height="2.19" fill="#ff4c00"/>
<rect x="183.91" y="177.04" width="5.50" height="6.47" fill="#ee0000"/>
<rect x="183.91" y="183.46" width="5.50" height="2.19" fill="#c20000"/>
<rect x="183.91" y="185.60" width="5.50" height="4.33" fill="#ee0000"/>
<rect x="183.91" y="189.88" width="5.50" height="2.19" fill="#ff4c00"/>
<rect x="183.91" y="192.02" width="5.50" height="2.19" fill="#ff8b12"/>
<rect x="183.91" y="194.16" width="5.50" height="4.33" fill="#ee0000"/>
<rect x="183.91" y="198.44" width="5.50" height="4.33" fill="#ff4c00"/>
<rect x="183.91" y="202.72" width="5.50" height="4.33" fill="#ffb449"/>
<rect x="183.91" y="207.00" width="5.50" height="2.19" fill="#ff4c00"/>
<rect x="183.91" y="209.14" width="5.50" height="2.19" fill="#ee0000"/>
<rect x="183.91" y="211.28" width="5.50" height="2.19" fill="#ffb449"/>
<rect x="183.91" y="213.42" width="5.50" height="6.47" fill="#ffd79c"/>
<rect x="183.91" y="219.84" width="5.50" height="4.33" fill="#fef4ea"/>
<rect x="183.91" y="224.12" width="5.50" height="2.19" fill="#d6e6f8"/>
<rect x="183.91" y="226.26" width="5.50" height="2.19" fill="#fef4ea"/>
<rect x="183.91" y="228.40" width="5.50" height="2.19" fill="#6ca4ec"/>
<rect x="183.91" y="230.54" width="5.50" height="8.61" fill="#3276e4"/>
<rect x="183.91" y="239.10" width="5.50" height="4.33" fill="#6ca4ec"/>
<rect x="183.91" y="243.38" width="5.50" height="2.19" fill="#3276e4"/>
<rect x="183.91" y="245.52" width="5.50" height="4.33" fill="#0000c0"/>
<rect x="183.91" y="249.80" width="5.50" height="2.19" fill="#0a44da"/>
<rect x="183.91" y="251.94" width="5.50" height="6.47" fill="#3276e4"/>
<rect x="183.91" y="258.36" width="5.50" height="2.19" fill="#a8caf2"/>
<rect x="183.91" y="260.50" width="5.50" height="6.47" fill="#6ca4ec"/>
<rect x="183.91" y="266.92" width="5.50" height="4.33" fill="#a8caf2"/>
<rect x="189.36" y="100.00" width="5.50" height="4.33" fill="#c20000"/>
<rect x="189.36" y="104.28" width="5.50" height="8.61" fill="#ee0000"/>
<rect x="189.36" y="112.84" width="5.50" height="2.19" fill="#ff4c00"/>
<rect x="189.36" y="114.98" width="5.50" height="4.33" fill="#ee0000"/>
<rect x="189.36" y="119.26" width="5.50" height="2.19" fill="#ff4c00"/>
<rect x="189.36" y="121.40" width="5.50" height="6.47" fill="#ee0000"/>
<rect x="189.36" y="127.82" width="5.50" height="6.47" fill="#ff4c00"/>
<rect x="189.36" y="134.24" width="5.50" height="15.03" fill="#ee0000"/>
<rect x="189.36" y="149.22" width="5.50" height="2.19" fill="#c20000"/>
<rect x="189.36" y="151.36" width="5.50" height="4.33" fill="#ff8b12"/>
<rect x="189.36" y="155.64" width="5.50" height="2.19" fill="#ee0000"/>
<rect x="189.36" y="157.78" width="5.50" height="2.19" fill="#c20000"/>
<rect x="189.36" y="159.92" width="5.50" height="2.19" fill="#ee0000"/>
<rect x="189.36" y="162.06" width="5.50" height="2.19" fill="#c20000"/>
<rect x="189.36" y="164.20" width="5.50" height="2.19" fill="#ff8b12"/>
<rect x="189.36" y="166.34" width="5.50" height="4.33" fill="#ffb449"/>
<rect x="189.36" y="170.62" width="5.50" height="2.19" fill="#ffd79c"/>
<rect x="189.36" y="172.76" width="5.50" height="4.33" fill="#ff8b12"/>
<rect x="189.36" y="177.04" width="5.50" height="4.33" fill="#ff4c00"/>
<rect x="189.36" y="181.32" width="5.50" height="4.33" fill="#ff8b12"/>
<rect x="189.36" y="185.60" width="5.50" height="4.33" fill="#ffb449"/>
<rect x="189.36" y="189.88" width="5.50" height="4.33" fill="#ffd79c"/>
<rect x="189.36" y="194.16" width="5.50" height="4.33" fill="#fef4ea"/>
<rect x="189.36" y="198.44" width="5.50" height="2.19" fill="#d6e6f8"/>
<rect x="189.36" y="200.58" width="5.50" height="2.19" fill="#fef4ea"/>
<rect x="189.36" y="202.72" width="5.50" height="4.33" fill="#6ca4ec"/>
<rect x="189.36" y="207.00" width="5.50" height="4.33" fill="#a8caf2"/>
<rect x="189.36" y="211.28" width="5.50" height="2.19" fill="#6ca4ec"/>
<rect x="189.36" y="213.42" width="5.50" height="2.19" fill="#a8caf2"/>
<rect x="189.36" y="215.56" width="5.50" height="4.33" fill="#6ca4ec"/>
<rect x="189.36" y="219.84" width="5.50" height="2.19" fill="#a8caf2"/>
<rect x="189.36" y="221.98" width="5.50" height="2.19" fill="#d6e6f8"/>
<rect x="189.36" y="224.12" width="5.50" height="2.19" fill="#fef4ea"/>
<rect x="189.36" y="226.26" width="5.50" height="2.19" fill="#ffd79c"/>
<rect x="189.36" y="228.40" width="5.50" height="2.19" fill="#d6e6f8"/>
<rect x="189.36" y="230.54" width="5.50" height="2.19" fill="#fef4ea"/>
<rect x="189.36" y="232.68" width="5.50" height="2.19" fill="#3276e4"/>
<rect x="189.36" y="234.82" width="5.50" height="2.19" fill="#6ca4ec"/>
<rect x="189.36" y="236.96" width="5.50" height="2.19" fill="#3276e4"/>
<rect x="189.36" y="239.10" width="5.50" height="2.19" fill="#0a44da"/>
<rect x="189.36" y="241.24" width="5.50" height="4.33" fill="#3276e4"/>
<rect x="189.36" y="245.52" width="5.50" height="4.33" fill="#0000c0"/>
<rect x="189.36" y="249.80" width="5.50" height="4.33" fill="#0a44da"/>
<rect x="189.36" y="254.08" width="5.50" height="2.19" fill="#3276e4"/>
<rect x="189.36" y="256.22" width="5.50" height="2.19" fill="#0a44da"/>
<rect x="189.36" y="258.36" width="5.50" height="4.33" fill="#6ca4ec"/>
<rect x="189.36" y="262.64" width="5.50" height="4.33" fill="#3276e4"/>
<rect x="189.36" y="266.92" width="5.50" height="4.33" fill="#6ca4ec"/>
<rect x="194.82" y="100.00" width="5.50" height="4.33" fill="#c20000"/>
<rect x="194.82" y="104.28" width="5.50" height="4.33" fill="#ee0000"/>
<rect x="194.82" y="108.56" width="5.50" height="2.19" fill="#ff4c00"/>
<rect x="194.82" y="110.70" width="5.50" height="2.19" fill="#ff8b12"/>
<rect x="194.82" y="112.84" width="5.50" height="12.89" fill="#ee0000"/>
<rect x="194.82" y="125.68" width="5.50" height="4.33" fill="#ff4c00"/>
<rect x="194.82" y="129.96" width="5.50" height="4.33" fill="#ee0000"/>
<rect x="194.82" y="134.24" width="5.50" height="2.19" fill="#ff4c00"/>
<rect x="194.82" y="136.38" width="5.50" height="4.33" fill="#ee0000"/>
<rect x="194.82" y="140.66" width="5.50" height="2.19" fill="#c20000"/>
<rect x="194.82" y="142.80" width="5.50" height="2.19" fill="#ee0000"/>
<rect x="194.82" y="144.94" width="5.50" height="4.33" fill="#ff4c00"/>
<rect x="194.82" y="149.22" width="5.50" height="2.19" fill="#ff8b12"/>
<rect x="194.82" y="151.36" width="5.50" height="6.47" fill="#ee0000"/>
<rect x="194.82" y="157.78" width="5.50" height="2.19" fill="#c20000"/>
<rect x="194.82" y="159.92" width="5.50" height="4.33" fill="#ffb449"/>
<rect x="194.82" y="164.20" width="5.50" height="4.33" fill="#ff8b12"/>
<rect x="194.82" y="168.48" width="5.50" height="2.19" fill="#ff4c00"/>
<rect x="194.82" y="170.62" width="5.50" height="2.19" fill="#ee0000"/>
<rect x="194.82" y="172.76" width="5.50" height="8.61" fill="#ff8b12"/>
<rect x="194.82" y="181.32" width="5.50" height="4.33" fill="#ff4c00"/>
<rect x="194.82" y="185.60" width="5.50" height="2.19" fill="#ffd79c"/>
<rect x="194.82" y="187.74" width="5.50" height="2.19" fill="#fef4ea"/>
<rect x="194.82" y="189.88" width="5.50" height="2.19" fill="#ffd79c"/>
<rect x="194.82" y="192.02" width="5.50" height="2.19" fill="#ffb449"/>
<rect x="194.82" y="194.16" width="5.50" height="2.19" fill="#fef4ea"/>
<rect x="194.82" y="196.30" width="5.50" height="2.19" fill="#ffd79c"/>
<rect x="194.82" y="198.44" width="5.50" height="4.33" fill="#d6e6f8"/>
<rect x="194.82" y="202.72" width="5.50" height="6.47" fill="#a8caf2"/>
<rect x="194.82" y="209.14" width="5.50" height="6.47" fill="#6ca4ec"/>
<rect x="194.82" y="215.56" width="5.50" height="4.33" fill="#a8caf2"/>
<rect x="194.82" y="219.84" width="5.50" height="2.19" fill="#fef4ea"/>
<rect x="194.82" y="221.98" width="5.50" height="2.19" fill="#d6e6f8"/>
<rect x="194.82" y="224.12" width="5.50" height="8.61" fill="#a8caf2"/>
<rect x="194.82" y="232.68" width="5.50" height="4.33" fill="#6ca4ec"/>
<rect x="194.82" y="236.96" width="5.50" height="4.33" fill="#3276e4"/>
<rect x="194.82" y="241.24" width="5.50" height="2.19" fill="#6ca4ec"/>
<rect x="194.82" y="243.38" width="5.50" height="4.33" fill="#3276e4"/>
<rect x="194.82" y="247.66" width="5.50" height="2.19" fill="#0a44da"/>
<rect x="194.82" y="249.80" width="5.50" height="2.19" fill="#3276e4"/>
<rect x="194.82" y="251.94" width="5.50" height="2.19" fill="#0a44da"/>
<rect x="194.82" y="254.08" width="5.50" height="2.19" fill="#3276e4"/>
<rect x="194.82" y="256.22" width="5.50" height="4.33" fill="#6ca4ec"/>
<rect x="194.82" y="260.50" width="5.50" height="2.19" fill="#3276e4"/>
<rect x="194.82" y="262.64" width="5.50" height="2.19" fill="#a8caf2"/>
<rect x="194.82" y="264.78" width="5.50" height="2.19" fill="#6ca4ec"/>
<rect x="194.82" y="266.92" width="5.50" height="2.19" fill="#a8caf2"/>
<rect x="194.82" y="269.06" width="5.50" height="2.19" fill="#d6e6f8"/>
<rect x="200.27" y="100.00" width="5.50" height="4.33" fill="#c20000"/>
<rect x="200.27" y="104.28" width="5.50" height="2.19" fill="#ee0000"/>
<rect x="200.27" y="106.42" width="5.50" height="2.19" fill="#ff4c00"/>
<rect x="200.27" y="108.56" width="5.50" height="6.47" fill="#ee0000"/>
<rect x="200.27" y="114.98" width="5.50" height="2.19" fill="#ff4c00"/>
<rect x="200.27" y="117.12" width="5.50" height="4.33" fill="#c20000"/>
<rect x="200.27" y="121.40" width="5.50" height="10.75" fill="#ee0000"/>
<rect x="200.27" y="132.10" width="5.50" height="6.47" fill="#c20000"/>
<rect x="200.27" y="138.52" width="5.50" height="2.19" fill="#ee0000"/>
<rect x="200.27" y="140.66" width="5.50" height="2.19" fill="#c20000"/>
<rect x="200.27" y="142.80" width="5.50" height="4.33" fill="#ff4c00"/>
<rect x="200.27" y="147.08" width="5.50" height="2.19" fill="#ffd79c"/>
<rect x="200.27" y="149.22" width="5.50" height="2.19" fill="#ffb449"/>
<rect x="200.27" y="151.36" width="5.50" height="2.19" fill="#ff8b12"/>
<rect x="200.27" y="153.50" width="5.50" height="2.19" fill="#ff4c00"/>
<rect x="200.27" y="155.64" width="5.50" height="4.33" fill="#ee0000"/>
<rect x="200.27" y="159.92" width="5.50" height="4.33" fill="#ff8b12"/>
<rect x="200.27" y="164.20" width="5.50" height="2.19" fill="#c20000"/>
<rect x="200.27" y="166.34" width="5.50" height="4.33" fill="#ee0000"/>
<rect x="200.27" y="170.62" width="5.50" height="2.19" fill="#ff4c00"/>
<rect x="200.27" y="172.76" width="5.50" height="4.33" fill="#c20000"/>
<rect x="200.27" y="177.04" width="5.50" height="4.33" fill="#ee0000"/>
<rect x="200.27" y="181.32" width="5.50" height="4.33" fill="#c20000"/>
<rect x="200.27" y="185.60" width="5.50" height="2.19" fill="#ee0000"/>
<rect x="200.27" y="187.74" width="5.50" height="2.19" fill="#ff4c00"/>
<rect x="200.27" y="189.88" width="5.50" height="8.61" fill="#c20000"/>
<rect x="200.27" y="198.44" width="5.50" height="2.19" fill="#ee0000"/>
<rect x="200.27" y="200.58" width="5.50" height="2.19" fill="#ff4c00"/>
<rect x="200.27" y="202.72" width="5.50" height="2.19" fill="#ee0000"/>
<rect x="200.27" y="204.86" width="5.50" height="2.19" fill="#c20000"/>
<rect x="200.27" y="207.00" width="5.50" height="2.19" fill="#ee0000"/>
<rect x="200.27" y="209.14" width="5.50" height="2.19" fill="#c20000"/>
<rect x="200.27" y="211.28" width="5.50" height="4.33" fill="#ff8b12"/>
<rect x="200.27" y="215.56" width="5.50" height="4.33" fill="#ee0000"/>
<rect x="200.27" y="219.84" width="5.50" height="4.33" fill="#6ca4ec"/>
<rect x="200.27" y="224.12" width="5.50" height="2.19" fill="#0a44da"/>
<rect x="200.27" y="226.26" width="5.50" height="2.19" fill="#0000c0"/>
<rect x="200.27" y="228.40" width="5.50" height="4.33" fill="#3276e4"/>
<rect x="200.27" y="232.68" width="5.50" height="4.33" fill="#6ca4ec"/>
<rect x="200.27" y="236.96" width="5.50" height="4.33" fill="#3276e4"/>
<rect x="200.27" y="241.24" width="5.50" height="2.19" fill="#0a44da"/>
<rect x="200.27" y="243.38" width="5.50" height="8.61" fill="#0000c0"/>
<rect x="200.27" y="251.94" width="5.50" height="2.19" fill="#0a44da"/>
<rect x="200.27" y="254.08" width="5.50" height="4.33" fill="#3276e4"/>
<rect x="200.27" y="258.36" width="5.50" height="4.33" fill="#6ca4ec"/>
<rect x="200.27" y="262.64" width="5.50" height="2.19" fill="#0a44da"/>
<rect x="200.27" y="264.78" width="5.50" height="6.47" fill="#3276e4"/>
<rect x="205.72" y="100.00" width="5.50" height="2.19" fill="#ee0000"/>
<rect x="205.72" y="102.14" width="5.50" height="2.19" fill="#c20000"/>
<rect x="205.72" y="104.28" width="5.50" height="2.19" fill="#ff4c00"/>
<rect x="205.72" y="106.42" width="5.50" height="2.19" fill="#ee0000"/>
<rect x="205.72" y="108.56" width="5.50" height="4.33" fill="#ff8b12"/>
<rect x="205.72" y="112.84" width="5.50" height="2.19" fill="#ee0000"/>
<rect x="205.72" y="114.98" width="5.50" height="2.19" fill="#ff4c00"/>
<rect x="205.72" y="117.12" width="5.50" height="4.33" fill="#ee0000"/>
<rect x="205.72" y="121.40" width="5.50" height="2.19" fill="#ff8b12"/>
<rect x="205.72" y="123.54" width="5.50" height="2.19" fill="#ffb449"/>
<rect x="205.72" y="125.68" width="5.50" height="4.33" fill="#ee0000"/>
<rect x="205.72" y="129.96" width="5.50" height="4.33" fill="#ff4c00"/>
<rect x="205.72" y="134.24" width="5.50" height="2.19" fill="#ff8b12"/>
<rect x="205.72" y="136.38" width="5.50" height="4.33" fill="#ffb449"/>
<rect x="205.72" y="140.66" width="5.50" height="4.33" fill="#ff8b12"/>
<rect x="205.72" y="144.94" width="5.50" height="2.19" fill="#ff4c00"/>
<rect x="205.72" y="147.08" width="5.50" height="2.19" fill="#ffd79c"/>
<rect x="205.72" y="149.22" width="5.50" height="2.19" fill="#ffb449"/>
<rect x="205.72" y="151.36" width="5.50" height="6.47" fill="#ff8b12"/>
<rect x="205.72" y="157.78" width="5.50" height="2.19" fill="#ff4c00"/>
<rect x="205.72" y="159.92" width="5.50" height="8.61" fill="#ffb449"/>
<rect x="205.72" y="168.48" width="5.50" height="4.33" fill="#ff8b12"/>
<rect x="205.72" y="172.76" width="5.50" height="2.19" fill="#ffd79c"/>
<rect x="205.72" y="174.90" width="5.50" height="2.19" fill="#fef4ea"/>
<rect x="205.72" y="177.04" width="5.50" height="2.19" fill="#ff8b12"/>
<rect x="205.72" y="179.18" width="5.50" height="8.61" fill="#ffb449"/>
<rect x="205.72" y="187.74" width="5.50" height="2.19" fill="#ff8b12"/>
<rect x="205.72" y="189.88" width="5.50" height="4.33" fill="#ffd79c"/>
<rect x="205.72" y="194.16" width="5.50" height="2.19" fill="#fef4ea"/>
<rect x="205.72" y="196.30" width="5.50" height="2.19" fill="#ffd79c"/>
<rect x="205.72" y="198.44" width="5.50" height="8.61" fill="#fef4ea"/>
<rect x="205.72" y="207.00" width="5.50" height="4.33" fill="#d6e6f8"/>
<rect x="205.72" y="211.28" width="5.50" height="2.19" fill="#fef4ea"/>
<rect x="205.72" y="213.42" width="5.50" height="2.19" fill="#ffd79c"/>
<rect x="205.72" y="215.56" width="5.50" height="4.33" fill="#ffb449"/>
<rect x="205.72" y="219.84" width="5.50" height="2.19" fill="#ee0000"/>
<rect x="205.72" y="221.98" width="5.50" height="2.19" fill="#ff4c00"/>
<rect x="205.72" y="224.12" width="5.50" height="4.33" fill="#ff8b12"/>
<rect x="205.72" y="228.40" width="5.50" height="4.33" fill="#fef4ea"/>
<rect x="205.72" y="232.68" width="5.50" height="2.19" fill="#ffb449"/>
<rect x="205.72" y="234.82" width="5.50" height="2.19" fill="#ff8b12"/>
<rect x="205.72" y="236.96" width="5.50" height="4.33" fill="#d6e6f8"/>
<rect x="205.72" y="241.24" width="5.50" height="2.19" fill="#a8caf2"/>
<rect x="205.72" y="243.38" width="5.50" height="2.19" fill="#d6e6f8"/>
<rect x="205.72" y="245.52" width="5.50" height="4.33" fill="#fef4ea"/>
<rect x="205.72" y="249.80" width="5.50" height="4.33" fill="#ffd79c"/>
<rect x="205.72" y="254.08" width="5.50" height="4.33" fill="#fef4ea"/>
<rect x="205.72" y="258.36" width="5.50" height="4.33" fill="#d6e6f8"/>
<rect x="205.72" y="262.64" width="5.50" height="4.33" fill="#ffd79c"/>
<rect x="205.72" y="266.92" width="5.50" height="2.19" fill="#d6e6f8"/>
<rect x="205.72" y="269.06" width="5.50" height="2.19" fill="#fef4ea"/>
<rect x="211.17" y="100.00" width="5.50" height="2.19" fill="#3276e4"/>
<rect x="211.17" y="102.14" width="5.50" height="2.19" fill="#6ca4ec"/>
<rect x="211.17" y="104.28" width="5.50" height="2.19" fill="#a8caf2"/>
<rect x="211.17" y="106.42" width="5.50" height="2.19" fill="#d6e6f8"/>
<rect x="211.17" y="108.56" width="5.50" height="4.33" fill="#3276e4"/>
<rect x="211.17" y="112.84" width="5.50" height="2.19" fill="#6ca4ec"/>
<rect x="211.17" y="114.98" width="5.50" height="6.47" fill="#3276e4"/>
<rect x="211.17" y="121.40" width="5.50" height="2.19" fill="#6ca4ec"/>
<rect x="211.17" y="123.54" width="5.50" height="2.19" fill="#a8caf2"/>
<rect x="211.17" y="125.68" width="5.50" height="2.19" fill="#3276e4"/>
<rect x="211.17" y="127.82" width="5.50" height="2.19" fill="#0a44da"/>
<rect x="211.17" y="129.96" width="5.50" height="4.33" fill="#6ca4ec"/>
<rect x="211.17" y="134.24" width="5.50" height="4.33" fill="#3276e4"/>
<rect x="211.17" y="138.52" width="5.50" height="2.19" fill="#a8caf2"/>
<rect x="211.17" y="140.66" width="5.50" height="2.19" fill="#d6e6f8"/>
<rect x="211.17" y="142.80" width="5.50" height="2.19" fill="#a8caf2"/>
<rect x="211.17" y="144.94" width="5.50" height="2.19" fill="#d6e6f8"/>
<rect x="211.17" y="147.08" width="5.50" height="4.33" fill="#6ca4ec"/>
<rect x="211.17" y="151.36" width="5.50" height="2.19" fill="#a8caf2"/>
<rect x="211.17" y="153.50" width="5.50" height="2.19" fill="#d6e6f8"/>
<rect x="211.17" y="155.64" width="5.50" height="6.47" fill="#6ca4ec"/>
<rect x="211.17" y="162.06" width="5.50" height="2.19" fill="#3276e4"/>
<rect x="211.17" y="164.20" width="5.50" height="4.33" fill="#a8caf2"/>
<rect x="211.17" y="168.48" width="5.50" height="4.33" fill="#6ca4ec"/>
<rect x="211.17" y="172.76" width="5.50" height="2.19" fill="#a8caf2"/>
<rect x="211.17" y="174.90" width="5.50" height="2.19" fill="#6ca4ec"/>
<rect x="211.17" y="177.04" width="5.50" height="8.61" fill="#3276e4"/>
<rect x="211.17" y="185.60" width="5.50" height="4.33" fill="#6ca4ec"/>
<rect x="211.17" y="189.88" width="5.50" height="4.33" fill="#3276e4"/>
<rect x="211.17" y="194.16" width="5.50" height="8.61" fill="#a8caf2"/>
<rect x="211.17" y="202.72" width="5.50" height="6.47" fill="#6ca4ec"/>
<rect x="211.17" y="209.14" width="5.50" height="2.19" fill="#3276e4"/>
<rect x="211.17" y="211.28" width="5.50" height="4.33" fill="#a8caf2"/>
<rect x="211.17" y="215.56" width="5.50" height="2.19" fill="#d6e6f8"/>
<rect x="211.17" y="217.70" width="5.50" height="2.19" fill="#fef4ea"/>
<rect x="211.17" y="219.84" width="5.50" height="4.33" fill="#ffd79c"/>
<rect x="211.17" y="224.12" width="5.50" height="4.33" fill="#fef4ea"/>
<rect x="211.17" y="228.40" width="5.50" height="4.33" fill="#ff8b12"/>
<rect x="211.17" y="232.68" width="5.50" height="2.19" fill="#fef4ea"/>
<rect x="211.17" y="234.82" width="5.50" height="8.61" fill="#ffd79c"/>
<rect x="211.17" y="243.38" width="5.50" height="2.19" fill="#fef4ea"/>
<rect x="211.17" y="245.52" width="5.50" height="12.89" fill="#ffb449"/>
<rect x="211.17" y="258.36" width="5.50" height="2.19" fill="#fef4ea"/>
<rect x="211.17" y="260.50" width="5.50" height="2.19" fill="#ffd79c"/>
<rect x="211.17" y="262.64" width="5.50" height="4.33" fill="#ff4c00"/>
<rect x="211.17" y="266.92" width="5.50" height="4.33" fill="#ffd79c"/>
<rect x="216.63" y="100.00" width="5.50" height="8.61" fill="#ffd79c"/>
<rect x="216.63" y="108.56" width="5.50" height="4.33" fill="#d6e6f8"/>
<rect x="216.63" y="112.84" width="5.50" height="2.19" fill="#ffd79c"/>
<rect x="216.63" y="114.98" width="5.50" height="2.19" fill="#ffb449"/>
<rect x="216.63" y="117.12" width="5.50" height="2.19" fill="#d6e6f8"/>
<rect x="216.63" y="119.26" width="5.50" height="4.33" fill="#fef4ea"/>
<rect x="216.63" y="123.54" width="5.50" height="6.47" fill="#ffd79c"/>
<rect x="216.63" y="129.96" width="5.50" height="2.19" fill="#fef4ea"/>
<rect x="216.63" y="132.10" width="5.50" height="4.33" fill="#ffd79c"/>
<rect x="216.63" y="136.38" width="5.50" height="8.61" fill="#fef4ea"/>
<rect x="216.63" y="144.94" width="5.50" height="6.47" fill="#ffd79c"/>
<rect x="216.63" y="151.36" width="5.50" height="2.19" fill="#fef4ea"/>
<rect x="216.63" y="153.50" width="5.50" height="6.47" fill="#d6e6f8"/>
<rect x="216.63" y="159.92" width="5.50" height="2.19" fill="#fef4ea"/>
<rect x="216.63" y="162.06" width="5.50" height="2.19" fill="#d6e6f8"/>
<rect x="216.63" y="164.20" width="5.50" height="4.33" fill="#fef4ea"/>
<rect x="216.63" y="168.48" width="5.50" height="4.33" fill="#d6e6f8"/>
<rect x="216.63" y="172.76" width="5.50" height="2.19" fill="#fef4ea"/>
<rect x="216.63" y="174.90" width="5.50" height="2.19" fill="#ffd79c"/>
<rect x="216.63" y="177.04" width="5.50" height="8.61" fill="#d6e6f8"/>
<rect x="216.63" y="185.60" width="5.50" height="4.33" fill="#fef4ea"/>
<rect x="216.63" y="189.88" width="5.50" height="4.33" fill="#d6e6f8"/>
<rect x="216.63" y="194.16" width="5.50" height="2.19" fill="#ffd79c"/>
<rect x="216.63" y="196.30" width="5.50" height="2.19" fill="#fef4ea"/>
<rect x="216.63" y="198.44" width="5.50" height="2.19" fill="#d6e6f8"/>
<rect x="216.63" y="200.58" width="5.50" height="2.19" fill="#a8caf2"/>
<rect x="216.63" y="202.72" width="5.50" height="2.19" fill="#fef4ea"/>
<rect x="216.63" y="204.86" width="5.50" height="2.19" fill="#ffd79c"/>
<rect x="216.63" y="207.00" width="5.50" height="2.19" fill="#d6e6f8"/>
<rect x="216.63" y="209.14" width="5.50" height="4.33" fill="#fef4ea"/>
<rect x="216.63" y="213.42" width="5.50" height="2.19" fill="#ffd79c"/>
<rect x="216.63" y="215.56" width="5.50" height="4.33" fill="#fef4ea"/>
<rect x="216.63" y="219.84" width="5.50" height="2.19" fill="#ffd79c"/>
<rect x="216.63" y="221.98" width="5.50" height="2.19" fill="#fef4ea"/>
<rect x="216.63" y="224.12" width="5.50" height="2.19" fill="#ffb449"/>
<rect x="216.63" y="226.26" width="5.50" height="2.19" fill="#ffd79c"/>
<rect x="216.63" y="228.40" width="5.50" height="4.33" fill="#d6e6f8"/>
<rect x="216.63" y="232.68" width="5.50" height="6.47" fill="#fef4ea"/>
<rect x="216.63" y="239.10" width="5.50" height="2.19" fill="#ffd79c"/>
<rect x="216.63" y="241.24" width="5.50" height="4.33" fill="#d6e6f8"/>
<rect x="216.63" y="245.52" width="5.50" height="2.19" fill="#ffd79c"/>
<rect x="216.63" y="247.66" width="5.50" height="8.61" fill="#fef4ea"/>
<rect x="216.63" y="256.22" width="5.50" height="2.19" fill="#ffd79c"/>
<rect x="216.63" y="258.36" width="5.50" height="2.19" fill="#fef4ea"/>
<rect x="216.63" y="260.50" width="5.50" height="2.19" fill="#d6e6f8"/>
<rect x="216.63" y="262.64" width="5.50" height="4.33" fill="#ffd79c"/>
<rect x="216.63" y="266.92" width="5.50" height="4.33" fill="#fef4ea"/>
<rect x="222.08" y="100.00" width="5.50" height="2.19" fill="#0a44da"/>
<rect x="222.08" y="102.14" width="5.50" height="2.19" fill="#3276e4"/>
<rect x="222.08" y="104.28" width="5.50" height="2.19" fill="#0a44da"/>
<rect x="222.08" y="106.42" width="5.50" height="4.33" fill="#0000c0"/>
<rect x="222.08" y="110.70" width="5.50" height="2.19" fill="#0a44da"/>
<rect x="222.08" y="112.84" width="5.50" height="4.33" fill="#0000c0"/>
<rect x="222.08" y="117.12" width="5.50" height="2.19" fill="#a8caf2"/>
<rect x="222.08" y="119.26" width="5.50" height="2.19" fill="#d6e6f8"/>
<rect x="222.08" y="121.40" width="5.50" height="2.19" fill="#a8caf2"/>
<rect x="222.08" y="123.54" width="5.50" height="2.19" fill="#d6e6f8"/>
<rect x="222.08" y="125.68" width="5.50" height="2.19" fill="#3276e4"/>
<rect x="222.08" y="127.82" width="5.50" height="2.19" fill="#6ca4ec"/>
<rect x="222.08" y="129.96" width="5.50" height="4.33" fill="#0a44da"/>
<rect x="222.08" y="134.24" width="5.50" height="2.19" fill="#a8caf2"/>
<rect x="222.08" y="136.38" width="5.50" height="2.19" fill="#6ca4ec"/>
<rect x="222.08" y="138.52" width="5.50" height="2.19" fill="#d6e6f8"/>
<rect x="222.08" y="140.66" width="5.50" height="2.19" fill="#fef4ea"/>
<rect x="222.08" y="142.80" width="5.50" height="2.19" fill="#d6e6f8"/>
<rect x="222.08" y="144.94" width="5.50" height="2.19" fill="#fef4ea"/>
<rect x="222.08" y="147.08" width="5.50" height="4.33" fill="#ff4c00"/>
<rect x="222.08" y="151.36" width="5.50" height="2.19" fill="#ffd79c"/>
<rect x="222.08" y="153.50" width="5.50" height="2.19" fill="#fef4ea"/>
<rect x="222.08" y="155.64" width="5.50" height="4.33" fill="#6ca4ec"/>
<rect x="222.08" y="159.92" width="5.50" height="2.19" fill="#0a44da"/>
<rect x="222.08" y="162.06" width="5.50" height="2.19" fill="#3276e4"/>
<rect x="222.08" y="164.20" width="5.50" height="2.19" fill="#ffb449"/>
<rect x="222.08" y="166.34" width="5.50" height="2.19" fill="#ff8b12"/>
<rect x="222.08" y="168.48" width="5.50" height="2.19" fill="#ff4c00"/>
<rect x="222.08" y="170.62" width="5.50" height="2.19" fill="#ee0000"/>
<rect x="222.08" y="172.76" width="5.50" height="2.19" fill="#ffd79c"/>
<rect x="222.08" y="174.90" width="5.50" height="2.19" fill="#fef4ea"/>
<rect x="222.08" y="177.04" width="5.50" height="6.47" fill="#ffb449"/>
<rect x="222.08" y="183.46" width="5.50" height="2.19" fill="#ffd79c"/>
<rect x="222.08" y="185.60" width="5.50" height="2.19" fill="#ffb449"/>
<rect x="222.08" y="187.74" width="5.50" height="4.33" fill="#ff8b12"/>
<rect x="222.08" y="192.02" width="5.50" height="2.19" fill="#ffb449"/>
<rect x="222.08" y="194.16" width="5.50" height="4.33" fill="#c20000"/>
<rect x="222.08" y="198.44" width="5.50" height="4.33" fill="#ff4c00"/>
<rect x="222.08" y="202.72" width="5.50" height="2.19" fill="#ee0000"/>
<rect x="222.08" y="204.86" width="5.50" height="2.19" fill="#ff4c00"/>
<rect x="222.08" y="207.00" width="5.50" height="6.47" fill="#ee0000"/>
<rect x="222.08" y="213.42" width="5.50" height="2.19" fill="#ff4c00"/>
<rect x="222.08" y="215.56" width="5.50" height="2.19" fill="#ff8b12"/>
<rect x="222.08" y="217.70" width="5.50" height="2.19" fill="#ff4c00"/>
<rect x="222.08" y="219.84" width="5.50" height="12.89" fill="#0000c0"/>
<rect x="222.08" y="232.68" width="5.50" height="2.19" fill="#6ca4ec"/>
<rect x="222.08" y="234.82" width="5.50" height="2.19" fill="#3276e4"/>
<rect x="222.08" y="236.96" width="5.50" height="4.33" fill="#fef4ea"/>
<rect x="222.08" y="241.24" width="5.50" height="6.47" fill="#d6e6f8"/>
<rect x="222.08" y="247.66" width="5.50" height="6.47" fill="#a8caf2"/>
<rect x="222.08" y="254.08" width="5.50" height="4.33" fill="#3276e4"/>
<rect x="222.08" y="258.36" width="5.50" height="6.47" fill="#6ca4ec"/>
<rect x="222.08" y="264.78" width="5.50" height="2.19" fill="#a8caf2"/>
<rect x="222.08" y="266.92" width="5.50" height="4.33" fill="#d6e6f8"/>
<rect x="227.53" y="100.00" width="5.50" height="4.33" fill="#0000c0"/>
<rect x="227.53" y="104.28" width="5.50" height="4.33" fill="#0a44da"/>
<rect x="227.53" y="108.56" width="5.50" height="8.61" fill="#0000c0"/>
<rect x="227.53" y="117.12" width="5.50" height="8.61" fill="#6ca4ec"/>
<rect x="227.53" y="125.68" width="5.50" height="4.33" fill="#0000c0"/>
<rect x="227.53" y="129.96" width="5.50" height="2.19" fill="#0a44da"/>
<rect x="227.53" y="132.10" width="5.50" height="2.19" fill="#0000c0"/>
<rect x="227.53" y="134.24" width="5.50" height="2.19" fill="#6ca4ec"/>
<rect x="227.53" y="136.38" width="5.50" height="6.47" fill="#a8caf2"/>
<rect x="227.53" y="142.80" width="5.50" height="4.33" fill="#6ca4ec"/>
<rect x="227.53" y="147.08" width="5.50" height="4.33" fill="#fef4ea"/>
<rect x="227.53" y="151.36" width="5.50" height="4.33" fill="#0a44da"/>
<rect x="227.53" y="155.64" width="5.50" height="6.47" fill="#0000c0"/>
<rect x="227.53" y="162.06" width="5.50" height="2.19" fill="#0a44da"/>
<rect x="227.53" y="164.20" width="5.50" height="4.33" fill="#ffd79c"/>
<rect x="227.53" y="168.48" width="5.50" height="4.33" fill="#fef4ea"/>
<rect x="227.53" y="172.76" width="5.50" height="2.19" fill="#ffd79c"/>
<rect x="227.53" y="174.90" width="5.50" height="2.19" fill="#ffb449"/>
<rect x="227.53" y="177.04" width="5.50" height="2.19" fill="#fef4ea"/>
<rect x="227.53" y="179.18" width="5.50" height="2.19" fill="#d6e6f8"/>
<rect x="227.53" y="181.32" width="5.50" height="4.33" fill="#ffd79c"/>
<rect x="227.53" y="185.60" width="5.50" height="2.19" fill="#a8caf2"/>
<rect x="227.53" y="187.74" width="5.50" height="2.19" fill="#6ca4ec"/>
<rect x="227.53" y="189.88" width="5.50" height="2.19" fill="#fef4ea"/>
<rect x="227.53" y="192.02" width="5.50" height="2.19" fill="#d6e6f8"/>
<rect x="227.53" y="194.16" width="5.50" height="2.19" fill="#ee0000"/>
<rect x="227.53" y="196.30" width="5.50" height="2.19" fill="#ff4c00"/>
<rect x="227.53" y="198.44" width="5.50" height="4.33" fill="#ff8b12"/>
<rect x="227.53" y="202.72" width="5.50" height="2.19" fill="#ffb449"/>
<rect x="227.53" y="204.86" width="5.50" height="6.47" fill="#ff8b12"/>
<rect x="227.53" y="211.28" width="5.50" height="2.19" fill="#ff4c00"/>
<rect x="227.53" y="213.42" width="5.50" height="6.47" fill="#ee0000"/>
<rect x="227.53" y="219.84" width="5.50" height="4.33" fill="#a8caf2"/>
<rect x="227.53" y="224.12" width="5.50" height="4.33" fill="#d6e6f8"/>
<rect x="227.53" y="228.40" width="5.50" height="2.19" fill="#a8caf2"/>
<rect x="227.53" y="230.54" width="5.50" height="2.19" fill="#6ca4ec"/>
<rect x="227.53" y="232.68" width="5.50" height="4.33" fill="#ffb449"/>
<rect x="227.53" y="236.96" width="5.50" height="6.47" fill="#ffd79c"/>
<rect x="227.53" y="243.38" width="5.50" height="2.19" fill="#fef4ea"/>
<rect x="227.53" y="245.52" width="5.50" height="2.19" fill="#ee0000"/>
<rect x="227.53" y="247.66" width="5.50" height="4.33" fill="#ff4c00"/>
<rect x="227.53" y="251.94" width="5.50" height="2.19" fill="#ff8b12"/>
<rect x="227.53" y="254.08" width="5.50" height="2.19" fill="#ffd79c"/>
<rect x="227.53" y="256.22" width="5.50" height="4.33" fill="#fef4ea"/>
<rect x="227.53" y="260.50" width="5.50" height="2.19" fill="#d6e6f8"/>
<rect x="227.53" y="262.64" width="5.50" height="4.33" fill="#fef4ea"/>
<rect x="227.53" y="266.92" width="5.50" height="4.33" fill="#ffd79c"/>
<rect x="232.98" y="100.00" width="5.50" height="2.19" fill="#6ca4ec"/>
<rect x="232.98" y="102.14" width="5.50" height="2.19" fill="#3276e4"/>
<rect x="232.98" y="104.28" width="5.50" height="2.19" fill="#d6e6f8"/>
<rect x="232.98" y="106.42" width="5.50" height="2.19" fill="#fef4ea"/>
<rect x="232.98" y="108.56" width="5.50" height="2.19" fill="#6ca4ec"/>
<rect x="232.98" y="110.70" width="5.50" height="2.19" fill="#3276e4"/>
<rect x="232.98" y="112.84" width="5.50" height="2.19" fill="#a8caf2"/>
<rect x="232.98" y="114.98" width="5.50" height="4.33" fill="#d6e6f8"/>
<rect x="232.98" y="119.26" width="5.50" height="2.19" fill="#fef4ea"/>
<rect x="232.98" y="121.40" width="5.50" height="4.33" fill="#a8caf2"/>
<rect x="232.98" y="125.68" width="5.50" height="4.33" fill="#d6e6f8"/>
<rect x="232.98" y="129.96" width="5.50" height="2.19" fill="#a8caf2"/>
<rect x="232.98" y="132.10" width="5.50" height="2.19" fill="#d6e6f8"/>
<rect x="232.98" y="134.24" width="5.50" height="2.19" fill="#6ca4ec"/>
<rect x="232.98" y="136.38" width="5.50" height="2.19" fill="#3276e4"/>
<rect x="232.98" y="138.52" width="5.50" height="8.61" fill="#d6e6f8"/>
<rect x="232.98" y="147.08" width="5.50" height="4.33" fill="#6ca4ec"/>
<rect x="232.98" y="151.36" width="5.50" height="2.19" fill="#a8caf2"/>
<rect x="232.98" y="153.50" width="5.50" height="2.19" fill="#d6e6f8"/>
<rect x="232.98" y="155.64" width="5.50" height="2.19" fill="#6ca4ec"/>
<rect x="232.98" y="157.78" width="5.50" height="2.19" fill="#a8caf2"/>
<rect x="232.98" y="159.92" width="5.50" height="2.19" fill="#3276e4"/>
<rect x="232.98" y="162.06" width="5.50" height="2.19" fill="#0a44da"/>
<rect x="232.98" y="164.20" width="5.50" height="2.19" fill="#ffd79c"/>
<rect x="232.98" y="166.34" width="5.50" height="2.19" fill="#ffb449"/>
<rect x="232.98" y="168.48" width="5.50" height="2.19" fill="#d6e6f8"/>
<rect x="232.98" y="170.62" width="5.50" height="2.19" fill="#fef4ea"/>
<rect x="232.98" y="172.76" width="5.50" height="2.19" fill="#d6e6f8"/>
<rect x="232.98" y="174.90" width="5.50" height="2.19" fill="#a8caf2"/>
<rect x="232.98" y="177.04" width="5.50" height="2.19" fill="#d6e6f8"/>
<rect x="232.98" y="179.18" width="5.50" height="2.19" fill="#a8caf2"/>
<rect x="232.98" y="181.32" width="5.50" height="2.19" fill="#fef4ea"/>
<rect x="232.98" y="183.46" width="5.50" height="2.19" fill="#ffd79c"/>
<rect x="232.98" y="185.60" width="5.50" height="4.33" fill="#a8caf2"/>
<rect x="232.98" y="189.88" width="5.50" height="2.19" fill="#d6e6f8"/>
<rect x="232.98" y="192.02" width="5.50" height="2.19" fill="#a8caf2"/>
<rect x="232.98" y="194.16" width="5.50" height="4.33" fill="#fef4ea"/>
<rect x="232.98" y="198.44" width="5.50" height="4.33" fill="#ffb449"/>
<rect x="232.98" y="202.72" width="5.50" height="2.19" fill="#ffd79c"/>
<rect x="232.98" y="204.86" width="5.50" height="2.19" fill="#ffb449"/>
<rect x="232.98" y="207.00" width="5.50" height="4.33" fill="#fef4ea"/>
<rect x="232.98" y="211.28" width="5.50" height="2.19" fill="#ffd79c"/>
<rect x="232.98" y="213.42" width="5.50" height="2.19" fill="#ffb449"/>
<rect x="232.98" y="215.56" width="5.50" height="4.33" fill="#fef4ea"/>
<rect x="232.98" y="219.84" width="5.50" height="2.19" fill="#d6e6f8"/>
<rect x="232.98" y="221.98" width="5.50" height="2.19" fill="#a8caf2"/>
<rect x="232.98" y="224.12" width="5.50" height="2.19" fill="#d6e6f8"/>
<rect x="232.98" y="226.26" width="5.50" height="2.19" fill="#fef4ea"/>
<rect x="232.98" y="228.40" width="5.50" height="6.47" fill="#d6e6f8"/>
<rect x="232.98" y="234.82" width="5.50" height="6.47" fill="#fef4ea"/>
<rect x="232.98" y="241.24" width="5.50" height="2.19" fill="#d6e6f8"/>
<rect x="232.98" y="243.38" width="5.50" height="2.19" fill="#a8caf2"/>
<rect x="232.98" y="245.52" width="5.50" height="2.19" fill="#d6e6f8"/>
<rect x="232.98" y="247.66" width="5.50" height="4.33" fill="#fef4ea"/>
<rect x="232.98" y="251.94" width="5.50" height="2.19" fill="#ffd79c"/>
<rect x="232.98" y="254.08" width="5.50" height="2.19" fill="#a8caf2"/>
<rect x="232.98" y="256.22" width="5.50" height="2.19" fill="#6ca4ec"/>
<rect x="232.98" y="258.36" width="5.50" height="2.19" fill="#fef4ea"/>
<rect x="232.98" y="260.50" width="5.50" height="6.47" fill="#ffd79c"/>
<rect x="232.98" y="266.92" width="5.50" height="4.33" fill="#d6e6f8"/>
<rect x="238.44" y="100.00" width="5.50" height="4.33" fill="#ffd79c"/>
<rect x="238.44" y="104.28" width="5.50" height="2.19" fill="#fef4ea"/>
<rect x="238.44" y="106.42" width="5.50" height="4.33" fill="#d6e6f8"/>
<rect x="238.44" y="110.70" width="5.50" height="2.19" fill="#a8caf2"/>
<rect x="238.44" y="112.84" width="5.50" height="2.19" fill="#fef4ea"/>
<rect x="238.44" y="114.98" width="5.50" height="6.47" fill="#d6e6f8"/>
<rect x="238.44" y="121.40" width="5.50" height="2.19" fill="#fef4ea"/>
<rect x="238.44" y="123.54" width="5.50" height="2.19" fill="#ffd79c"/>
<rect x="238.44" y="125.68" width="5.50" height="2.19" fill="#a8caf2"/>
<rect x="238.44" y="127.82" width="5.50" height="2.19" fill="#6ca4ec"/>
<rect x="238.44" y="129.96" width="5.50" height="4.33" fill="#d6e6f8"/>
<rect x="238.44" y="134.24" width="5.50" height="4.33" fill="#fef4ea"/>
<rect x="238.44" y="138.52" width="5.50" height="2.19" fill="#ffd79c"/>
<rect x="238.44" y="140.66" width="5.50" height="2.19" fill="#ffb449"/>
<rect x="238.44" y="142.80" width="5.50" height="2.19" fill="#a8caf2"/>
<rect x="238.44" y="144.94" width="5.50" height="2.19" fill="#6ca4ec"/>
<rect x="238.44" y="147.08" width="5.50" height="4.33" fill="#a8caf2"/>
<rect x="238.44" y="151.36" width="5.50" height="8.61" fill="#6ca4ec"/>
<rect x="238.44" y="159.92" width="5.50" height="2.19" fill="#a8caf2"/>
<rect x="238.44" y="162.06" width="5.50" height="2.19" fill="#6ca4ec"/>
<rect x="238.44" y="164.20" width="5.50" height="4.33" fill="#a8caf2"/>
<rect x="238.44" y="168.48" width="5.50" height="2.19" fill="#d6e6f8"/>
<rect x="238.44" y="170.62" width="5.50" height="2.19" fill="#fef4ea"/>
<rect x="238.44" y="172.76" width="5.50" height="2.19" fill="#a8caf2"/>
<rect x="238.44" y="174.90" width="5.50" height="4.33" fill="#6ca4ec"/>
<rect x="238.44" y="179.18" width="5.50" height="2.19" fill="#3276e4"/>
<rect x="238.44" y="181.32" width="5.50" height="2.19" fill="#a8caf2"/>
<rect x="238.44" y="183.46" width="5.50" height="2.19" fill="#6ca4ec"/>
<rect x="238.44" y="185.60" width="5.50" height="2.19" fill="#a8caf2"/>
<rect x="238.44" y="187.74" width="5.50" height="2.19" fill="#d6e6f8"/>
<rect x="238.44" y="189.88" width="5.50" height="4.33" fill="#a8caf2"/>
<rect x="238.44" y="194.16" width="5.50" height="4.33" fill="#0a44da"/>
<rect x="238.44" y="198.44" width="5.50" height="2.19" fill="#d6e6f8"/>
<rect x="238.44" y="200.58" width="5.50" height="10.75" fill="#a8caf2"/>
<rect x="238.44" y="211.28" width="5.50" height="2.19" fill="#6ca4ec"/>
<rect x="238.44" y="213.42" width="5.50" height="2.19" fill="#3276e4"/>
<rect x="238.44" y="215.56" width="5.50" height="4.33" fill="#fef4ea"/>
<rect x="238.44" y="219.84" width="5.50" height="2.19" fill="#ffb449"/>
<rect x="238.44" y="221.98" width="5.50" height="6.47" fill="#ffd79c"/>
<rect x="238.44" y="228.40" width="5.50" height="2.19" fill="#ffb449"/>
<rect x="238.44" y="230.54" width="5.50" height="2.19" fill="#ff8b12"/>
<rect x="238.44" y="232.68" width="5.50" height="2.19" fill="#ffd79c"/>
<rect x="238.44" y="234.82" width="5.50" height="6.47" fill="#fef4ea"/>
<rect x="238.44" y="241.24" width="5.50" height="2.19" fill="#ffd79c"/>
<rect x="238.44" y="243.38" width="5.50" height="8.61" fill="#ffb449"/>
<rect x="238.44" y="251.94" width="5.50" height="2.19" fill="#ff8b12"/>
<rect x="238.44" y="254.08" width="5.50" height="4.33" fill="#ffd79c"/>
<rect x="238.44" y="258.36" width="5.50" height="2.19" fill="#ffb449"/>
<rect x="238.44" y="260.50" width="5.50" height="2.19" fill="#ff8b12"/>
<rect x="238.44" y="262.64" width="5.50" height="4.33" fill="#ffb449"/>
<rect x="238.44" y="266.92" width="5.50" height="4.33" fill="#ffd79c"/>
<rect x="243.89" y="100.00" width="5.50" height="2.19" fill="#ee0000"/>
<rect x="243.89" y="102.14" width="5.50" height="2.19" fill="#c20000"/>
<rect x="243.89" y="104.28" width="5.50" height="2.19" fill="#ee0000"/>
<rect x="243.89" y="106.42" width="5.50" height="2.19" fill="#ff4c00"/>
<rect x="243.89" y="108.56" width="5.50" height="6.47" fill="#ee0000"/>
<rect x="243.89" y="114.98" width="5.50" height="2.19" fill="#ff4c00"/>
<rect x="243.89" y="117.12" width="5.50" height="2.19" fill="#ee0000"/>
<rect x="243.89" y="119.26" width="5.50" height="6.47" fill="#ff4c00"/>
<rect x="243.89" y="125.68" width="5.50" height="2.19" fill="#ee0000"/>
<rect x="243.89" y="127.82" width="5.50" height="2.19" fill="#c20000"/>
<rect x="243.89" y="129.96" width="5.50" height="8.61" fill="#ee0000"/>
<rect x="243.89" y="138.52" width="5.50" height="8.61" fill="#ff4c00"/>
<rect x="243.89" y="147.08" width="5.50" height="2.19" fill="#ff8b12"/>
<rect x="243.89" y="149.22" width="5.50" height="2.19" fill="#ff4c00"/>
<rect x="243.89" y="151.36" width="5.50" height="2.19" fill="#fef4ea"/>
<rect x="243.89" y="153.50" width="5.50" height="4.33" fill="#ffd79c"/>
<rect x="243.89" y="157.78" width="5.50" height="2.19" fill="#ffb449"/>
<rect x="243.89" y="159.92" width="5.50" height="2.19" fill="#fef4ea"/>
<rect x="243.89" y="162.06" width="5.50" height="2.19" fill="#ffd79c"/>
<rect x="243.89" y="164.20" width="5.50" height="4.33" fill="#ff4c00"/>
<rect x="243.89" y="168.48" width="5.50" height="2.19" fill="#ff8b12"/>
<rect x="243.89" y="170.62" width="5.50" height="6.47" fill="#ffb449"/>
<rect x="243.89" y="177.04" width="5.50" height="2.19" fill="#ff8b12"/>
<rect x="243.89" y="179.18" width="5.50" height="2.19" fill="#ffb449"/>
<rect x="243.89" y="181.32" width="5.50" height="4.33" fill="#ee0000"/>
<rect x="243.89" y="185.60" width="5.50" height="2.19" fill="#ffb449"/>
<rect x="243.89" y="187.74" width="5.50" height="2.19" fill="#ffd79c"/>
<rect x="243.89" y="189.88" width="5.50" height="4.33" fill="#fef4ea"/>
<rect x="243.89" y="194.16" width="5.50" height="4.33" fill="#d6e6f8"/>
<rect x="243.89" y="198.44" width="5.50" height="4.33" fill="#fef4ea"/>
<rect x="243.89" y="202.72" width="5.50" height="4.33" fill="#ffd79c"/>
<rect x="243.89" y="207.00" width="5.50" height="4.33" fill="#ffb449"/>
<rect x="243.89" y="211.28" width="5.50" height="2.19" fill="#fef4ea"/>
<rect x="243.89" y="213.42" width="5.50" height="6.47" fill="#d6e6f8"/>
<rect x="243.89" y="219.84" width="5.50" height="4.33" fill="#ffd79c"/>
<rect x="243.89" y="224.12" width="5.50" height="2.19" fill="#d6e6f8"/>
<rect x="243.89" y="226.26" width="5.50" height="10.75" fill="#fef4ea"/>
<rect x="243.89" y="236.96" width="5.50" height="2.19" fill="#d6e6f8"/>
<rect x="243.89" y="239.10" width="5.50" height="4.33" fill="#a8caf2"/>
<rect x="243.89" y="243.38" width="5.50" height="2.19" fill="#d6e6f8"/>
<rect x="243.89" y="245.52" width="5.50" height="4.33" fill="#a8caf2"/>
<rect x="243.89" y="249.80" width="5.50" height="2.19" fill="#d6e6f8"/>
<rect x="243.89" y="251.94" width="5.50" height="2.19" fill="#a8caf2"/>
<rect x="243.89" y="254.08" width="5.50" height="2.19" fill="#fef4ea"/>
<rect x="243.89" y="256.22" width="5.50" height="2.19" fill="#d6e6f8"/>
<rect x="243.89" y="258.36" width="5.50" height="4.33" fill="#a8caf2"/>
<rect x="243.89" y="262.64" width="5.50" height="4.33" fill="#fef4ea"/>
<rect x="243.89" y="266.92" width="5.50" height="2.19" fill="#d6e6f8"/>
<rect x="243.89" y="269.06" width="5.50" height="2.19" fill="#a8caf2"/>
<rect x="249.34" y="100.00" width="5.50" height="4.33" fill="#ee0000"/>
<rect x="249.34" y="104.28" width="5.50" height="4.33" fill="#ff8b12"/>
<rect x="249.34" y="108.56" width="5.50" height="4.33" fill="#ffb449"/>
<rect x="249.34" y="112.84" width="5.50" height="4.33" fill="#ff4c00"/>
<rect x="249.34" y="117.12" width="5.50" height="4.33" fill="#ee0000"/>
<rect x="249.34" y="121.40" width="5.50" height="2.19" fill="#ffb449"/>
<rect x="249.34" y="123.54" width="5.50" height="2.19" fill="#ff8b12"/>
<rect x="249.34" y="125.68" width="5.50" height="4.33" fill="#ee0000"/>
<rect x="249.34" y="129.96" width="5.50" height="4.33" fill="#ff4c00"/>
<rect x="249.34" y="134.24" width="5.50" height="4.33" fill="#ff8b12"/>
<rect x="249.34" y="138.52" width="5.50" height="2.19" fill="#ff4c00"/>
<rect x="249.34" y="140.66" width="5.50" height="2.19" fill="#ee0000"/>
<rect x="249.34" y="142.80" width="5.50" height="2.19" fill="#ffb449"/>
<rect x="249.34" y="144.94" width="5.50" height="2.19" fill="#ff8b12"/>
<rect x="249.34" y="147.08" width="5.50" height="4.33" fill="#c20000"/>
<rect x="249.34" y="151.36" width="5.50" height="2.19" fill="#ffd79c"/>
<rect x="249.34" y="153.50" width="5.50" height="4.33" fill="#fef4ea"/>
<rect x="249.34" y="157.78" width="5.50" height="2.19" fill="#d6e6f8"/>
<rect x="249.34" y="159.92" width="5.50" height="2.19" fill="#fef4ea"/>
<rect x="249.34" y="162.06" width="5.50" height="2.19" fill="#ffd79c"/>
<rect x="249.34" y="164.20" width="5.50" height="8.61" fill="#ee0000"/>
<rect x="249.34" y="172.76" width="5.50" height="2.19" fill="#ff8b12"/>
<rect x="249.34" y="174.90" width="5.50" height="4.33" fill="#ff4c00"/>
<rect x="249.34" y="179.18" width="5.50" height="2.19" fill="#ff8b12"/>
<rect x="249.34" y="181.32" width="5.50" height="4.33" fill="#ee0000"/>
<rect x="249.34" y="185.60" width="5.50" height="4.33" fill="#ff8b12"/>
<rect x="249.34" y="189.88" width="5.50" height="4.33" fill="#ffb449"/>
<rect x="249.34" y="194.16" width="5.50" height="4.33" fill="#ee0000"/>
<rect x="249.34" y="198.44" width="5.50" height="4.33" fill="#ff4c00"/>
<rect x="249.34" y="202.72" width="5.50" height="4.33" fill="#ffb449"/>
<rect x="249.34" y="207.00" width="5.50" height="4.33" fill="#ffd79c"/>
<rect x="249.34" y="211.28" width="5.50" height="2.19" fill="#ffb449"/>
<rect x="249.34" y="213.42" width="5.50" height="4.33" fill="#ffd79c"/>
<rect x="249.34" y="217.70" width="5.50" height="2.19" fill="#ffb449"/>
<rect x="249.34" y="219.84" width="5.50" height="8.61" fill="#a8caf2"/>
<rect x="249.34" y="228.40" width="5.50" height="4.33" fill="#ffd79c"/>
<rect x="249.34" y="232.68" width="5.50" height="4.33" fill="#6ca4ec"/>
<rect x="249.34" y="236.96" width="5.50" height="2.19" fill="#a8caf2"/>
<rect x="249.34" y="239.10" width="5.50" height="6.47" fill="#6ca4ec"/>
<rect x="249.34" y="245.52" width="5.50" height="4.33" fill="#3276e4"/>
<rect x="249.34" y="249.80" width="5.50" height="6.47" fill="#6ca4ec"/>
<rect x="249.34" y="256.22" width="5.50" height="2.19" fill="#3276e4"/>
<rect x="249.34" y="258.36" width="5.50" height="2.19" fill="#a8caf2"/>
<rect x="249.34" y="260.50" width="5.50" height="2.19" fill="#6ca4ec"/>
<rect x="249.34" y="262.64" width="5.50" height="4.33" fill="#a8caf2"/>
<rect x="249.34" y="266.92" width="5.50" height="4.33" fill="#fef4ea"/>
<rect x="254.79" y="100.00" width="5.50" height="4.33" fill="#ffb449"/>
<rect x="254.79" y="104.28" width="5.50" height="2.19" fill="#a8caf2"/>
<rect x="254.79" y="106.42" width="5.50" height="2.19" fill="#6ca4ec"/>
<rect x="254.79" y="108.56" width="5.50" height="2.19" fill="#fef4ea"/>
<rect x="254.79" y="110.70" width="5.50" height="2.19" fill="#d6e6f8"/>
<rect x="254.79" y="112.84" width="5.50" height="2.19" fill="#ffb449"/>
<rect x="254.79" y="114.98" width="5.50" height="2.19" fill="#ff8b12"/>
<rect x="254.79" y="117.12" width="5.50" height="2.19" fill="#fef4ea"/>
<rect x="254.79" y="119.26" width="5.50" height="2.19" fill="#d6e6f8"/>
<rect x="254.79" y="121.40" width="5.50" height="2.19" fill="#ffb449"/>
<rect x="254.79" y="123.54" width="5.50" height="2.19" fill="#ffd79c"/>
<rect x="254.79" y="125.68" width="5.50" height="2.19" fill="#d6e6f8"/>
<rect x="254.79" y="127.82" width="5.50" height="2.19" fill="#fef4ea"/>
<rect x="254.79" y="129.96" width="5.50" height="4.33" fill="#ffb449"/>
<rect x="254.79" y="134.24" width="5.50" height="4.33" fill="#ff8b12"/>
<rect x="254.79" y="138.52" width="5.50" height="4.33" fill="#ee0000"/>
<rect x="254.79" y="142.80" width="5.50" height="4.33" fill="#ffb449"/>
<rect x="254.79" y="147.08" width="5.50" height="4.33" fill="#ff8b12"/>
<rect x="254.79" y="151.36" width="5.50" height="4.33" fill="#6ca4ec"/>
<rect x="254.79" y="155.64" width="5.50" height="2.19" fill="#0a44da"/>
<rect x="254.79" y="157.78" width="5.50" height="2.19" fill="#0000c0"/>
<rect x="254.79" y="159.92" width="5.50" height="2.19" fill="#0a44da"/>
<rect x="254.79" y="162.06" width="5.50" height="2.19" fill="#3276e4"/>
<rect x="254.79" y="164.20" width="5.50" height="12.89" fill="#ff8b12"/>
<rect x="254.79" y="177.04" width="5.50" height="2.19" fill="#ffd79c"/>
<rect x="254.79" y="179.18" width="5.50" height="2.19" fill="#fef4ea"/>
<rect x="254.79" y="181.32" width="5.50" height="4.33" fill="#ffb449"/>
<rect x="254.79" y="185.60" width="5.50" height="2.19" fill="#ee0000"/>
<rect x="254.79" y="187.74" width="5.50" height="2.19" fill="#c20000"/>
<rect x="254.79" y="189.88" width="5.50" height="2.19" fill="#ff8b12"/>
<rect x="254.79" y="192.02" width="5.50" height="2.19" fill="#ffb449"/>
<rect x="254.79" y="194.16" width="5.50" height="2.19" fill="#ffd79c"/>
<rect x="254.79" y="196.30" width="5.50" height="2.19" fill="#ffb449"/>
<rect x="254.79" y="198.44" width="5.50" height="2.19" fill="#ee0000"/>
<rect x="254.79" y="200.58" width="5.50" height="2.19" fill="#ff4c00"/>
<rect x="254.79" y="202.72" width="5.50" height="8.61" fill="#ee0000"/>
<rect x="254.79" y="211.28" width="5.50" height="8.61" fill="#ff8b12"/>
<rect x="254.79" y="219.84" width="5.50" height="4.33" fill="#a8caf2"/>
<rect x="254.79" y="224.12" width="5.50" height="4.33" fill="#6ca4ec"/>
<rect x="254.79" y="228.40" width="5.50" height="4.33" fill="#3276e4"/>
<rect x="254.79" y="232.68" width="5.50" height="2.19" fill="#fef4ea"/>
<rect x="254.79" y="234.82" width="5.50" height="2.19" fill="#ffd79c"/>
<rect x="254.79" y="236.96" width="5.50" height="4.33" fill="#d6e6f8"/>
<rect x="254.79" y="241.24" width="5.50" height="4.33" fill="#fef4ea"/>
<rect x="254.79" y="245.52" width="5.50" height="8.61" fill="#d6e6f8"/>
<rect x="254.79" y="254.08" width="5.50" height="2.19" fill="#fef4ea"/>
<rect x="254.79" y="256.22" width="5.50" height="4.33" fill="#d6e6f8"/>
<rect x="254.79" y="260.50" width="5.50" height="2.19" fill="#a8caf2"/>
<rect x="254.79" y="262.64" width="5.50" height="4.33" fill="#fef4ea"/>
<rect x="254.79" y="266.92" width="5.50" height="2.19" fill="#a8caf2"/>
<rect x="254.79" y="269.06" width="5.50" height="2.19" fill="#6ca4ec"/>
<rect x="260.25" y="100.00" width="5.50" height="2.19" fill="#d6e6f8"/>
<rect x="260.25" y="102.14" width="5.50" height="6.47" fill="#fef4ea"/>
<rect x="260.25" y="108.56" width="5.50" height="2.19" fill="#ffd79c"/>
<rect x="260.25" y="110.70" width="5.50" height="4.33" fill="#fef4ea"/>
<rect x="260.25" y="114.98" width="5.50" height="2.19" fill="#d6e6f8"/>
<rect x="260.25" y="117.12" width="5.50" height="4.33" fill="#ffd79c"/>
<rect x="260.25" y="121.40" width="5.50" height="4.33" fill="#fef4ea"/>
<rect x="260.25" y="125.68" width="5.50" height="4.33" fill="#d6e6f8"/>
<rect x="260.25" y="129.96" width="5.50" height="4.33" fill="#fef4ea"/>
<rect x="260.25" y="134.24" width="5.50" height="6.47" fill="#ffd79c"/>
<rect x="260.25" y="140.66" width="5.50" height="6.47" fill="#fef4ea"/>
<rect x="260.25" y="147.08" width="5.50" height="2.19" fill="#ffd79c"/>
<rect x="260.25" y="149.22" width="5.50" height="2.19" fill="#ffb449"/>
<rect x="260.25" y="151.36" width="5.50" height="4.33" fill="#fef4ea"/>
<rect x="260.25" y="155.64" width="5.50" height="2.19" fill="#a8caf2"/>
<rect x="260.25" y="157.78" width="5.50" height="4.33" fill="#d6e6f8"/>
<rect x="260.25" y="162.06" width="5.50" height="4.33" fill="#fef4ea"/>
<rect x="260.25" y="166.34" width="5.50" height="2.19" fill="#d6e6f8"/>
<rect x="260.25" y="168.48" width="5.50" height="2.19" fill="#a8caf2"/>
<rect x="260.25" y="170.62" width="5.50" height="2.19" fill="#d6e6f8"/>
<rect x="260.25" y="172.76" width="5.50" height="4.33" fill="#fef4ea"/>
<rect x="260.25" y="177.04" width="5.50" height="2.19" fill="#d6e6f8"/>
<rect x="260.25" y="179.18" width="5.50" height="2.19" fill="#fef4ea"/>
<rect x="260.25" y="181.32" width="5.50" height="6.47" fill="#d6e6f8"/>
<rect x="260.25" y="187.74" width="5.50" height="2.19" fill="#fef4ea"/>
<rect x="260.25" y="189.88" width="5.50" height="2.19" fill="#a8caf2"/>
<rect x="260.25" y="192.02" width="5.50" height="2.19" fill="#6ca4ec"/>
<rect x="260.25" y="194.16" width="5.50" height="2.19" fill="#fef4ea"/>
<rect x="260.25" y="196.30" width="5.50" height="2.19" fill="#ffd79c"/>
<rect x="260.25" y="198.44" width="5.50" height="4.33" fill="#fef4ea"/>
<rect x="260.25" y="202.72" width="5.50" height="6.47" fill="#d6e6f8"/>
<rect x="260.25" y="209.14" width="5.50" height="2.19" fill="#a8caf2"/>
<rect x="260.25" y="211.28" width="5.50" height="4.33" fill="#fef4ea"/>
<rect x="260.25" y="215.56" width="5.50" height="4.33" fill="#d6e6f8"/>
<rect x="260.25" y="219.84" width="5.50" height="4.33" fill="#ee0000"/>
<rect x="260.25" y="224.12" width="5.50" height="4.33" fill="#d6e6f8"/>
<rect x="260.25" y="228.40" width="5.50" height="4.33" fill="#ffb449"/>
<rect x="260.25" y="232.68" width="5.50" height="2.19" fill="#ff4c00"/>
<rect x="260.25" y="234.82" width="5.50" height="2.19" fill="#ee0000"/>
<rect x="260.25" y="236.96" width="5.50" height="2.19" fill="#ffd79c"/>
<rect x="260.25" y="239.10" width="5.50" height="2.19" fill="#ffb449"/>
<rect x="260.25" y="241.24" width="5.50" height="4.33" fill="#ffd79c"/>
<rect x="260.25" y="245.52" width="5.50" height="4.33" fill="#ee0000"/>
<rect x="260.25" y="249.80" width="5.50" height="2.19" fill="#ff8b12"/>
<rect x="260.25" y="251.94" width="5.50" height="2.19" fill="#ffb449"/>
<rect x="260.25" y="254.08" width="5.50" height="4.33" fill="#ffd79c"/>
<rect x="260.25" y="258.36" width="5.50" height="4.33" fill="#fef4ea"/>
<rect x="260.25" y="262.64" width="5.50" height="2.19" fill="#ffb449"/>
<rect x="260.25" y="264.78" width="5.50" height="4.33" fill="#ffd79c"/>
<rect x="260.25" y="269.06" width="5.50" height="2.19" fill="#fef4ea"/>
<rect x="107.12" y="100" width="0.9" height="171.2" fill="#fff" fill-opacity="0.85"/>
<rect x="156.20" y="100" width="0.9" height="171.2" fill="#fff" fill-opacity="0.85"/>
<rect x="183.46" y="100" width="0.9" height="171.2" fill="#fff" fill-opacity="0.85"/>
<rect x="210.72" y="100" width="0.9" height="171.2" fill="#fff" fill-opacity="0.85"/>
<rect x="237.99" y="100" width="0.9" height="171.2" fill="#fff" fill-opacity="0.85"/>
<rect x="50.2" y="100" width="5.9" height="63.3" fill="#ff0000" stroke="none" stroke-width="1" />
<rect x="50.2" y="163.3" width="5.9" height="55.9" fill="#ffa500" stroke="none" stroke-width="1" />
<rect x="50.2" y="219.2" width="5.9" height="52.0" fill="#87ceeb" stroke="none" stroke-width="1" />
<line x1="6" y1="171.8" x2="6" y2="229.0" stroke="#333" stroke-width="0.8"/>
<line x1="6" y1="171.8" x2="35.4" y2="171.8" stroke="#333" stroke-width="0.8"/>
<line x1="6" y1="229.0" x2="42.3" y2="229.0" stroke="#333" stroke-width="0.8"/>
<line x1="35.4" y1="144" x2="35.4" y2="200.5" stroke="#333" stroke-width="0.8"/>
<line x1="35.4" y1="144" x2="44" y2="144" stroke="#333" stroke-width="0.8"/>
<line x1="35.4" y1="200.5" x2="42.3" y2="200.5" stroke="#333" stroke-width="0.8"/>
<line x1="43.2" y1="131" x2="43.2" y2="157" stroke="#333" stroke-width="0.6"/>
<line x1="42.4" y1="188" x2="42.4" y2="212" stroke="#333" stroke-width="0.6"/>
<line x1="43.0" y1="220" x2="43.0" y2="249" stroke="#333" stroke-width="0.6"/>
<line x1="49.60" y1="121.04" x2="49.26" y2="121.04" stroke="#3a3a3a" stroke-width="0.45"/>
<line x1="49.60" y1="123.25" x2="49.26" y2="123.25" stroke="#3a3a3a" stroke-width="0.45"/>
<line x1="49.26" y1="121.04" x2="49.26" y2="123.25" stroke="#3a3a3a" stroke-width="0.45"/>
<line x1="49.60" y1="112.18" x2="48.85" y2="112.18" stroke="#3a3a3a" stroke-width="0.45"/>
<line x1="49.60" y1="114.39" x2="48.85" y2="114.39" stroke="#3a3a3a" stroke-width="0.45"/>
<line x1="48.85" y1="112.18" x2="48.85" y2="114.39" stroke="#3a3a3a" stroke-width="0.45"/>
<line x1="49.60" y1="127.68" x2="48.76" y2="127.68" stroke="#3a3a3a" stroke-width="0.45"/>
<line x1="49.60" y1="129.89" x2="48.76" y2="129.89" stroke="#3a3a3a" stroke-width="0.45"/>
<line x1="48.76" y1="127.68" x2="48.76" y2="129.89" stroke="#3a3a3a" stroke-width="0.45"/>
<line x1="49.60" y1="101.11" x2="48.82" y2="101.11" stroke="#3a3a3a" stroke-width="0.45"/>
<line x1="49.60" y1="103.32" x2="48.82" y2="103.32" stroke="#3a3a3a" stroke-width="0.45"/>
<line x1="48.82" y1="101.11" x2="48.82" y2="103.32" stroke="#3a3a3a" stroke-width="0.45"/>
<line x1="49.60" y1="109.96" x2="48.22" y2="109.96" stroke="#3a3a3a" stroke-width="0.45"/>
<line x1="48.85" y1="113.29" x2="48.22" y2="113.29" stroke="#3a3a3a" stroke-width="0.45"/>
<line x1="48.22" y1="109.96" x2="48.22" y2="113.29" stroke="#3a3a3a" stroke-width="0.45"/>
<line x1="49.60" y1="107.75" x2="47.98" y2="107.75" stroke="#3a3a3a" stroke-width="0.45"/>
<line x1="48.22" y1="111.62" x2="47.98" y2="111.62" stroke="#3a3a3a" stroke-width="0.45"/>
<line x1="47.98" y1="107.75" x2="47.98" y2="111.62" stroke="#3a3a3a" stroke-width="0.45"/>
<line x1="49.60" y1="116.61" x2="48.80" y2="116.61" stroke="#3a3a3a" stroke-width="0.45"/>
<line x1="49.60" y1="118.82" x2="48.80" y2="118.82" stroke="#3a3a3a" stroke-width="0.45"/>
<line x1="48.80" y1="116.61" x2="48.80" y2="118.82" stroke="#3a3a3a" stroke-width="0.45"/>
<line x1="48.80" y1="117.71" x2="48.24" y2="117.71" stroke="#3a3a3a" stroke-width="0.45"/>
<line x1="49.26" y1="122.14" x2="48.24" y2="122.14" stroke="#3a3a3a" stroke-width="0.45"/>
<line x1="48.24" y1="117.71" x2="48.24" y2="122.14" stroke="#3a3a3a" stroke-width="0.45"/>
<line x1="49.60" y1="125.46" x2="48.42" y2="125.46" stroke="#3a3a3a" stroke-width="0.45"/>
<line x1="48.76" y1="128.79" x2="48.42" y2="128.79" stroke="#3a3a3a" stroke-width="0.45"/>
<line x1="48.42" y1="125.46" x2="48.42" y2="128.79" stroke="#3a3a3a" stroke-width="0.45"/>
<line x1="49.60" y1="105.54" x2="47.53" y2="105.54" stroke="#3a3a3a" stroke-width="0.45"/>
<line x1="47.98" y1="109.69" x2="47.53" y2="109.69" stroke="#3a3a3a" stroke-width="0.45"/>
<line x1="47.53" y1="105.54" x2="47.53" y2="109.69" stroke="#3a3a3a" stroke-width="0.45"/>
<line x1="48.82" y1="102.21" x2="46.69" y2="102.21" stroke="#3a3a3a" stroke-width="0.45"/>
<line x1="47.53" y1="107.61" x2="46.69" y2="107.61" stroke="#3a3a3a" stroke-width="0.45"/>
<line x1="46.69" y1="102.21" x2="46.69" y2="107.61" stroke="#3a3a3a" stroke-width="0.45"/>
<line x1="48.24" y1="119.93" x2="47.97" y2="119.93" stroke="#3a3a3a" stroke-width="0.45"/>
<line x1="48.42" y1="127.12" x2="47.97" y2="127.12" stroke="#3a3a3a" stroke-width="0.45"/>
<line x1="47.97" y1="119.93" x2="47.97" y2="127.12" stroke="#3a3a3a" stroke-width="0.45"/>
<line x1="46.69" y1="104.91" x2="46.43" y2="104.91" stroke="#3a3a3a" stroke-width="0.45"/>
<line x1="47.97" y1="123.53" x2="46.43" y2="123.53" stroke="#3a3a3a" stroke-width="0.45"/>
<line x1="46.43" y1="104.91" x2="46.43" y2="123.53" stroke="#3a3a3a" stroke-width="0.45"/>
<line x1="46.43" y1="114.22" x2="43.2" y2="114.22" stroke="#3a3a3a" stroke-width="0.45"/>
<line x1="43.2" y1="114.22" x2="43.2" y2="131.00" stroke="#555" stroke-width="0.6"/>
<line x1="49.60" y1="151.46" x2="49.12" y2="151.46" stroke="#3a3a3a" stroke-width="0.45"/>
<line x1="49.60" y1="153.61" x2="49.12" y2="153.61" stroke="#3a3a3a" stroke-width="0.45"/>
<line x1="49.12" y1="151.46" x2="49.12" y2="153.61" stroke="#3a3a3a" stroke-width="0.45"/>
<line x1="49.60" y1="136.38" x2="49.45" y2="136.38" stroke="#3a3a3a" stroke-width="0.45"/>
<line x1="49.60" y1="138.54" x2="49.45" y2="138.54" stroke="#3a3a3a" stroke-width="0.45"/>
<line x1="49.45" y1="136.38" x2="49.45" y2="138.54" stroke="#3a3a3a" stroke-width="0.45"/>
<line x1="49.60" y1="132.08" x2="49.29" y2="132.08" stroke="#3a3a3a" stroke-width="0.45"/>
<line x1="49.60" y1="134.23" x2="49.29" y2="134.23" stroke="#3a3a3a" stroke-width="0.45"/>
<line x1="49.29" y1="132.08" x2="49.29" y2="134.23" stroke="#3a3a3a" stroke-width="0.45"/>
<line x1="49.60" y1="142.84" x2="48.73" y2="142.84" stroke="#3a3a3a" stroke-width="0.45"/>
<line x1="49.60" y1="145.00" x2="48.73" y2="145.00" stroke="#3a3a3a" stroke-width="0.45"/>
<line x1="48.73" y1="142.84" x2="48.73" y2="145.00" stroke="#3a3a3a" stroke-width="0.45"/>
<line x1="49.60" y1="140.69" x2="47.93" y2="140.69" stroke="#3a3a3a" stroke-width="0.45"/>
<line x1="48.73" y1="143.92" x2="47.93" y2="143.92" stroke="#3a3a3a" stroke-width="0.45"/>
<line x1="47.93" y1="140.69" x2="47.93" y2="143.92" stroke="#3a3a3a" stroke-width="0.45"/>
<line x1="49.60" y1="149.30" x2="48.73" y2="149.30" stroke="#3a3a3a" stroke-width="0.45"/>
<line x1="49.12" y1="152.53" x2="48.73" y2="152.53" stroke="#3a3a3a" stroke-width="0.45"/>
<line x1="48.73" y1="149.30" x2="48.73" y2="152.53" stroke="#3a3a3a" stroke-width="0.45"/>
<line x1="49.60" y1="147.15" x2="48.18" y2="147.15" stroke="#3a3a3a" stroke-width="0.45"/>
<line x1="48.73" y1="150.92" x2="48.18" y2="150.92" stroke="#3a3a3a" stroke-width="0.45"/>
<line x1="48.18" y1="147.15" x2="48.18" y2="150.92" stroke="#3a3a3a" stroke-width="0.45"/>
<line x1="49.60" y1="157.92" x2="48.98" y2="157.92" stroke="#3a3a3a" stroke-width="0.45"/>
<line x1="49.60" y1="160.07" x2="48.98" y2="160.07" stroke="#3a3a3a" stroke-width="0.45"/>
<line x1="48.98" y1="157.92" x2="48.98" y2="160.07" stroke="#3a3a3a" stroke-width="0.45"/>
<line x1="49.45" y1="137.46" x2="47.07" y2="137.46" stroke="#3a3a3a" stroke-width="0.45"/>
<line x1="47.93" y1="142.31" x2="47.07" y2="142.31" stroke="#3a3a3a" stroke-width="0.45"/>
<line x1="47.07" y1="137.46" x2="47.07" y2="142.31" stroke="#3a3a3a" stroke-width="0.45"/>
<line x1="47.07" y1="139.88" x2="46.19" y2="139.88" stroke="#3a3a3a" stroke-width="0.45"/>
<line x1="48.18" y1="149.03" x2="46.19" y2="149.03" stroke="#3a3a3a" stroke-width="0.45"/>
<line x1="46.19" y1="139.88" x2="46.19" y2="149.03" stroke="#3a3a3a" stroke-width="0.45"/>
<line x1="48.98" y1="158.99" x2="48.61" y2="158.99" stroke="#3a3a3a" stroke-width="0.45"/>
<line x1="49.60" y1="162.22" x2="48.61" y2="162.22" stroke="#3a3a3a" stroke-width="0.45"/>
<line x1="48.61" y1="158.99" x2="48.61" y2="162.22" stroke="#3a3a3a" stroke-width="0.45"/>
<line x1="46.19" y1="144.46" x2="45.73" y2="144.46" stroke="#3a3a3a" stroke-width="0.45"/>
<line x1="49.60" y1="155.76" x2="45.73" y2="155.76" stroke="#3a3a3a" stroke-width="0.45"/>
<line x1="45.73" y1="144.46" x2="45.73" y2="155.76" stroke="#3a3a3a" stroke-width="0.45"/>
<line x1="49.29" y1="133.15" x2="45.39" y2="133.15" stroke="#3a3a3a" stroke-width="0.45"/>
<line x1="45.73" y1="150.11" x2="45.39" y2="150.11" stroke="#3a3a3a" stroke-width="0.45"/>
<line x1="45.39" y1="133.15" x2="45.39" y2="150.11" stroke="#3a3a3a" stroke-width="0.45"/>
<line x1="45.39" y1="141.63" x2="45.01" y2="141.63" stroke="#3a3a3a" stroke-width="0.45"/>
<line x1="48.61" y1="160.61" x2="45.01" y2="160.61" stroke="#3a3a3a" stroke-width="0.45"/>
<line x1="45.01" y1="141.63" x2="45.01" y2="160.61" stroke="#3a3a3a" stroke-width="0.45"/>
<line x1="45.01" y1="151.12" x2="43.2" y2="151.12" stroke="#3a3a3a" stroke-width="0.45"/>
<line x1="43.2" y1="151.12" x2="43.2" y2="157.00" stroke="#555" stroke-width="0.6"/>
<line x1="49.60" y1="182.85" x2="49.01" y2="182.85" stroke="#3a3a3a" stroke-width="0.45"/>
<line x1="49.60" y1="184.91" x2="49.01" y2="184.91" stroke="#3a3a3a" stroke-width="0.45"/>
<line x1="49.01" y1="182.85" x2="49.01" y2="184.91" stroke="#3a3a3a" stroke-width="0.45"/>
<line x1="49.01" y1="183.88" x2="48.35" y2="183.88" stroke="#3a3a3a" stroke-width="0.45"/>
<line x1="49.60" y1="186.97" x2="48.35" y2="186.97" stroke="#3a3a3a" stroke-width="0.45"/>
<line x1="48.35" y1="183.88" x2="48.35" y2="186.97" stroke="#3a3a3a" stroke-width="0.45"/>
<line x1="49.60" y1="174.62" x2="49.40" y2="174.62" stroke="#3a3a3a" stroke-width="0.45"/>
<line x1="49.60" y1="176.68" x2="49.40" y2="176.68" stroke="#3a3a3a" stroke-width="0.45"/>
<line x1="49.40" y1="174.62" x2="49.40" y2="176.68" stroke="#3a3a3a" stroke-width="0.45"/>
<line x1="49.40" y1="175.65" x2="48.64" y2="175.65" stroke="#3a3a3a" stroke-width="0.45"/>
<line x1="49.60" y1="178.74" x2="48.64" y2="178.74" stroke="#3a3a3a" stroke-width="0.45"/>
<line x1="48.64" y1="175.65" x2="48.64" y2="178.74" stroke="#3a3a3a" stroke-width="0.45"/>
<line x1="49.60" y1="170.50" x2="48.93" y2="170.50" stroke="#3a3a3a" stroke-width="0.45"/>
<line x1="49.60" y1="172.56" x2="48.93" y2="172.56" stroke="#3a3a3a" stroke-width="0.45"/>
<line x1="48.93" y1="170.50" x2="48.93" y2="172.56" stroke="#3a3a3a" stroke-width="0.45"/>
<line x1="49.60" y1="166.39" x2="49.09" y2="166.39" stroke="#3a3a3a" stroke-width="0.45"/>
<line x1="49.60" y1="168.45" x2="49.09" y2="168.45" stroke="#3a3a3a" stroke-width="0.45"/>
<line x1="49.09" y1="166.39" x2="49.09" y2="168.45" stroke="#3a3a3a" stroke-width="0.45"/>
<line x1="49.09" y1="167.42" x2="48.73" y2="167.42" stroke="#3a3a3a" stroke-width="0.45"/>
<line x1="48.93" y1="171.53" x2="48.73" y2="171.53" stroke="#3a3a3a" stroke-width="0.45"/>
<line x1="48.73" y1="167.42" x2="48.73" y2="171.53" stroke="#3a3a3a" stroke-width="0.45"/>
<line x1="49.60" y1="164.33" x2="47.87" y2="164.33" stroke="#3a3a3a" stroke-width="0.45"/>
<line x1="48.73" y1="169.48" x2="47.87" y2="169.48" stroke="#3a3a3a" stroke-width="0.45"/>
<line x1="47.87" y1="164.33" x2="47.87" y2="169.48" stroke="#3a3a3a" stroke-width="0.45"/>
<line x1="48.64" y1="177.19" x2="47.85" y2="177.19" stroke="#3a3a3a" stroke-width="0.45"/>
<line x1="49.60" y1="180.80" x2="47.85" y2="180.80" stroke="#3a3a3a" stroke-width="0.45"/>
<line x1="47.85" y1="177.19" x2="47.85" y2="180.80" stroke="#3a3a3a" stroke-width="0.45"/>
<line x1="47.87" y1="166.90" x2="47.29" y2="166.90" stroke="#3a3a3a" stroke-width="0.45"/>
<line x1="47.85" y1="178.99" x2="47.29" y2="178.99" stroke="#3a3a3a" stroke-width="0.45"/>
<line x1="47.29" y1="166.90" x2="47.29" y2="178.99" stroke="#3a3a3a" stroke-width="0.45"/>
<line x1="47.29" y1="172.95" x2="46.87" y2="172.95" stroke="#3a3a3a" stroke-width="0.45"/>
<line x1="48.35" y1="185.43" x2="46.87" y2="185.43" stroke="#3a3a3a" stroke-width="0.45"/>
<line x1="46.87" y1="172.95" x2="46.87" y2="185.43" stroke="#3a3a3a" stroke-width="0.45"/>
<line x1="46.87" y1="179.19" x2="42.4" y2="179.19" stroke="#3a3a3a" stroke-width="0.45"/>
<line x1="42.4" y1="179.19" x2="42.4" y2="188.00" stroke="#555" stroke-width="0.6"/>
<line x1="49.60" y1="207.76" x2="48.82" y2="207.76" stroke="#3a3a3a" stroke-width="0.45"/>
<line x1="49.60" y1="209.84" x2="48.82" y2="209.84" stroke="#3a3a3a" stroke-width="0.45"/>
<line x1="48.82" y1="207.76" x2="48.82" y2="209.84" stroke="#3a3a3a" stroke-width="0.45"/>
<line x1="49.60" y1="203.60" x2="49.41" y2="203.60" stroke="#3a3a3a" stroke-width="0.45"/>
<line x1="49.60" y1="205.68" x2="49.41" y2="205.68" stroke="#3a3a3a" stroke-width="0.45"/>
<line x1="49.41" y1="203.60" x2="49.41" y2="205.68" stroke="#3a3a3a" stroke-width="0.45"/>
<line x1="49.60" y1="193.20" x2="48.98" y2="193.20" stroke="#3a3a3a" stroke-width="0.45"/>
<line x1="49.60" y1="195.28" x2="48.98" y2="195.28" stroke="#3a3a3a" stroke-width="0.45"/>
<line x1="48.98" y1="193.20" x2="48.98" y2="195.28" stroke="#3a3a3a" stroke-width="0.45"/>
<line x1="49.60" y1="197.36" x2="49.36" y2="197.36" stroke="#3a3a3a" stroke-width="0.45"/>
<line x1="49.60" y1="199.44" x2="49.36" y2="199.44" stroke="#3a3a3a" stroke-width="0.45"/>
<line x1="49.36" y1="197.36" x2="49.36" y2="199.44" stroke="#3a3a3a" stroke-width="0.45"/>
<line x1="49.36" y1="198.40" x2="48.51" y2="198.40" stroke="#3a3a3a" stroke-width="0.45"/>
<line x1="49.60" y1="201.52" x2="48.51" y2="201.52" stroke="#3a3a3a" stroke-width="0.45"/>
<line x1="48.51" y1="198.40" x2="48.51" y2="201.52" stroke="#3a3a3a" stroke-width="0.45"/>
<line x1="49.60" y1="214.00" x2="49.19" y2="214.00" stroke="#3a3a3a" stroke-width="0.45"/>
<line x1="49.60" y1="216.08" x2="49.19" y2="216.08" stroke="#3a3a3a" stroke-width="0.45"/>
<line x1="49.19" y1="214.00" x2="49.19" y2="216.08" stroke="#3a3a3a" stroke-width="0.45"/>
<line x1="48.82" y1="208.80" x2="48.00" y2="208.80" stroke="#3a3a3a" stroke-width="0.45"/>
<line x1="49.60" y1="211.92" x2="48.00" y2="211.92" stroke="#3a3a3a" stroke-width="0.45"/>
<line x1="48.00" y1="208.80" x2="48.00" y2="211.92" stroke="#3a3a3a" stroke-width="0.45"/>
<line x1="48.98" y1="194.24" x2="47.78" y2="194.24" stroke="#3a3a3a" stroke-width="0.45"/>
<line x1="48.51" y1="199.96" x2="47.78" y2="199.96" stroke="#3a3a3a" stroke-width="0.45"/>
<line x1="47.78" y1="194.24" x2="47.78" y2="199.96" stroke="#3a3a3a" stroke-width="0.45"/>
<line x1="49.60" y1="189.04" x2="49.01" y2="189.04" stroke="#3a3a3a" stroke-width="0.45"/>
<line x1="49.60" y1="191.12" x2="49.01" y2="191.12" stroke="#3a3a3a" stroke-width="0.45"/>
<line x1="49.01" y1="189.04" x2="49.01" y2="191.12" stroke="#3a3a3a" stroke-width="0.45"/>
<line x1="49.41" y1="204.64" x2="47.20" y2="204.64" stroke="#3a3a3a" stroke-width="0.45"/>
<line x1="48.00" y1="210.36" x2="47.20" y2="210.36" stroke="#3a3a3a" stroke-width="0.45"/>
<line x1="47.20" y1="204.64" x2="47.20" y2="210.36" stroke="#3a3a3a" stroke-width="0.45"/>
<line x1="49.01" y1="190.08" x2="47.31" y2="190.08" stroke="#3a3a3a" stroke-width="0.45"/>
<line x1="47.78" y1="197.10" x2="47.31" y2="197.10" stroke="#3a3a3a" stroke-width="0.45"/>
<line x1="47.31" y1="190.08" x2="47.31" y2="197.10" stroke="#3a3a3a" stroke-width="0.45"/>
<line x1="47.31" y1="193.59" x2="46.90" y2="193.59" stroke="#3a3a3a" stroke-width="0.45"/>
<line x1="47.20" y1="207.50" x2="46.90" y2="207.50" stroke="#3a3a3a" stroke-width="0.45"/>
<line x1="46.90" y1="193.59" x2="46.90" y2="207.50" stroke="#3a3a3a" stroke-width="0.45"/>
<line x1="49.19" y1="215.04" x2="48.35" y2="215.04" stroke="#3a3a3a" stroke-width="0.45"/>
<line x1="49.60" y1="218.16" x2="48.35" y2="218.16" stroke="#3a3a3a" stroke-width="0.45"/>
<line x1="48.35" y1="215.04" x2="48.35" y2="218.16" stroke="#3a3a3a" stroke-width="0.45"/>
<line x1="46.90" y1="200.54" x2="46.54" y2="200.54" stroke="#3a3a3a" stroke-width="0.45"/>
<line x1="48.35" y1="216.60" x2="46.54" y2="216.60" stroke="#3a3a3a" stroke-width="0.45"/>
<line x1="46.54" y1="200.54" x2="46.54" y2="216.60" stroke="#3a3a3a" stroke-width="0.45"/>
<line x1="46.54" y1="208.57" x2="42.4" y2="208.57" stroke="#3a3a3a" stroke-width="0.45"/>
<line x1="42.4" y1="208.57" x2="42.4" y2="212.00" stroke="#555" stroke-width="0.6"/>
<line x1="49.60" y1="236.88" x2="49.38" y2="236.88" stroke="#3a3a3a" stroke-width="0.45"/>
<line x1="49.60" y1="238.96" x2="49.38" y2="238.96" stroke="#3a3a3a" stroke-width="0.45"/>
<line x1="49.38" y1="236.88" x2="49.38" y2="238.96" stroke="#3a3a3a" stroke-width="0.45"/>
<line x1="49.60" y1="230.64" x2="49.22" y2="230.64" stroke="#3a3a3a" stroke-width="0.45"/>
<line x1="49.60" y1="232.72" x2="49.22" y2="232.72" stroke="#3a3a3a" stroke-width="0.45"/>
<line x1="49.22" y1="230.64" x2="49.22" y2="232.72" stroke="#3a3a3a" stroke-width="0.45"/>
<line x1="49.60" y1="234.80" x2="49.17" y2="234.80" stroke="#3a3a3a" stroke-width="0.45"/>
<line x1="49.38" y1="237.92" x2="49.17" y2="237.92" stroke="#3a3a3a" stroke-width="0.45"/>
<line x1="49.17" y1="234.80" x2="49.17" y2="237.92" stroke="#3a3a3a" stroke-width="0.45"/>
<line x1="49.60" y1="222.32" x2="48.91" y2="222.32" stroke="#3a3a3a" stroke-width="0.45"/>
<line x1="49.60" y1="224.40" x2="48.91" y2="224.40" stroke="#3a3a3a" stroke-width="0.45"/>
<line x1="48.91" y1="222.32" x2="48.91" y2="224.40" stroke="#3a3a3a" stroke-width="0.45"/>
<line x1="49.60" y1="226.48" x2="48.70" y2="226.48" stroke="#3a3a3a" stroke-width="0.45"/>
<line x1="49.60" y1="228.56" x2="48.70" y2="228.56" stroke="#3a3a3a" stroke-width="0.45"/>
<line x1="48.70" y1="226.48" x2="48.70" y2="228.56" stroke="#3a3a3a" stroke-width="0.45"/>
<line x1="48.91" y1="223.36" x2="48.01" y2="223.36" stroke="#3a3a3a" stroke-width="0.45"/>
<line x1="48.70" y1="227.52" x2="48.01" y2="227.52" stroke="#3a3a3a" stroke-width="0.45"/>
<line x1="48.01" y1="223.36" x2="48.01" y2="227.52" stroke="#3a3a3a" stroke-width="0.45"/>
<line x1="49.60" y1="220.24" x2="47.12" y2="220.24" stroke="#3a3a3a" stroke-width="0.45"/>
<line x1="48.01" y1="225.44" x2="47.12" y2="225.44" stroke="#3a3a3a" stroke-width="0.45"/>
<line x1="47.12" y1="220.24" x2="47.12" y2="225.44" stroke="#3a3a3a" stroke-width="0.45"/>
<line x1="49.22" y1="231.68" x2="49.00" y2="231.68" stroke="#3a3a3a" stroke-width="0.45"/>
<line x1="49.17" y1="236.36" x2="49.00" y2="236.36" stroke="#3a3a3a" stroke-width="0.45"/>
<line x1="49.00" y1="231.68" x2="49.00" y2="236.36" stroke="#3a3a3a" stroke-width="0.45"/>
<line x1="47.12" y1="222.84" x2="46.35" y2="222.84" stroke="#3a3a3a" stroke-width="0.45"/>
<line x1="49.00" y1="234.02" x2="46.35" y2="234.02" stroke="#3a3a3a" stroke-width="0.45"/>
<line x1="46.35" y1="222.84" x2="46.35" y2="234.02" stroke="#3a3a3a" stroke-width="0.45"/>
<line x1="46.35" y1="228.43" x2="43.0" y2="228.43" stroke="#3a3a3a" stroke-width="0.45"/>
<line x1="43.0" y1="220.00" x2="43.0" y2="228.43" stroke="#555" stroke-width="0.6"/>
<line x1="49.60" y1="255.60" x2="48.96" y2="255.60" stroke="#3a3a3a" stroke-width="0.45"/>
<line x1="49.60" y1="257.68" x2="48.96" y2="257.68" stroke="#3a3a3a" stroke-width="0.45"/>
<line x1="48.96" y1="255.60" x2="48.96" y2="257.68" stroke="#3a3a3a" stroke-width="0.45"/>
<line x1="49.60" y1="245.20" x2="49.41" y2="245.20" stroke="#3a3a3a" stroke-width="0.45"/>
<line x1="49.60" y1="247.28" x2="49.41" y2="247.28" stroke="#3a3a3a" stroke-width="0.45"/>
<line x1="49.41" y1="245.20" x2="49.41" y2="247.28" stroke="#3a3a3a" stroke-width="0.45"/>
<line x1="49.60" y1="266.00" x2="49.43" y2="266.00" stroke="#3a3a3a" stroke-width="0.45"/>
<line x1="49.60" y1="268.08" x2="49.43" y2="268.08" stroke="#3a3a3a" stroke-width="0.45"/>
<line x1="49.43" y1="266.00" x2="49.43" y2="268.08" stroke="#3a3a3a" stroke-width="0.45"/>
<line x1="49.60" y1="259.76" x2="49.20" y2="259.76" stroke="#3a3a3a" stroke-width="0.45"/>
<line x1="49.60" y1="261.84" x2="49.20" y2="261.84" stroke="#3a3a3a" stroke-width="0.45"/>
<line x1="49.20" y1="259.76" x2="49.20" y2="261.84" stroke="#3a3a3a" stroke-width="0.45"/>
<line x1="49.60" y1="249.36" x2="49.35" y2="249.36" stroke="#3a3a3a" stroke-width="0.45"/>
<line x1="49.60" y1="251.44" x2="49.35" y2="251.44" stroke="#3a3a3a" stroke-width="0.45"/>
<line x1="49.35" y1="249.36" x2="49.35" y2="251.44" stroke="#3a3a3a" stroke-width="0.45"/>
<line x1="49.41" y1="246.24" x2="48.73" y2="246.24" stroke="#3a3a3a" stroke-width="0.45"/>
<line x1="49.35" y1="250.40" x2="48.73" y2="250.40" stroke="#3a3a3a" stroke-width="0.45"/>
<line x1="48.73" y1="246.24" x2="48.73" y2="250.40" stroke="#3a3a3a" stroke-width="0.45"/>
<line x1="49.60" y1="263.92" x2="49.20" y2="263.92" stroke="#3a3a3a" stroke-width="0.45"/>
<line x1="49.43" y1="267.04" x2="49.20" y2="267.04" stroke="#3a3a3a" stroke-width="0.45"/>
<line x1="49.20" y1="263.92" x2="49.20" y2="267.04" stroke="#3a3a3a" stroke-width="0.45"/>
<line x1="49.60" y1="253.52" x2="48.53" y2="253.52" stroke="#3a3a3a" stroke-width="0.45"/>
<line x1="48.96" y1="256.64" x2="48.53" y2="256.64" stroke="#3a3a3a" stroke-width="0.45"/>
<line x1="48.53" y1="253.52" x2="48.53" y2="256.64" stroke="#3a3a3a" stroke-width="0.45"/>
<line x1="49.60" y1="241.04" x2="48.82" y2="241.04" stroke="#3a3a3a" stroke-width="0.45"/>
<line x1="49.60" y1="243.12" x2="48.82" y2="243.12" stroke="#3a3a3a" stroke-width="0.45"/>
<line x1="48.82" y1="241.04" x2="48.82" y2="243.12" stroke="#3a3a3a" stroke-width="0.45"/>
<line x1="48.53" y1="255.08" x2="48.28" y2="255.08" stroke="#3a3a3a" stroke-width="0.45"/>
<line x1="49.20" y1="260.80" x2="48.28" y2="260.80" stroke="#3a3a3a" stroke-width="0.45"/>
<line x1="48.28" y1="255.08" x2="48.28" y2="260.80" stroke="#3a3a3a" stroke-width="0.45"/>
<line x1="48.73" y1="248.32" x2="47.39" y2="248.32" stroke="#3a3a3a" stroke-width="0.45"/>
<line x1="48.28" y1="257.94" x2="47.39" y2="257.94" stroke="#3a3a3a" stroke-width="0.45"/>
<line x1="47.39" y1="248.32" x2="47.39" y2="257.94" stroke="#3a3a3a" stroke-width="0.45"/>
<line x1="47.39" y1="253.13" x2="46.52" y2="253.13" stroke="#3a3a3a" stroke-width="0.45"/>
<line x1="49.20" y1="265.48" x2="46.52" y2="265.48" stroke="#3a3a3a" stroke-width="0.45"/>
<line x1="46.52" y1="253.13" x2="46.52" y2="265.48" stroke="#3a3a3a" stroke-width="0.45"/>
<line x1="46.52" y1="259.31" x2="46.01" y2="259.31" stroke="#3a3a3a" stroke-width="0.45"/>
<line x1="49.60" y1="270.16" x2="46.01" y2="270.16" stroke="#3a3a3a" stroke-width="0.45"/>
<line x1="46.01" y1="259.31" x2="46.01" y2="270.16" stroke="#3a3a3a" stroke-width="0.45"/>
<line x1="48.82" y1="242.08" x2="45.51" y2="242.08" stroke="#3a3a3a" stroke-width="0.45"/>
<line x1="46.01" y1="264.73" x2="45.51" y2="264.73" stroke="#3a3a3a" stroke-width="0.45"/>
<line x1="45.51" y1="242.08" x2="45.51" y2="264.73" stroke="#3a3a3a" stroke-width="0.45"/>
<line x1="45.51" y1="253.41" x2="43.0" y2="253.41" stroke="#3a3a3a" stroke-width="0.45"/>
<line x1="43.0" y1="249.00" x2="43.0" y2="253.41" stroke="#555" stroke-width="0.6"/>
<defs><linearGradient id="ck" x1="0" x2="1" y1="0" y2="0"><stop offset="0" stop-color="#00009a"/><stop offset="0.36" stop-color="#0000c8"/><stop offset="0.42" stop-color="#3c8cff"/><stop offset="0.48" stop-color="#ffffff"/><stop offset="0.53" stop-color="#ffc040"/><stop offset="0.58" stop-color="#ff5000"/><stop offset="0.64" stop-color="#f00000"/><stop offset="0.85" stop-color="#d00000"/><stop offset="1" stop-color="#900000"/></linearGradient></defs>
<rect x="3.1" y="246.8" width="24.8" height="7.7" fill="url(#ck)" stroke="none" stroke-width="1" />
<text x="4.0" y="244.0" font-size="5.6" font-weight="bold" text-anchor="start" fill="#222" stroke="#222" stroke-width="0.22" textLength="23.2" lengthAdjust="spacingAndGlyphs">Color Key</text>
<line x1="5.5" y1="255.8" x2="5.5" y2="257.6" stroke="#333" stroke-width="0.7"/>
<line x1="10.3" y1="255.8" x2="10.3" y2="257.6" stroke="#333" stroke-width="0.7"/>
<line x1="15.4" y1="255.8" x2="15.4" y2="257.6" stroke="#333" stroke-width="0.7"/>
<line x1="20.4" y1="255.8" x2="20.4" y2="257.6" stroke="#333" stroke-width="0.7"/>
<line x1="25.0" y1="255.8" x2="25.0" y2="257.6" stroke="#333" stroke-width="0.7"/>
<text x="5.5" y="264.1" font-size="4.7" font-weight="normal" text-anchor="middle" fill="#222" stroke="#222" stroke-width="0.12" >-2</text>
<text x="15.4" y="264.1" font-size="4.7" font-weight="normal" text-anchor="middle" fill="#222" stroke="#222" stroke-width="0.12" >0</text>
<text x="24.8" y="264.1" font-size="4.7" font-weight="normal" text-anchor="middle" fill="#222" stroke="#222" stroke-width="0.12" >2</text>
<text x="15.2" y="269.0" font-size="5.9" font-weight="normal" text-anchor="middle" fill="#111" stroke="#111" stroke-width="0.12" >Value</text>
<text x="280.4" y="10.9" font-size="15.0" font-weight="bold" text-anchor="start" fill="#000" stroke="#000" stroke-width="0.22" >C</text>
<text x="280.8" y="138.2" font-size="15.0" font-weight="bold" text-anchor="start" fill="#000" stroke="#000" stroke-width="0.22" >D</text>
<text x="0" y="0" font-size="8" font-weight="bold" text-anchor="middle" fill="#000" stroke="#000" stroke-width="0.22" transform="translate(297.3,63.8) rotate(-90)">% Responding - PBMC</text>
<text font-size="8" font-weight="bold" text-anchor="middle" stroke="#000" stroke-width="0.22" transform="translate(305.2,63.8) rotate(-90)">(CD4<tspan font-size="5" dy="-3">+</tspan><tspan dy="3"> memory subset)</tspan></text>
<rect x="322.3" y="10.2" width="35.099999999999966" height="106.3" fill="none" stroke="#505050" stroke-width="1.0"/>
<line x1="320.7" y1="116.5" x2="322.3" y2="116.5" stroke="#505050" stroke-width="1.0"/>
<text x="321.35" y="119.45" font-size="8.2" font-weight="bold" text-anchor="end" fill="#000" stroke="#000" stroke-width="0.22" >0.0</text>
<line x1="320.7" y1="89.95" x2="322.3" y2="89.95" stroke="#505050" stroke-width="1.0"/>
<text x="321.35" y="92.9" font-size="8.2" font-weight="bold" text-anchor="end" fill="#000" stroke="#000" stroke-width="0.22" >1.0</text>
<line x1="320.7" y1="63.4" x2="322.3" y2="63.4" stroke="#505050" stroke-width="1.0"/>
<text x="321.35" y="66.35" font-size="8.2" font-weight="bold" text-anchor="end" fill="#000" stroke="#000" stroke-width="0.22" >2.0</text>
<line x1="320.7" y1="36.85" x2="322.3" y2="36.85" stroke="#505050" stroke-width="1.0"/>
<text x="321.35" y="39.800000000000004" font-size="8.2" font-weight="bold" text-anchor="end" fill="#000" stroke="#000" stroke-width="0.22" >3.0</text>
<line x1="320.7" y1="10.3" x2="322.3" y2="10.3" stroke="#505050" stroke-width="1.0"/>
<text x="321.35" y="13.25" font-size="8.2" font-weight="bold" text-anchor="end" fill="#000" stroke="#000" stroke-width="0.22" >4.0</text>
<text x="323.7" y="16.7" font-size="6.2" font-weight="bold" text-anchor="start" fill="#000" stroke="#000" stroke-width="0.22" >CD4+</text>
<text x="323.7" y="22.8" font-size="6.2" font-weight="bold" text-anchor="start" fill="#000" stroke="#000" stroke-width="0.22" >PBMC</text>
<polyline points="331.0,87.0 331.0,30.6 348.6,30.6 348.6,34.6" fill="none" stroke="#777" stroke-width="0.7"/>
<text x="0" y="0" font-size="5.8" font-weight="bold" text-anchor="middle" fill="#ff1010" stroke="#ff1010" stroke-width="0.22" transform="translate(339.80,29.00) scale(0.93,1)">P=0.020</text>
<line x1="331.45000000000005" y1="90.5" x2="331.45000000000005" y2="92.5" stroke="#a0a0a0" stroke-width="0.8"/>
<line x1="331.45000000000005" y1="97.5" x2="331.45000000000005" y2="99.0" stroke="#a0a0a0" stroke-width="0.8"/>
<rect x="327.3" y="92.5" width="8.300000000000011" height="5.0" fill="#e3e3e3" stroke="#9a9a9a" stroke-width="0.8"/>
<line x1="327.3" y1="95.0" x2="335.6" y2="95.0" stroke="#9a9a9a" stroke-width="0.7"/>
<circle cx="335.1" cy="90.5" r="2.1" fill="#fff" stroke="#555" stroke-width="0.7"/>
<circle cx="327.2" cy="93.2" r="2.1" fill="#fff" stroke="#555" stroke-width="0.7"/>
<circle cx="331.0" cy="94.2" r="2.1" fill="#fff" stroke="#555" stroke-width="0.7"/>
<circle cx="335.3" cy="95.8" r="2.1" fill="#fff" stroke="#555" stroke-width="0.7"/>
<circle cx="327.2" cy="99.0" r="2.1" fill="#fff" stroke="#555" stroke-width="0.7"/>
<line x1="348.5" y1="37.2" x2="348.5" y2="59.4" stroke="#9c78da" stroke-width="0.8"/>
<line x1="348.5" y1="81.8" x2="348.5" y2="92.1" stroke="#9c78da" stroke-width="0.8"/>
<rect x="342.3" y="59.4" width="12.399999999999977" height="22.4" fill="#ebdefa" stroke="#b18ce6" stroke-width="0.8"/>
<line x1="342.3" y1="75.2" x2="354.7" y2="75.2" stroke="#b18ce6" stroke-width="0.7"/>
<circle cx="348.6" cy="37.2" r="2.1" fill="#5a1fc2"/>
<circle cx="348.6" cy="66.4" r="2.1" fill="#5a1fc2"/>
<circle cx="344.9" cy="76.0" r="2.1" fill="#5a1fc2"/>
<circle cx="352.2" cy="73.6" r="2.1" fill="#5a1fc2"/>
<circle cx="352.2" cy="78.4" r="2.1" fill="#5a1fc2"/>
<circle cx="348.6" cy="92.1" r="2.1" fill="#5a1fc2"/>
<line x1="339.85" y1="116.5" x2="339.85" y2="118.2" stroke="#505050" stroke-width="0.8"/>
<text x="339.7" y="125.8" font-size="7.2" font-weight="bold" text-anchor="middle" fill="#000" stroke="#000" stroke-width="0.22" >Total</text>
<rect x="377.0" y="10.45" width="106.39999999999998" height="105.64999999999999" fill="none" stroke="#505050" stroke-width="1.0"/>
<line x1="375.4" y1="116.6" x2="377.0" y2="116.6" stroke="#505050" stroke-width="1.0"/>
<text x="374.45" y="119.55" font-size="8.2" font-weight="bold" text-anchor="end" fill="#000" stroke="#000" stroke-width="0.22" >0.0</text>
<line x1="375.4" y1="95.6" x2="377.0" y2="95.6" stroke="#505050" stroke-width="1.0"/>
<text x="374.45" y="98.55" font-size="8.2" font-weight="bold" text-anchor="end" fill="#000" stroke="#000" stroke-width="0.22" >0.5</text>
<line x1="375.4" y1="74.6" x2="377.0" y2="74.6" stroke="#505050" stroke-width="1.0"/>
<text x="374.45" y="77.55" font-size="8.2" font-weight="bold" text-anchor="end" fill="#000" stroke="#000" stroke-width="0.22" >1.0</text>
<line x1="375.4" y1="53.4" x2="377.0" y2="53.4" stroke="#505050" stroke-width="1.0"/>
<text x="374.45" y="56.35" font-size="8.2" font-weight="bold" text-anchor="end" fill="#000" stroke="#000" stroke-width="0.22" >1.5</text>
<line x1="375.4" y1="32.2" x2="377.0" y2="32.2" stroke="#505050" stroke-width="1.0"/>
<text x="374.45" y="35.150000000000006" font-size="8.2" font-weight="bold" text-anchor="end" fill="#000" stroke="#000" stroke-width="0.22" >2.0</text>
<line x1="375.4" y1="11.1" x2="377.0" y2="11.1" stroke="#505050" stroke-width="1.0"/>
<text x="374.45" y="14.05" font-size="8.2" font-weight="bold" text-anchor="end" fill="#000" stroke="#000" stroke-width="0.22" >2.5</text>
<text x="378.9" y="17.0" font-size="6.2" font-weight="bold" text-anchor="start" fill="#000" stroke="#000" stroke-width="0.22" >CD4+</text>
<text x="378.9" y="22.9" font-size="6.2" font-weight="bold" text-anchor="start" fill="#000" stroke="#000" stroke-width="0.22" >PBMC</text>
<polyline points="385.9,103.0 385.9,29.2 403.5,29.2 403.5,34.6" fill="none" stroke="#777" stroke-width="0.7"/>
<text x="0" y="0" font-size="5.8" font-weight="bold" text-anchor="middle" fill="#ff1010" stroke="#ff1010" stroke-width="0.22" transform="translate(394.70,29.10) scale(0.93,1)">P=0.001</text>
<line x1="387.0" y1="104.0" x2="387.0" y2="105.0" stroke="#a0a0a0" stroke-width="0.8"/>
<line x1="387.0" y1="109.5" x2="387.0" y2="110.5" stroke="#a0a0a0" stroke-width="0.8"/>
<rect x="383.2" y="105.0" width="7.600000000000023" height="4.5" fill="#e3e3e3" stroke="#9a9a9a" stroke-width="0.8"/>
<line x1="383.2" y1="107.0" x2="390.8" y2="107.0" stroke="#9a9a9a" stroke-width="0.7"/>
<circle cx="385.9" cy="104.3" r="2.1" fill="#fff" stroke="#555" stroke-width="0.7"/>
<circle cx="383.6" cy="107.4" r="2.1" fill="#fff" stroke="#555" stroke-width="0.7"/>
<circle cx="388.6" cy="107.6" r="2.1" fill="#fff" stroke="#555" stroke-width="0.7"/>
<circle cx="386.0" cy="109.8" r="2.1" fill="#fff" stroke="#555" stroke-width="0.7"/>
<circle cx="389.8" cy="109.5" r="2.1" fill="#fff" stroke="#555" stroke-width="0.7"/>
<line x1="403.55" y1="36.9" x2="403.55" y2="70.0" stroke="#9c78da" stroke-width="0.8"/>
<line x1="403.55" y1="101.7" x2="403.55" y2="106.4" stroke="#9c78da" stroke-width="0.8"/>
<rect x="397.6" y="70.0" width="11.899999999999977" height="31.700000000000003" fill="#ebdefa" stroke="#b18ce6" stroke-width="0.8"/>
<circle cx="403.5" cy="36.9" r="2.1" fill="#5a1fc2"/>
<circle cx="403.6" cy="81.0" r="2.1" fill="#5a1fc2"/>
<circle cx="399.5" cy="97.6" r="2.1" fill="#5a1fc2"/>
<circle cx="403.6" cy="98.8" r="2.1" fill="#5a1fc2"/>
<circle cx="407.6" cy="97.6" r="2.1" fill="#5a1fc2"/>
<circle cx="403.6" cy="106.4" r="2.1" fill="#5a1fc2"/>
<polyline points="421.4,95.3 421.4,83.8 438.6,83.8 438.6,88.6" fill="none" stroke="#777" stroke-width="0.7"/>
<text x="0" y="0" font-size="5.8" font-weight="bold" text-anchor="middle" fill="#ff1010" stroke="#ff1010" stroke-width="0.22" transform="translate(430.00,82.50) scale(0.93,1)">P=0.699</text>
<line x1="421.15" y1="97.4" x2="421.15" y2="100.5" stroke="#a0a0a0" stroke-width="0.8"/>
<line x1="421.15" y1="106.4" x2="421.15" y2="110.0" stroke="#a0a0a0" stroke-width="0.8"/>
<rect x="415.2" y="100.5" width="11.900000000000034" height="5.900000000000006" fill="#e3e3e3" stroke="#9a9a9a" stroke-width="0.8"/>
<line x1="415.2" y1="103.5" x2="427.1" y2="103.5" stroke="#9a9a9a" stroke-width="0.7"/>
<circle cx="421.4" cy="97.4" r="2.1" fill="#fff" stroke="#555" stroke-width="0.7"/>
<circle cx="416.6" cy="103.0" r="2.1" fill="#fff" stroke="#555" stroke-width="0.7"/>
<circle cx="425.8" cy="103.0" r="2.1" fill="#fff" stroke="#555" stroke-width="0.7"/>
<circle cx="421.2" cy="104.2" r="2.1" fill="#fff" stroke="#555" stroke-width="0.7"/>
<circle cx="421.4" cy="110.0" r="2.1" fill="#fff" stroke="#555" stroke-width="0.7"/>
<line x1="438.55" y1="91.0" x2="438.55" y2="90.5" stroke="#9c78da" stroke-width="0.8"/>
<line x1="438.55" y1="101.7" x2="438.55" y2="103.6" stroke="#9c78da" stroke-width="0.8"/>
<rect x="433.1" y="90.5" width="10.899999999999977" height="11.200000000000003" fill="#ebdefa" stroke="#b18ce6" stroke-width="0.8"/>
<circle cx="434.5" cy="91.5" r="2.1" fill="#5a1fc2"/>
<circle cx="442.6" cy="91.5" r="2.1" fill="#5a1fc2"/>
<circle cx="438.6" cy="95.5" r="2.1" fill="#5a1fc2"/>
<circle cx="434.5" cy="101.0" r="2.1" fill="#5a1fc2"/>
<circle cx="438.5" cy="103.6" r="2.1" fill="#5a1fc2"/>
<circle cx="442.6" cy="99.0" r="2.1" fill="#5a1fc2"/>
<polyline points="456.4,93.0 456.4,76.2 473.8,76.2 473.8,82.6" fill="none" stroke="#777" stroke-width="0.7"/>
<text x="0" y="0" font-size="5.8" font-weight="bold" text-anchor="middle" fill="#ff1010" stroke="#ff1010" stroke-width="0.22" transform="translate(465.10,74.70) scale(0.93,1)">P=0.447</text>
<line x1="456.45" y1="95.5" x2="456.45" y2="98.0" stroke="#a0a0a0" stroke-width="0.8"/>
<line x1="456.45" y1="110.5" x2="456.45" y2="110.5" stroke="#a0a0a0" stroke-width="0.8"/>
<rect x="450.5" y="98.0" width="11.899999999999977" height="12.5" fill="#e3e3e3" stroke="#9a9a9a" stroke-width="0.8"/>
<line x1="450.5" y1="103.0" x2="462.4" y2="103.0" stroke="#9a9a9a" stroke-width="0.7"/>
<circle cx="456.4" cy="95.5" r="2.1" fill="#fff" stroke="#555" stroke-width="0.7"/>
<circle cx="452.2" cy="106.0" r="2.1" fill="#fff" stroke="#555" stroke-width="0.7"/>
<circle cx="460.2" cy="103.0" r="2.1" fill="#fff" stroke="#555" stroke-width="0.7"/>
<circle cx="452.2" cy="110.0" r="2.1" fill="#fff" stroke="#555" stroke-width="0.7"/>
<circle cx="460.2" cy="110.0" r="2.1" fill="#fff" stroke="#555" stroke-width="0.7"/>
<line x1="473.65" y1="85.0" x2="473.65" y2="87.4" stroke="#9c78da" stroke-width="0.8"/>
<line x1="473.65" y1="98.1" x2="473.65" y2="104.0" stroke="#9c78da" stroke-width="0.8"/>
<rect x="468.3" y="87.4" width="10.699999999999989" height="10.699999999999989" fill="#ebdefa" stroke="#b18ce6" stroke-width="0.8"/>
<line x1="468.3" y1="92.0" x2="479.0" y2="92.0" stroke="#b18ce6" stroke-width="0.7"/>
<circle cx="473.8" cy="85.0" r="2.1" fill="#5a1fc2"/>
<circle cx="469.3" cy="92.8" r="2.1" fill="#5a1fc2"/>
<circle cx="477.7" cy="92.0" r="2.1" fill="#5a1fc2"/>
<circle cx="473.8" cy="96.0" r="2.1" fill="#5a1fc2"/>
<circle cx="469.3" cy="99.0" r="2.1" fill="#5a1fc2"/>
<circle cx="477.7" cy="100.0" r="2.1" fill="#5a1fc2"/>
<circle cx="473.8" cy="104.0" r="2.1" fill="#5a1fc2"/>
<line x1="395.2" y1="116.3" x2="395.2" y2="118.0" stroke="#505050" stroke-width="0.8"/>
<text x="395.2" y="125.9" font-size="6.3" font-weight="bold" text-anchor="middle" fill="#000" stroke="#000" stroke-width="0.22" >M1</text>
<line x1="430.2" y1="116.3" x2="430.2" y2="118.0" stroke="#505050" stroke-width="0.8"/>
<text x="430.2" y="125.9" font-size="6.3" font-weight="bold" text-anchor="middle" fill="#000" stroke="#000" stroke-width="0.22" >NP</text>
<line x1="464.8" y1="116.3" x2="464.8" y2="118.0" stroke="#505050" stroke-width="0.8"/>
<text x="464.8" y="125.9" font-size="6.3" font-weight="bold" text-anchor="middle" fill="#000" stroke="#000" stroke-width="0.22" >PB1</text>
<text x="0" y="0" font-size="8" font-weight="bold" text-anchor="middle" fill="#000" stroke="#000" stroke-width="0.22" transform="translate(503.3,63.8) rotate(-90)">% Responding - PBMC</text>
<text font-size="8" font-weight="bold" text-anchor="middle" stroke="#000" stroke-width="0.22" transform="translate(511.2,63.8) rotate(-90)">(CD8<tspan font-size="5" dy="-3">+</tspan><tspan dy="3"> memory subset)</tspan></text>
<rect x="525.9" y="10.6" width="35.10000000000002" height="105.9" fill="none" stroke="#505050" stroke-width="1.0"/>
<line x1="524.3" y1="116.6" x2="525.9" y2="116.6" stroke="#505050" stroke-width="1.0"/>
<text x="523.75" y="119.55" font-size="8.2" font-weight="bold" text-anchor="end" fill="#000" stroke="#000" stroke-width="0.22" >0</text>
<line x1="524.3" y1="81.2" x2="525.9" y2="81.2" stroke="#505050" stroke-width="1.0"/>
<text x="523.75" y="84.15" font-size="8.2" font-weight="bold" text-anchor="end" fill="#000" stroke="#000" stroke-width="0.22" >5</text>
<line x1="524.3" y1="45.8" x2="525.9" y2="45.8" stroke="#505050" stroke-width="1.0"/>
<text x="523.75" y="48.75" font-size="8.2" font-weight="bold" text-anchor="end" fill="#000" stroke="#000" stroke-width="0.22" >10</text>
<line x1="524.3" y1="11.0" x2="525.9" y2="11.0" stroke="#505050" stroke-width="1.0"/>
<text x="523.75" y="13.95" font-size="8.2" font-weight="bold" text-anchor="end" fill="#000" stroke="#000" stroke-width="0.22" >15</text>
<text x="527.4" y="16.8" font-size="6.2" font-weight="bold" text-anchor="start" fill="#000" stroke="#000" stroke-width="0.22" >CD8+</text>
<text x="527.4" y="22.9" font-size="6.2" font-weight="bold" text-anchor="start" fill="#000" stroke="#000" stroke-width="0.22" >PBMC</text>
<polyline points="534.3,40.4 534.3,35.6 552.4,35.6 552.4,72.0" fill="none" stroke="#777" stroke-width="0.7"/>
<text x="0" y="0" font-size="5.8" font-weight="bold" text-anchor="middle" fill="#ff1010" stroke="#ff1010" stroke-width="0.22" transform="translate(543.35,33.90) scale(0.93,1)">P=0.929</text>
<line x1="534.9000000000001" y1="42.8" x2="534.9000000000001" y2="70.5" stroke="#a0a0a0" stroke-width="0.8"/>
<line x1="534.9000000000001" y1="106.7" x2="534.9000000000001" y2="108.6" stroke="#a0a0a0" stroke-width="0.8"/>
<rect x="529.2" y="70.5" width="11.399999999999977" height="36.2" fill="#e3e3e3" stroke="#9a9a9a" stroke-width="0.8"/>
<line x1="529.2" y1="99.5" x2="540.6" y2="99.5" stroke="#9a9a9a" stroke-width="0.7"/>
<circle cx="534.6" cy="42.8" r="2.1" fill="#fff" stroke="#555" stroke-width="0.7"/>
<circle cx="532.0" cy="98.1" r="2.1" fill="#fff" stroke="#555" stroke-width="0.7"/>
<circle cx="537.4" cy="97.1" r="2.1" fill="#fff" stroke="#555" stroke-width="0.7"/>
<circle cx="537.4" cy="104.8" r="2.1" fill="#fff" stroke="#555" stroke-width="0.7"/>
<circle cx="532.0" cy="108.6" r="2.1" fill="#fff" stroke="#555" stroke-width="0.7"/>
<line x1="552.05" y1="74.3" x2="552.05" y2="79.0" stroke="#9c78da" stroke-width="0.8"/>
<line x1="552.05" y1="102.9" x2="552.05" y2="107.6" stroke="#9c78da" stroke-width="0.8"/>
<rect x="546.3" y="79.0" width="11.5" height="23.900000000000006" fill="#ebdefa" stroke="#b18ce6" stroke-width="0.8"/>
<circle cx="552.6" cy="74.3" r="2.1" fill="#5a1fc2"/>
<circle cx="552.6" cy="79.6" r="2.1" fill="#5a1fc2"/>
<circle cx="549.8" cy="85.7" r="2.1" fill="#5a1fc2"/>
<circle cx="554.9" cy="84.8" r="2.1" fill="#5a1fc2"/>
<circle cx="552.6" cy="101.0" r="2.1" fill="#5a1fc2"/>
<circle cx="552.6" cy="107.6" r="2.1" fill="#5a1fc2"/>
<line x1="543.4" y1="116.5" x2="543.4" y2="118.2" stroke="#505050" stroke-width="0.8"/>
<text x="543.3" y="125.8" font-size="7.2" font-weight="bold" text-anchor="middle" fill="#000" stroke="#000" stroke-width="0.22" >Total</text>
<rect x="577.8" y="10.3" width="105.80000000000007" height="105.7" fill="none" stroke="#505050" stroke-width="1.0"/>
<line x1="576.1999999999999" y1="116.0" x2="577.8" y2="116.0" stroke="#505050" stroke-width="1.0"/>
<text x="576.95" y="118.95" font-size="8.2" font-weight="bold" text-anchor="end" fill="#000" stroke="#000" stroke-width="0.22" >0.0</text>
<line x1="576.1999999999999" y1="95.1" x2="577.8" y2="95.1" stroke="#505050" stroke-width="1.0"/>
<text x="576.95" y="98.05" font-size="8.2" font-weight="bold" text-anchor="end" fill="#000" stroke="#000" stroke-width="0.22" >1.0</text>
<line x1="576.1999999999999" y1="74.2" x2="577.8" y2="74.2" stroke="#505050" stroke-width="1.0"/>
<text x="576.95" y="77.15" font-size="8.2" font-weight="bold" text-anchor="end" fill="#000" stroke="#000" stroke-width="0.22" >2.0</text>
<line x1="576.1999999999999" y1="53.2" x2="577.8" y2="53.2" stroke="#505050" stroke-width="1.0"/>
<text x="576.95" y="56.150000000000006" font-size="8.2" font-weight="bold" text-anchor="end" fill="#000" stroke="#000" stroke-width="0.22" >3.0</text>
<line x1="576.1999999999999" y1="32.1" x2="577.8" y2="32.1" stroke="#505050" stroke-width="1.0"/>
<text x="576.95" y="35.050000000000004" font-size="8.2" font-weight="bold" text-anchor="end" fill="#000" stroke="#000" stroke-width="0.22" >4.0</text>
<line x1="576.1999999999999" y1="11.7" x2="577.8" y2="11.7" stroke="#505050" stroke-width="1.0"/>
<text x="576.95" y="14.649999999999999" font-size="8.2" font-weight="bold" text-anchor="end" fill="#000" stroke="#000" stroke-width="0.22" >5.0</text>
<text x="579.3" y="16.5" font-size="6.2" font-weight="bold" text-anchor="start" fill="#000" stroke="#000" stroke-width="0.22" >CD8+</text>
<text x="579.3" y="22.5" font-size="6.2" font-weight="bold" text-anchor="start" fill="#000" stroke="#000" stroke-width="0.22" >PBMC</text>
<polyline points="587.5,43.5 587.5,35.2 605.0,35.2 605.0,77.0" fill="none" stroke="#777" stroke-width="0.7"/>
<text x="0" y="0" font-size="5.8" font-weight="bold" text-anchor="middle" fill="#ff1010" stroke="#ff1010" stroke-width="0.22" transform="translate(596.25,33.60) scale(0.93,1)">P=1.000</text>
<line x1="587.0" y1="45.7" x2="587.0" y2="73.7" stroke="#a0a0a0" stroke-width="0.8"/>
<line x1="587.0" y1="112.0" x2="587.0" y2="112.0" stroke="#a0a0a0" stroke-width="0.8"/>
<rect x="581.2" y="73.7" width="11.599999999999909" height="38.3" fill="#e3e3e3" stroke="#9a9a9a" stroke-width="0.8"/>
<line x1="581.2" y1="101.0" x2="592.8" y2="101.0" stroke="#9a9a9a" stroke-width="0.7"/>
<circle cx="587.5" cy="45.7" r="2.1" fill="#fff" stroke="#555" stroke-width="0.7"/>
<circle cx="582.8" cy="101.0" r="2.1" fill="#fff" stroke="#555" stroke-width="0.7"/>
<circle cx="591.2" cy="100.5" r="2.1" fill="#fff" stroke="#555" stroke-width="0.7"/>
<circle cx="582.8" cy="111.0" r="2.1" fill="#fff" stroke="#555" stroke-width="0.7"/>
<circle cx="591.2" cy="111.0" r="2.1" fill="#fff" stroke="#555" stroke-width="0.7"/>
<line x1="604.75" y1="79.1" x2="604.75" y2="82.0" stroke="#9c78da" stroke-width="0.8"/>
<line x1="604.75" y1="102.5" x2="604.75" y2="110.2" stroke="#9c78da" stroke-width="0.8"/>
<rect x="599.1" y="82.0" width="11.299999999999955" height="20.5" fill="#ebdefa" stroke="#b18ce6" stroke-width="0.8"/>
<line x1="599.1" y1="89.4" x2="610.4" y2="89.4" stroke="#b18ce6" stroke-width="0.7"/>
<circle cx="604.5" cy="79.1" r="2.1" fill="#5a1fc2"/>
<circle cx="600.6" cy="83.5" r="2.1" fill="#5a1fc2"/>
<circle cx="608.9" cy="85.5" r="2.1" fill="#5a1fc2"/>
<circle cx="604.5" cy="92.9" r="2.1" fill="#5a1fc2"/>
<circle cx="604.5" cy="100.2" r="2.1" fill="#5a1fc2"/>
<circle cx="604.5" cy="110.2" r="2.1" fill="#5a1fc2"/>
<polyline points="622.6,46.5 622.6,35.2 640.2,35.2 640.2,61.5" fill="none" stroke="#777" stroke-width="0.7"/>
<text x="0" y="0" font-size="5.8" font-weight="bold" text-anchor="middle" fill="#ff1010" stroke="#ff1010" stroke-width="0.22" transform="translate(631.40,33.60) scale(0.93,1)">P=1.000</text>
<line x1="622.5" y1="48.8" x2="622.5" y2="73.0" stroke="#a0a0a0" stroke-width="0.8"/>
<line x1="622.5" y1="112.9" x2="622.5" y2="112.9" stroke="#a0a0a0" stroke-width="0.8"/>
<rect x="616.4" y="73.0" width="12.200000000000045" height="39.900000000000006" fill="#e3e3e3" stroke="#9a9a9a" stroke-width="0.8"/>
<line x1="616.4" y1="100.5" x2="628.6" y2="100.5" stroke="#9a9a9a" stroke-width="0.7"/>
<circle cx="622.6" cy="48.8" r="2.1" fill="#fff" stroke="#555" stroke-width="0.7"/>
<circle cx="622.7" cy="96.4" r="2.1" fill="#fff" stroke="#555" stroke-width="0.7"/>
<circle cx="622.7" cy="100.5" r="2.1" fill="#fff" stroke="#555" stroke-width="0.7"/>
<circle cx="618.0" cy="111.0" r="2.1" fill="#fff" stroke="#555" stroke-width="0.7"/>
<circle cx="626.4" cy="109.8" r="2.1" fill="#fff" stroke="#555" stroke-width="0.7"/>
<line x1="639.9000000000001" y1="63.8" x2="639.9000000000001" y2="77.0" stroke="#9c78da" stroke-width="0.8"/>
<line x1="639.9000000000001" y1="102.9" x2="639.9000000000001" y2="106.6" stroke="#9c78da" stroke-width="0.8"/>
<rect x="634.2" y="77.0" width="11.399999999999977" height="25.900000000000006" fill="#ebdefa" stroke="#b18ce6" stroke-width="0.8"/>
<line x1="634.2" y1="84.7" x2="645.6" y2="84.7" stroke="#b18ce6" stroke-width="0.7"/>
<circle cx="640.1" cy="63.8" r="2.1" fill="#5a1fc2"/>
<circle cx="636.1" cy="81.8" r="2.1" fill="#5a1fc2"/>
<circle cx="644.0" cy="83.1" r="2.1" fill="#5a1fc2"/>
<circle cx="636.1" cy="86.9" r="2.1" fill="#5a1fc2"/>
<circle cx="644.0" cy="103.4" r="2.1" fill="#5a1fc2"/>
<circle cx="636.1" cy="106.6" r="2.1" fill="#5a1fc2"/>
<polyline points="657.7,31.6 657.7,27.3 675.5,27.3 675.5,60.0" fill="none" stroke="#777" stroke-width="0.7"/>
<text x="0" y="0" font-size="5.8" font-weight="bold" text-anchor="middle" fill="#ff1010" stroke="#ff1010" stroke-width="0.22" transform="translate(666.60,25.50) scale(0.93,1)">P=0.997</text>
<line x1="657.9000000000001" y1="33.6" x2="657.9000000000001" y2="63.1" stroke="#a0a0a0" stroke-width="0.8"/>
<line x1="657.9000000000001" y1="100.0" x2="657.9000000000001" y2="105.1" stroke="#a0a0a0" stroke-width="0.8"/>
<rect x="652.2" y="63.1" width="11.399999999999977" height="36.9" fill="#e3e3e3" stroke="#9a9a9a" stroke-width="0.8"/>
<line x1="652.2" y1="94.6" x2="663.6" y2="94.6" stroke="#9a9a9a" stroke-width="0.7"/>
<circle cx="657.8" cy="33.6" r="2.1" fill="#fff" stroke="#555" stroke-width="0.7"/>
<circle cx="653.9" cy="94.6" r="2.1" fill="#fff" stroke="#555" stroke-width="0.7"/>
<circle cx="661.4" cy="91.3" r="2.1" fill="#fff" stroke="#555" stroke-width="0.7"/>
<circle cx="661.4" cy="96.3" r="2.1" fill="#fff" stroke="#555" stroke-width="0.7"/>
<circle cx="657.7" cy="105.1" r="2.1" fill="#fff" stroke="#555" stroke-width="0.7"/>
<line x1="675.05" y1="62.3" x2="675.05" y2="78.4" stroke="#9c78da" stroke-width="0.8"/>
<line x1="675.05" y1="102.1" x2="675.05" y2="107.4" stroke="#9c78da" stroke-width="0.8"/>
<rect x="669.3" y="78.4" width="11.5" height="23.69999999999999" fill="#ebdefa" stroke="#b18ce6" stroke-width="0.8"/>
<line x1="669.3" y1="87.2" x2="680.8" y2="87.2" stroke="#b18ce6" stroke-width="0.7"/>
<circle cx="675.3" cy="62.3" r="2.1" fill="#5a1fc2"/>
<circle cx="671.3" cy="83.7" r="2.1" fill="#5a1fc2"/>
<circle cx="671.3" cy="88.6" r="2.1" fill="#5a1fc2"/>
<circle cx="679.2" cy="86.3" r="2.1" fill="#5a1fc2"/>
<circle cx="675.3" cy="100.5" r="2.1" fill="#5a1fc2"/>
<circle cx="675.3" cy="107.4" r="2.1" fill="#5a1fc2"/>
<line x1="595.2" y1="116.0" x2="595.2" y2="117.7" stroke="#505050" stroke-width="0.8"/>
<text x="595.2" y="125.9" font-size="6.3" font-weight="bold" text-anchor="middle" fill="#000" stroke="#000" stroke-width="0.22" >M1</text>
<line x1="631.7" y1="116.0" x2="631.7" y2="117.7" stroke="#505050" stroke-width="0.8"/>
<text x="631.7" y="125.9" font-size="6.3" font-weight="bold" text-anchor="middle" fill="#000" stroke="#000" stroke-width="0.22" >NP</text>
<line x1="667.5" y1="116.0" x2="667.5" y2="117.7" stroke="#505050" stroke-width="0.8"/>
<text x="667.5" y="125.9" font-size="6.3" font-weight="bold" text-anchor="middle" fill="#000" stroke="#000" stroke-width="0.22" >PB1</text>
<rect x="452.5" y="130.5" width="7.8" height="6.0" fill="#e3e3e3" stroke="#8a8a8a" stroke-width="0.8" />
<text x="465.4" y="136.4" font-size="6.4" font-weight="bold" text-anchor="start" fill="#555" stroke="#555" stroke-width="0.22" >Terminal</text>
<rect x="506.7" y="130.5" width="8.0" height="6.0" fill="#dcc6f6" stroke="#9a6ce0" stroke-width="0.8" />
<text x="519.7" y="136.4" font-size="6.4" font-weight="bold" text-anchor="start" fill="#6a1fd0" stroke="#6a1fd0" stroke-width="0.22" >Survived</text>
<text x="0" y="0" font-size="8" font-weight="bold" text-anchor="middle" fill="#000" stroke="#000" stroke-width="0.22" transform="translate(301.7,196.6) rotate(-90)">% Responding - BAL</text>
<text font-size="8" font-weight="bold" text-anchor="middle" stroke="#000" stroke-width="0.22" transform="translate(309.8,196.6) rotate(-90)">(CD4<tspan font-size="5" dy="-3">+</tspan><tspan dy="3"> memory subset)</tspan></text>
<rect x="322.1" y="143.6" width="35.299999999999955" height="105.70000000000002" fill="none" stroke="#505050" stroke-width="1.0"/>
<line x1="320.5" y1="249.9" x2="322.1" y2="249.9" stroke="#505050" stroke-width="1.0"/>
<text x="320.45" y="252.85" font-size="8.2" font-weight="bold" text-anchor="end" fill="#000" stroke="#000" stroke-width="0.22" >0</text>
<line x1="320.5" y1="214.2" x2="322.1" y2="214.2" stroke="#505050" stroke-width="1.0"/>
<text x="320.45" y="217.14999999999998" font-size="8.2" font-weight="bold" text-anchor="end" fill="#000" stroke="#000" stroke-width="0.22" >5</text>
<line x1="320.5" y1="179.0" x2="322.1" y2="179.0" stroke="#505050" stroke-width="1.0"/>
<text x="320.45" y="181.95" font-size="8.2" font-weight="bold" text-anchor="end" fill="#000" stroke="#000" stroke-width="0.22" >10</text>
<line x1="320.5" y1="144.2" x2="322.1" y2="144.2" stroke="#505050" stroke-width="1.0"/>
<text x="320.45" y="147.14999999999998" font-size="8.2" font-weight="bold" text-anchor="end" fill="#000" stroke="#000" stroke-width="0.22" >15</text>
<text x="323.9" y="149.8" font-size="6.2" font-weight="bold" text-anchor="start" fill="#000" stroke="#000" stroke-width="0.22" >CD4+</text>
<text x="323.9" y="155.6" font-size="6.2" font-weight="bold" text-anchor="start" fill="#000" stroke="#000" stroke-width="0.22" >BAL</text>
<polyline points="332.1,206.5 332.1,169.0 348.6,169.0 348.6,173.5" fill="none" stroke="#777" stroke-width="0.7"/>
<text x="0" y="0" font-size="5.8" font-weight="bold" text-anchor="middle" fill="#ff1010" stroke="#ff1010" stroke-width="0.22" transform="translate(340.35,167.80) scale(0.93,1)">P=0.0069</text>
<line x1="330.95000000000005" y1="209.3" x2="330.95000000000005" y2="210.5" stroke="#a0a0a0" stroke-width="0.8"/>
<line x1="330.95000000000005" y1="226.0" x2="330.95000000000005" y2="229.0" stroke="#a0a0a0" stroke-width="0.8"/>
<rect x="325.6" y="210.5" width="10.699999999999989" height="15.5" fill="#e3e3e3" stroke="#9a9a9a" stroke-width="0.8"/>
<line x1="325.6" y1="218.0" x2="336.3" y2="218.0" stroke="#9a9a9a" stroke-width="0.7"/>
<circle cx="329.1" cy="209.3" r="2.1" fill="#fff" stroke="#555" stroke-width="0.7"/>
<circle cx="333.4" cy="211.5" r="2.1" fill="#fff" stroke="#555" stroke-width="0.7"/>
<circle cx="328.7" cy="218.8" r="2.1" fill="#fff" stroke="#555" stroke-width="0.7"/>
<circle cx="333.9" cy="221.2" r="2.1" fill="#fff" stroke="#555" stroke-width="0.7"/>
<circle cx="331.0" cy="229.0" r="2.1" fill="#fff" stroke="#555" stroke-width="0.7"/>
<line x1="348.8" y1="176.7" x2="348.8" y2="185.5" stroke="#9c78da" stroke-width="0.8"/>
<line x1="348.8" y1="205.2" x2="348.8" y2="212.9" stroke="#9c78da" stroke-width="0.8"/>
<rect x="343.0" y="185.5" width="11.600000000000023" height="19.69999999999999" fill="#ebdefa" stroke="#b18ce6" stroke-width="0.8"/>
<line x1="343.0" y1="198.1" x2="354.6" y2="198.1" stroke="#b18ce6" stroke-width="0.7"/>
<circle cx="348.7" cy="176.7" r="2.1" fill="#5a1fc2"/>
<circle cx="348.7" cy="188.3" r="2.1" fill="#5a1fc2"/>
<circle cx="348.7" cy="194.3" r="2.1" fill="#5a1fc2"/>
<circle cx="346.5" cy="200.5" r="2.1" fill="#5a1fc2"/>
<circle cx="351.8" cy="203.3" r="2.1" fill="#5a1fc2"/>
<circle cx="348.7" cy="212.9" r="2.1" fill="#5a1fc2"/>
<line x1="339.8" y1="249.3" x2="339.8" y2="251.0" stroke="#505050" stroke-width="0.8"/>
<text x="340.0" y="258.9" font-size="7.2" font-weight="bold" text-anchor="middle" fill="#000" stroke="#000" stroke-width="0.22" >Total</text>
<rect x="377.4" y="143.5" width="106.0" height="106.30000000000001" fill="none" stroke="#505050" stroke-width="1.0"/>
<line x1="375.79999999999995" y1="249.8" x2="377.4" y2="249.8" stroke="#505050" stroke-width="1.0"/>
<text x="375.24999999999994" y="252.75" font-size="8.2" font-weight="bold" text-anchor="end" fill="#000" stroke="#000" stroke-width="0.22" >0.0</text>
<line x1="375.79999999999995" y1="228.7" x2="377.4" y2="228.7" stroke="#505050" stroke-width="1.0"/>
<text x="375.24999999999994" y="231.64999999999998" font-size="8.2" font-weight="bold" text-anchor="end" fill="#000" stroke="#000" stroke-width="0.22" >1.0</text>
<line x1="375.79999999999995" y1="207.4" x2="377.4" y2="207.4" stroke="#505050" stroke-width="1.0"/>
<text x="375.24999999999994" y="210.35" font-size="8.2" font-weight="bold" text-anchor="end" fill="#000" stroke="#000" stroke-width="0.22" >2.0</text>
<line x1="375.79999999999995" y1="185.4" x2="377.4" y2="185.4" stroke="#505050" stroke-width="1.0"/>
<text x="375.24999999999994" y="188.35" font-size="8.2" font-weight="bold" text-anchor="end" fill="#000" stroke="#000" stroke-width="0.22" >3.0</text>
<line x1="375.79999999999995" y1="164.3" x2="377.4" y2="164.3" stroke="#505050" stroke-width="1.0"/>
<text x="375.24999999999994" y="167.25" font-size="8.2" font-weight="bold" text-anchor="end" fill="#000" stroke="#000" stroke-width="0.22" >4.0</text>
<line x1="375.79999999999995" y1="144.5" x2="377.4" y2="144.5" stroke="#505050" stroke-width="1.0"/>
<text x="375.24999999999994" y="147.45" font-size="8.2" font-weight="bold" text-anchor="end" fill="#000" stroke="#000" stroke-width="0.22" >5.0</text>
<text x="379.0" y="148.7" font-size="6.2" font-weight="bold" text-anchor="start" fill="#000" stroke="#000" stroke-width="0.22" >CD4+</text>
<text x="379.0" y="155.2" font-size="6.2" font-weight="bold" text-anchor="start" fill="#000" stroke="#000" stroke-width="0.22" >BAL</text>
<polyline points="386.2,205.5 386.2,178.6 404.0,178.6 404.0,186.3" fill="none" stroke="#777" stroke-width="0.7"/>
<text x="0" y="0" font-size="5.8" font-weight="bold" text-anchor="middle" fill="#ff1010" stroke="#ff1010" stroke-width="0.22" transform="translate(395.10,176.50) scale(0.93,1)">P=0.288</text>
<line x1="386.1" y1="208.1" x2="386.1" y2="211.2" stroke="#a0a0a0" stroke-width="0.8"/>
<line x1="386.1" y1="221.8" x2="386.1" y2="221.8" stroke="#a0a0a0" stroke-width="0.8"/>
<rect x="380.6" y="211.2" width="11.0" height="10.600000000000023" fill="#e3e3e3" stroke="#9a9a9a" stroke-width="0.8"/>
<line x1="380.6" y1="219.0" x2="391.6" y2="219.0" stroke="#9a9a9a" stroke-width="0.7"/>
<circle cx="386.4" cy="208.1" r="2.1" fill="#fff" stroke="#555" stroke-width="0.7"/>
<circle cx="386.4" cy="213.0" r="2.1" fill="#fff" stroke="#555" stroke-width="0.7"/>
<circle cx="382.4" cy="220.7" r="2.1" fill="#fff" stroke="#555" stroke-width="0.7"/>
<circle cx="386.4" cy="219.1" r="2.1" fill="#fff" stroke="#555" stroke-width="0.7"/>
<circle cx="390.1" cy="220.0" r="2.1" fill="#fff" stroke="#555" stroke-width="0.7"/>
<line x1="403.79999999999995" y1="189.2" x2="403.79999999999995" y2="194.3" stroke="#9c78da" stroke-width="0.8"/>
<line x1="403.79999999999995" y1="205.3" x2="403.79999999999995" y2="220.2" stroke="#9c78da" stroke-width="0.8"/>
<rect x="398.2" y="194.3" width="11.199999999999989" height="11.0" fill="#ebdefa" stroke="#b18ce6" stroke-width="0.8"/>
<line x1="398.2" y1="197.6" x2="409.4" y2="197.6" stroke="#b18ce6" stroke-width="0.7"/>
<circle cx="403.9" cy="189.2" r="2.1" fill="#5a1fc2"/>
<circle cx="399.5" cy="195.8" r="2.1" fill="#5a1fc2"/>
<circle cx="403.9" cy="194.9" r="2.1" fill="#5a1fc2"/>
<circle cx="407.7" cy="196.5" r="2.1" fill="#5a1fc2"/>
<circle cx="403.9" cy="200.2" r="2.1" fill="#5a1fc2"/>
<circle cx="403.9" cy="220.2" r="2.1" fill="#5a1fc2"/>
<polyline points="421.9,199.2 421.9,153.4 439.5,153.4 439.5,158.8" fill="none" stroke="#777" stroke-width="0.7"/>
<text x="0" y="0" font-size="5.8" font-weight="bold" text-anchor="middle" fill="#ff1010" stroke="#ff1010" stroke-width="0.22" transform="translate(430.70,151.80) scale(0.93,1)">P=0.039</text>
<line x1="421.3" y1="201.5" x2="421.3" y2="211.2" stroke="#a0a0a0" stroke-width="0.8"/>
<line x1="421.3" y1="231.6" x2="421.3" y2="235.4" stroke="#a0a0a0" stroke-width="0.8"/>
<rect x="415.8" y="211.2" width="11.0" height="20.400000000000006" fill="#e3e3e3" stroke="#9a9a9a" stroke-width="0.8"/>
<line x1="415.8" y1="221.3" x2="426.8" y2="221.3" stroke="#9a9a9a" stroke-width="0.7"/>
<circle cx="421.5" cy="201.5" r="2.1" fill="#fff" stroke="#555" stroke-width="0.7"/>
<circle cx="417.6" cy="222.2" r="2.1" fill="#fff" stroke="#555" stroke-width="0.7"/>
<circle cx="425.3" cy="220.0" r="2.1" fill="#fff" stroke="#555" stroke-width="0.7"/>
<circle cx="421.5" cy="228.4" r="2.1" fill="#fff" stroke="#555" stroke-width="0.7"/>
<circle cx="421.5" cy="235.4" r="2.1" fill="#fff" stroke="#555" stroke-width="0.7"/>
<line x1="438.7" y1="161.1" x2="438.7" y2="188.4" stroke="#9c78da" stroke-width="0.8"/>
<line x1="438.7" y1="208.6" x2="438.7" y2="212.5" stroke="#9c78da" stroke-width="0.8"/>
<rect x="433.0" y="188.4" width="11.399999999999977" height="20.19999999999999" fill="#ebdefa" stroke="#b18ce6" stroke-width="0.8"/>
<line x1="433.0" y1="199.3" x2="444.4" y2="199.3" stroke="#b18ce6" stroke-width="0.7"/>
<circle cx="439.5" cy="161.1" r="2.1" fill="#5a1fc2"/>
<circle cx="435.6" cy="196.5" r="2.1" fill="#5a1fc2"/>
<circle cx="443.3" cy="197.6" r="2.1" fill="#5a1fc2"/>
<circle cx="435.6" cy="200.9" r="2.1" fill="#5a1fc2"/>
<circle cx="439.5" cy="207.5" r="2.1" fill="#5a1fc2"/>
<circle cx="439.5" cy="212.5" r="2.1" fill="#5a1fc2"/>
<polyline points="457.4,204.5 457.4,161.7 474.4,161.7 474.4,166.5" fill="none" stroke="#777" stroke-width="0.7"/>
<text x="0" y="0" font-size="5.8" font-weight="bold" text-anchor="middle" fill="#ff1010" stroke="#ff1010" stroke-width="0.22" transform="translate(465.90,160.60) scale(0.93,1)">P=0.039</text>
<line x1="457.25" y1="206.8" x2="457.25" y2="205.9" stroke="#a0a0a0" stroke-width="0.8"/>
<line x1="457.25" y1="226.6" x2="457.25" y2="232.3" stroke="#a0a0a0" stroke-width="0.8"/>
<rect x="450.9" y="205.9" width="12.700000000000045" height="20.69999999999999" fill="#e3e3e3" stroke="#9a9a9a" stroke-width="0.8"/>
<line x1="450.9" y1="215.0" x2="463.6" y2="215.0" stroke="#9a9a9a" stroke-width="0.7"/>
<circle cx="457.5" cy="206.8" r="2.1" fill="#fff" stroke="#555" stroke-width="0.7"/>
<circle cx="453.3" cy="207.5" r="2.1" fill="#fff" stroke="#555" stroke-width="0.7"/>
<circle cx="460.5" cy="207.5" r="2.1" fill="#fff" stroke="#555" stroke-width="0.7"/>
<circle cx="457.2" cy="217.0" r="2.1" fill="#fff" stroke="#555" stroke-width="0.7"/>
<circle cx="457.5" cy="232.3" r="2.1" fill="#fff" stroke="#555" stroke-width="0.7"/>
<line x1="474.35" y1="172.7" x2="474.35" y2="177.5" stroke="#9c78da" stroke-width="0.8"/>
<line x1="474.35" y1="204.4" x2="474.35" y2="209.9" stroke="#9c78da" stroke-width="0.8"/>
<rect x="468.4" y="177.5" width="11.900000000000034" height="26.900000000000006" fill="#ebdefa" stroke="#b18ce6" stroke-width="0.8"/>
<line x1="468.4" y1="193.4" x2="480.3" y2="193.4" stroke="#b18ce6" stroke-width="0.7"/>
<circle cx="474.5" cy="172.7" r="2.1" fill="#5a1fc2"/>
<circle cx="474.5" cy="178.7" r="2.1" fill="#5a1fc2"/>
<circle cx="474.5" cy="185.1" r="2.1" fill="#5a1fc2"/>
<circle cx="470.2" cy="201.3" r="2.1" fill="#5a1fc2"/>
<circle cx="478.5" cy="203.5" r="2.1" fill="#5a1fc2"/>
<circle cx="474.5" cy="209.9" r="2.1" fill="#5a1fc2"/>
<line x1="394.0" y1="249.4" x2="394.0" y2="251.0" stroke="#505050" stroke-width="0.8"/>
<text x="394.0" y="258.9" font-size="6.6" font-weight="bold" text-anchor="middle" fill="#000" stroke="#000" stroke-width="0.22" >M1</text>
<line x1="429.8" y1="249.4" x2="429.8" y2="251.0" stroke="#505050" stroke-width="0.8"/>
<text x="429.8" y="258.9" font-size="6.6" font-weight="bold" text-anchor="middle" fill="#000" stroke="#000" stroke-width="0.22" >NP</text>
<line x1="465.0" y1="249.4" x2="465.0" y2="251.0" stroke="#505050" stroke-width="0.8"/>
<text x="465.0" y="258.9" font-size="6.6" font-weight="bold" text-anchor="middle" fill="#000" stroke="#000" stroke-width="0.22" >PB1</text>
<text x="0" y="0" font-size="8" font-weight="bold" text-anchor="middle" fill="#000" stroke="#000" stroke-width="0.22" transform="translate(505.7,196.6) rotate(-90)">% Responding - BAL</text>
<text font-size="8" font-weight="bold" text-anchor="middle" stroke="#000" stroke-width="0.22" transform="translate(513.7,196.6) rotate(-90)">(CD8<tspan font-size="5" dy="-3">+</tspan><tspan dy="3"> memory subset)</tspan></text>
<rect x="526.2" y="144.4" width="34.799999999999955" height="105.9" fill="none" stroke="#505050" stroke-width="1.0"/>
<line x1="524.6" y1="250.3" x2="526.2" y2="250.3" stroke="#505050" stroke-width="1.0"/>
<text x="523.6500000000001" y="253.25" font-size="8.2" font-weight="bold" text-anchor="end" fill="#000" stroke="#000" stroke-width="0.22" >0</text>
<line x1="524.6" y1="225.4" x2="526.2" y2="225.4" stroke="#505050" stroke-width="1.0"/>
<text x="523.6500000000001" y="228.35" font-size="8.2" font-weight="bold" text-anchor="end" fill="#000" stroke="#000" stroke-width="0.22" >10</text>
<line x1="524.6" y1="200.3" x2="526.2" y2="200.3" stroke="#505050" stroke-width="1.0"/>
<text x="523.6500000000001" y="203.25" font-size="8.2" font-weight="bold" text-anchor="end" fill="#000" stroke="#000" stroke-width="0.22" >20</text>
<line x1="524.6" y1="174.8" x2="526.2" y2="174.8" stroke="#505050" stroke-width="1.0"/>
<text x="523.6500000000001" y="177.75" font-size="8.2" font-weight="bold" text-anchor="end" fill="#000" stroke="#000" stroke-width="0.22" >30</text>
<line x1="524.6" y1="150.2" x2="526.2" y2="150.2" stroke="#505050" stroke-width="1.0"/>
<text x="523.6500000000001" y="153.14999999999998" font-size="8.2" font-weight="bold" text-anchor="end" fill="#000" stroke="#000" stroke-width="0.22" >40</text>
<text x="527.9" y="149.2" font-size="6.2" font-weight="bold" text-anchor="start" fill="#000" stroke="#000" stroke-width="0.22" >CD8+</text>
<text x="527.9" y="155.6" font-size="6.2" font-weight="bold" text-anchor="start" fill="#000" stroke="#000" stroke-width="0.22" >BAL</text>
<polyline points="535.0,210.0 535.0,161.9 552.4,161.9 552.4,166.3" fill="none" stroke="#777" stroke-width="0.7"/>
<text x="0" y="0" font-size="5.8" font-weight="bold" text-anchor="middle" fill="#ff1010" stroke="#ff1010" stroke-width="0.22" transform="translate(543.70,160.80) scale(0.93,1)">P=0.247</text>
<line x1="535.4" y1="212.6" x2="535.4" y2="215.1" stroke="#a0a0a0" stroke-width="0.8"/>
<line x1="535.4" y1="245.6" x2="535.4" y2="246.9" stroke="#a0a0a0" stroke-width="0.8"/>
<rect x="529.9" y="215.1" width="11.0" height="30.5" fill="#e3e3e3" stroke="#9a9a9a" stroke-width="0.8"/>
<line x1="529.9" y1="231.0" x2="540.9" y2="231.0" stroke="#9a9a9a" stroke-width="0.7"/>
<circle cx="535.3" cy="212.6" r="2.1" fill="#fff" stroke="#555" stroke-width="0.7"/>
<circle cx="535.3" cy="217.7" r="2.1" fill="#fff" stroke="#555" stroke-width="0.7"/>
<circle cx="535.3" cy="231.0" r="2.1" fill="#fff" stroke="#555" stroke-width="0.7"/>
<circle cx="533.2" cy="246.9" r="2.1" fill="#fff" stroke="#555" stroke-width="0.7"/>
<circle cx="537.0" cy="245.1" r="2.1" fill="#fff" stroke="#555" stroke-width="0.7"/>
<line x1="552.15" y1="168.8" x2="552.15" y2="191.3" stroke="#9c78da" stroke-width="0.8"/>
<line x1="552.15" y1="236.7" x2="552.15" y2="241.3" stroke="#9c78da" stroke-width="0.8"/>
<rect x="546.0" y="191.3" width="12.299999999999955" height="45.39999999999998" fill="#ebdefa" stroke="#b18ce6" stroke-width="0.8"/>
<line x1="546.0" y1="219.5" x2="558.3" y2="219.5" stroke="#b18ce6" stroke-width="0.7"/>
<circle cx="552.7" cy="168.8" r="2.1" fill="#5a1fc2"/>
<circle cx="552.4" cy="198.5" r="2.1" fill="#5a1fc2"/>
<circle cx="552.4" cy="216.9" r="2.1" fill="#5a1fc2"/>
<circle cx="552.4" cy="222.0" r="2.1" fill="#5a1fc2"/>
<circle cx="552.4" cy="234.9" r="2.1" fill="#5a1fc2"/>
<circle cx="552.4" cy="241.3" r="2.1" fill="#5a1fc2"/>
<line x1="543.5" y1="250.3" x2="543.5" y2="252.0" stroke="#505050" stroke-width="0.8"/>
<text x="543.7" y="258.8" font-size="7.2" font-weight="bold" text-anchor="middle" fill="#000" stroke="#000" stroke-width="0.22" >Total</text>
<rect x="578.2" y="144.2" width="105.39999999999998" height="105.10000000000002" fill="none" stroke="#505050" stroke-width="1.0"/>
<line x1="576.6" y1="249.3" x2="578.2" y2="249.3" stroke="#505050" stroke-width="1.0"/>
<text x="576.5500000000001" y="252.25" font-size="8.2" font-weight="bold" text-anchor="end" fill="#000" stroke="#000" stroke-width="0.22" >0</text>
<line x1="576.6" y1="214.4" x2="578.2" y2="214.4" stroke="#505050" stroke-width="1.0"/>
<text x="576.5500000000001" y="217.35" font-size="8.2" font-weight="bold" text-anchor="end" fill="#000" stroke="#000" stroke-width="0.22" >5</text>
<line x1="576.6" y1="179.3" x2="578.2" y2="179.3" stroke="#505050" stroke-width="1.0"/>
<text x="576.5500000000001" y="182.25" font-size="8.2" font-weight="bold" text-anchor="end" fill="#000" stroke="#000" stroke-width="0.22" >10</text>
<line x1="576.6" y1="144.7" x2="578.2" y2="144.7" stroke="#505050" stroke-width="1.0"/>
<text x="576.5500000000001" y="147.64999999999998" font-size="8.2" font-weight="bold" text-anchor="end" fill="#000" stroke="#000" stroke-width="0.22" >15</text>
<text x="580.2" y="149.8" font-size="6.2" font-weight="bold" text-anchor="start" fill="#000" stroke="#000" stroke-width="0.22" >CD8+</text>
<text x="580.2" y="155.6" font-size="6.2" font-weight="bold" text-anchor="start" fill="#000" stroke="#000" stroke-width="0.22" >BAL</text>
<polyline points="587.9,211.5 587.9,165.2 604.8,165.2 604.8,171.5" fill="none" stroke="#777" stroke-width="0.7"/>
<text x="0" y="0" font-size="5.8" font-weight="bold" text-anchor="middle" fill="#ff1010" stroke="#ff1010" stroke-width="0.22" transform="translate(596.35,163.20) scale(0.93,1)">P=0.453</text>
<line x1="587.25" y1="214.0" x2="587.25" y2="218.3" stroke="#a0a0a0" stroke-width="0.8"/>
<line x1="587.25" y1="248.5" x2="587.25" y2="248.5" stroke="#a0a0a0" stroke-width="0.8"/>
<rect x="581.2" y="218.3" width="12.099999999999909" height="30.19999999999999" fill="#e3e3e3" stroke="#9a9a9a" stroke-width="0.8"/>
<line x1="581.2" y1="231.0" x2="593.3" y2="231.0" stroke="#9a9a9a" stroke-width="0.7"/>
<circle cx="587.1" cy="214.0" r="2.1" fill="#fff" stroke="#555" stroke-width="0.7"/>
<circle cx="587.1" cy="221.7" r="2.1" fill="#fff" stroke="#555" stroke-width="0.7"/>
<circle cx="587.1" cy="231.0" r="2.1" fill="#fff" stroke="#555" stroke-width="0.7"/>
<circle cx="583.5" cy="247.6" r="2.1" fill="#fff" stroke="#555" stroke-width="0.7"/>
<circle cx="591.4" cy="244.8" r="2.1" fill="#fff" stroke="#555" stroke-width="0.7"/>
<line x1="605.15" y1="173.8" x2="605.15" y2="194.3" stroke="#9c78da" stroke-width="0.8"/>
<line x1="605.15" y1="235.2" x2="605.15" y2="239.2" stroke="#9c78da" stroke-width="0.8"/>
<rect x="599.5" y="194.3" width="11.299999999999955" height="40.89999999999998" fill="#ebdefa" stroke="#b18ce6" stroke-width="0.8"/>
<line x1="599.5" y1="224.5" x2="610.8" y2="224.5" stroke="#b18ce6" stroke-width="0.7"/>
<circle cx="604.8" cy="173.8" r="2.1" fill="#5a1fc2"/>
<circle cx="604.6" cy="200.5" r="2.1" fill="#5a1fc2"/>
<circle cx="601.0" cy="224.5" r="2.1" fill="#5a1fc2"/>
<circle cx="608.9" cy="223.9" r="2.1" fill="#5a1fc2"/>
<circle cx="604.6" cy="235.2" r="2.1" fill="#5a1fc2"/>
<circle cx="604.6" cy="239.2" r="2.1" fill="#5a1fc2"/>
<polyline points="623.1,215.5 623.1,169.5 640.5,169.5 640.5,176.0" fill="none" stroke="#777" stroke-width="0.7"/>
<text x="0" y="0" font-size="5.8" font-weight="bold" text-anchor="middle" fill="#ff1010" stroke="#ff1010" stroke-width="0.22" transform="translate(631.80,168.00) scale(0.93,1)">P=0.395</text>
<line x1="622.6500000000001" y1="217.4" x2="622.6500000000001" y2="217.4" stroke="#a0a0a0" stroke-width="0.8"/>
<line x1="622.6500000000001" y1="247.0" x2="622.6500000000001" y2="247.0" stroke="#a0a0a0" stroke-width="0.8"/>
<rect x="616.7" y="217.4" width="11.899999999999977" height="29.599999999999994" fill="#e3e3e3" stroke="#9a9a9a" stroke-width="0.8"/>
<line x1="616.7" y1="244.8" x2="628.6" y2="244.8" stroke="#9a9a9a" stroke-width="0.7"/>
<circle cx="618.7" cy="218.8" r="2.1" fill="#fff" stroke="#555" stroke-width="0.7"/>
<circle cx="627.2" cy="218.0" r="2.1" fill="#fff" stroke="#555" stroke-width="0.7"/>
<circle cx="618.7" cy="241.4" r="2.1" fill="#fff" stroke="#555" stroke-width="0.7"/>
<circle cx="618.7" cy="244.8" r="2.1" fill="#fff" stroke="#555" stroke-width="0.7"/>
<circle cx="626.3" cy="244.8" r="2.1" fill="#fff" stroke="#555" stroke-width="0.7"/>
<line x1="639.8" y1="178.3" x2="639.8" y2="192.2" stroke="#9c78da" stroke-width="0.8"/>
<line x1="639.8" y1="238.3" x2="639.8" y2="244.8" stroke="#9c78da" stroke-width="0.8"/>
<rect x="634.4" y="192.2" width="10.800000000000068" height="46.10000000000002" fill="#ebdefa" stroke="#b18ce6" stroke-width="0.8"/>
<line x1="634.4" y1="220.4" x2="645.2" y2="220.4" stroke="#b18ce6" stroke-width="0.7"/>
<circle cx="640.2" cy="178.3" r="2.1" fill="#5a1fc2"/>
<circle cx="639.9" cy="197.3" r="2.1" fill="#5a1fc2"/>
<circle cx="639.9" cy="217.5" r="2.1" fill="#5a1fc2"/>
<circle cx="639.9" cy="222.8" r="2.1" fill="#5a1fc2"/>
<circle cx="639.9" cy="236.0" r="2.1" fill="#5a1fc2"/>
<circle cx="639.9" cy="244.8" r="2.1" fill="#5a1fc2"/>
<polyline points="658.2,208.0 658.2,160.5 675.6,160.5 675.6,166.0" fill="none" stroke="#777" stroke-width="0.7"/>
<text x="0" y="0" font-size="5.8" font-weight="bold" text-anchor="middle" fill="#ff1010" stroke="#ff1010" stroke-width="0.22" transform="translate(666.90,158.90) scale(0.93,1)">P=0.488</text>
<line x1="657.95" y1="211.0" x2="657.95" y2="214.6" stroke="#a0a0a0" stroke-width="0.8"/>
<line x1="657.95" y1="246.5" x2="657.95" y2="246.5" stroke="#a0a0a0" stroke-width="0.8"/>
<rect x="652.0" y="214.6" width="11.899999999999977" height="31.900000000000006" fill="#e3e3e3" stroke="#9a9a9a" stroke-width="0.8"/>
<line x1="652.0" y1="223.6" x2="663.9" y2="223.6" stroke="#9a9a9a" stroke-width="0.7"/>
<circle cx="657.7" cy="211.0" r="2.1" fill="#fff" stroke="#555" stroke-width="0.7"/>
<circle cx="657.7" cy="218.3" r="2.1" fill="#fff" stroke="#555" stroke-width="0.7"/>
<circle cx="657.7" cy="223.6" r="2.1" fill="#fff" stroke="#555" stroke-width="0.7"/>
<circle cx="654.5" cy="245.6" r="2.1" fill="#fff" stroke="#555" stroke-width="0.7"/>
<circle cx="661.9" cy="245.6" r="2.1" fill="#fff" stroke="#555" stroke-width="0.7"/>
<line x1="675.55" y1="168.3" x2="675.55" y2="197.0" stroke="#9c78da" stroke-width="0.8"/>
<line x1="675.55" y1="237.6" x2="675.55" y2="240.9" stroke="#9c78da" stroke-width="0.8"/>
<rect x="669.8" y="197.0" width="11.5" height="40.599999999999994" fill="#ebdefa" stroke="#b18ce6" stroke-width="0.8"/>
<line x1="669.8" y1="219.4" x2="681.3" y2="219.4" stroke="#b18ce6" stroke-width="0.7"/>
<circle cx="675.6" cy="168.3" r="2.1" fill="#5a1fc2"/>
<circle cx="675.4" cy="207.2" r="2.1" fill="#5a1fc2"/>
<circle cx="675.4" cy="215.4" r="2.1" fill="#5a1fc2"/>
<circle cx="675.4" cy="223.8" r="2.1" fill="#5a1fc2"/>
<circle cx="675.4" cy="233.3" r="2.1" fill="#5a1fc2"/>
<circle cx="675.4" cy="240.9" r="2.1" fill="#5a1fc2"/>
<line x1="596.2" y1="249.3" x2="596.2" y2="251.0" stroke="#505050" stroke-width="0.8"/>
<text x="596.2" y="258.9" font-size="6.6" font-weight="bold" text-anchor="middle" fill="#000" stroke="#000" stroke-width="0.22" >M1</text>
<line x1="631.4" y1="249.3" x2="631.4" y2="251.0" stroke="#505050" stroke-width="0.8"/>
<text x="631.4" y="258.9" font-size="6.6" font-weight="bold" text-anchor="middle" fill="#000" stroke="#000" stroke-width="0.22" >NP</text>
<line x1="666.7" y1="249.3" x2="666.7" y2="251.0" stroke="#505050" stroke-width="0.8"/>
<text x="666.7" y="258.9" font-size="6.6" font-weight="bold" text-anchor="middle" fill="#000" stroke="#000" stroke-width="0.22" >PB1</text>
<rect x="452.5" y="266.6" width="7.8" height="6.0" fill="#e3e3e3" stroke="#8a8a8a" stroke-width="0.8" />
<text x="465.4" y="272.4" font-size="6.4" font-weight="bold" text-anchor="start" fill="#555" stroke="#555" stroke-width="0.22" >Terminal</text>
<rect x="506.7" y="266.6" width="8.0" height="6.0" fill="#dcc6f6" stroke="#9a6ce0" stroke-width="0.8" />
<text x="519.7" y="272.4" font-size="6.4" font-weight="bold" text-anchor="start" fill="#6a1fd0" stroke="#6a1fd0" stroke-width="0.22" >Survived</text>
</svg>
</body></html>
